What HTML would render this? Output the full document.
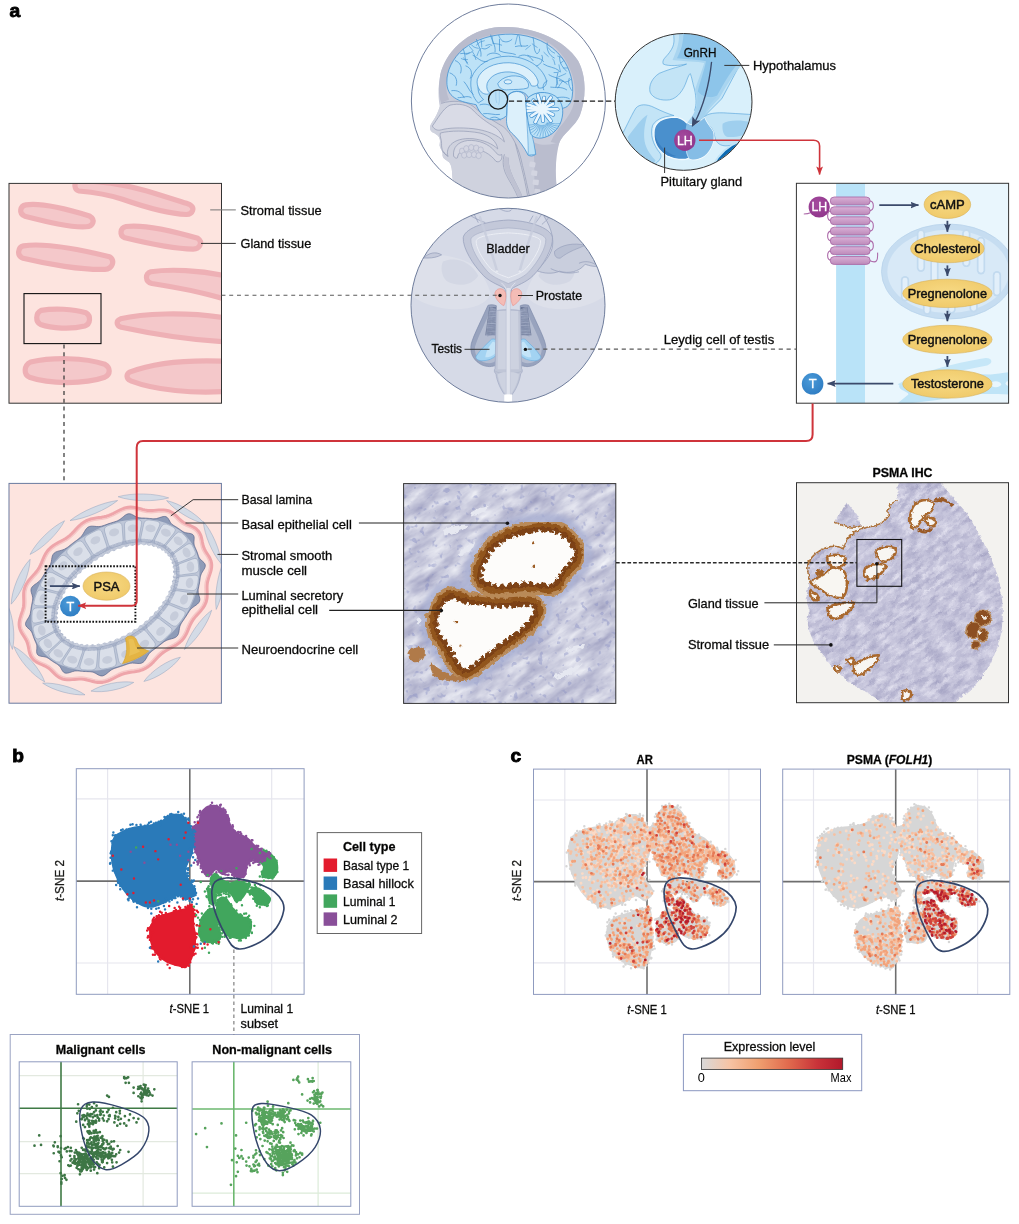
<!DOCTYPE html>
<html lang="en"><head><meta charset="utf-8"><title>Figure</title>
<style>
html,body{margin:0;padding:0;background:#fff;}
body{width:1019px;height:1224px;overflow:hidden;}
svg{display:block;font-family:"Liberation Sans", sans-serif;}
</style></head><body>
<svg width="1019" height="1224" viewBox="0 0 1019 1224">
<defs><marker id="ar" viewBox="0 0 10 8" refX="9.5" refY="4" markerUnits="userSpaceOnUse" markerWidth="8.6" markerHeight="6.8" orient="auto-start-reverse"><path d="M0,0 L10,4 L0,8 L2.2,4 z" fill="#cf343b"/></marker>
<marker id="an" viewBox="0 0 10 8" refX="9.5" refY="4" markerUnits="userSpaceOnUse" markerWidth="8.4" markerHeight="6.8" orient="auto-start-reverse"><path d="M0,0 L10,4 L0,8 L1.6,4 z" fill="#3b4a6b"/></marker></defs>
<defs><clipPath id="cpT"><rect x="9" y="183.4" width="212.5" height="219.8"/></clipPath></defs>
<rect x="9.0" y="183.4" width="212.5" height="219.8" fill="#fde4df" stroke="none" stroke-width="0" />
<g clip-path="url(#cpT)"><g transform="translate(0,170) scale(0.23553)" stroke="#eeb0b5" stroke-width="22" fill="#f4c8ca" stroke-linejoin="round">
<path d="M330,45 C420,45 520,60 620,88 C700,112 770,135 805,146 C830,160 818,188 792,189 C700,185 600,152 520,124 C440,98 370,92 335,89 C315,85 312,55 330,45 Z"/>
<path d="M110,148 C160,140 250,155 380,195 C408,212 395,240 365,241 C300,245 200,220 105,196 C78,185 85,152 110,148 Z"/>
<path d="M535,240 C600,232 720,255 840,290 C862,305 850,335 820,336 C740,335 620,310 530,288 C505,278 510,245 535,240 Z"/>
<path d="M100,322 C180,310 330,335 465,368 C490,385 478,420 445,422 C350,425 200,400 98,375 C70,365 75,328 100,322 Z"/>
<path d="M640,432 C720,420 850,425 960,450 L960,550 C880,525 760,500 645,482 C615,475 615,438 640,432 Z"/>
<path d="M175,596 C230,586 310,590 365,606 C388,620 384,655 360,662 C300,678 220,672 172,656 C150,645 150,608 175,596 Z"/>
<path d="M512,632 C600,610 780,600 960,628 L960,730 C800,722 640,695 515,668 C492,660 492,640 512,632 Z"/>
<path d="M130,815 C220,795 360,795 445,825 C470,840 470,868 445,880 C360,910 210,910 125,880 C100,868 100,830 130,815 Z"/>
<path d="M550,858 C650,820 800,805 960,812 L960,940 C820,950 660,935 555,895 C535,885 535,868 550,858 Z"/>
</g></g>
<rect x="9.0" y="183.4" width="212.5" height="219.8" fill="none" stroke="#333" stroke-width="1" />
<rect x="24.0" y="293.6" width="77.0" height="50.0" fill="none" stroke="#111" stroke-width="1.1" />
<defs><clipPath id="cpH"><circle cx="508.4" cy="101" r="96.6"/></clipPath></defs>
<circle cx="508.4" cy="101" r="97" fill="#fff"/>
<g clip-path="url(#cpH)"><g transform="translate(420,20) scale(0.17665)">
<path d="M112,330 C125,220 230,70 420,42 C600,25 800,90 895,230 C945,320 940,450 905,540 C880,600 810,640 785,700 C765,760 760,850 775,960 L800,1100 L300,1100 L300,1000 C250,985 200,950 185,900 C180,870 185,830 165,805 C140,790 125,780 128,760 C130,745 118,735 112,715 C108,700 118,690 110,670 C105,655 95,650 80,640 C55,630 50,610 65,585 C85,555 105,520 112,490 C105,450 100,400 112,330 Z" fill="#c9ccda"/>
<path d="M112,330 C125,220 230,70 420,42 C600,25 800,90 895,230 C945,320 940,450 905,540 C880,600 810,640 785,700 L740,690 C780,600 850,560 872,470 C895,360 850,240 770,160 C680,80 540,60 420,82 C280,105 180,200 152,330 C145,380 150,420 165,450 L120,470 C105,430 104,380 112,330Z" fill="#b9bccd"/>
<path d="M640,690 C700,720 760,700 790,690 C770,760 762,850 776,960 L800,1100 L640,1100 C650,950 650,800 640,690Z" fill="#babdce"/>
<path d="M120,470 C180,450 260,455 300,485 C340,520 400,560 470,600 C520,640 560,720 580,820 C600,900 620,1000 640,1100 L300,1100 L300,1000 C250,985 200,950 185,900 C180,870 185,830 165,805 C140,790 125,780 128,760 C130,745 118,735 112,715 C108,700 118,690 110,670 C105,655 95,650 80,640 C55,630 50,610 65,585 C85,555 105,520 112,490Z" fill="#cfd2de"/>
<path d="M120,472 C180,452 260,458 300,488 C340,523 400,563 470,603 C520,643 560,723 580,823 C600,903 620,1000 640,1100" fill="none" stroke="#9ba1ba" stroke-width="4.5"/>
<path d="M70,600 C100,560 130,500 170,482 C220,470 270,480 300,510 C330,545 380,580 430,610 C455,630 470,660 478,690 C440,650 380,625 300,615 C230,608 160,610 120,622 C100,628 80,620 70,600Z" fill="#d9dbe6" stroke="#9ba1ba" stroke-width="4.5"/>
<path d="M115,640 C170,625 260,625 340,640 C400,655 435,690 440,730 C410,700 360,680 300,672 C240,668 200,680 175,705 C160,720 150,745 158,770 C135,760 120,735 122,700 C123,675 110,660 115,640Z" fill="#d6d8e3" stroke="#9ba1ba" stroke-width="4.5"/>
<path d="M190,770 C185,720 215,690 270,682 C330,678 390,700 425,745 C440,765 455,770 462,760 C470,790 450,810 430,800 C400,760 350,730 290,728 C240,728 215,750 212,780 C205,785 195,780 190,770Z" fill="#d6d8e3" stroke="#9ba1ba" stroke-width="4.5"/>
<ellipse cx="238" cy="742" rx="15" ry="17" fill="#d3d5e1" stroke="#b0b5c9" stroke-width="3.5"/>
<ellipse cx="262" cy="728" rx="15" ry="17" fill="#d3d5e1" stroke="#b0b5c9" stroke-width="3.5"/>
<ellipse cx="290" cy="722" rx="15" ry="17" fill="#d3d5e1" stroke="#b0b5c9" stroke-width="3.5"/>
<ellipse cx="318" cy="725" rx="15" ry="17" fill="#d3d5e1" stroke="#b0b5c9" stroke-width="3.5"/>
<ellipse cx="344" cy="735" rx="15" ry="17" fill="#d3d5e1" stroke="#b0b5c9" stroke-width="3.5"/>
<ellipse cx="250" cy="765" rx="15" ry="17" fill="#d3d5e1" stroke="#b0b5c9" stroke-width="3.5"/>
<ellipse cx="278" cy="762" rx="15" ry="17" fill="#d3d5e1" stroke="#b0b5c9" stroke-width="3.5"/>
<ellipse cx="306" cy="762" rx="15" ry="17" fill="#d3d5e1" stroke="#b0b5c9" stroke-width="3.5"/>
<ellipse cx="332" cy="768" rx="15" ry="17" fill="#d3d5e1" stroke="#b0b5c9" stroke-width="3.5"/>
<path d="M128,745 C140,750 150,765 160,775" fill="none" stroke="#9ba1ba" stroke-width="4.5"/>
<path d="M478,760 C465,800 470,840 490,880 C510,920 540,960 560,1020 M500,780 C495,830 520,880 545,930 C565,970 580,1000 590,1040 M540,700 C560,780 590,880 610,1000" fill="none" stroke="#9ba1ba" stroke-width="4.5"/>
<path d="M480,770 C470,810 475,840 492,878 C512,918 542,958 562,1020 L592,1040 C582,1000 567,970 547,930 C522,880 497,830 502,780Z" fill="#bfc2d2"/>
<rect x="622" y="800" width="34" height="30" rx="6" fill="#d3d5e1" transform="rotate(10 622 800)"/>
<rect x="632" y="850" width="34" height="30" rx="6" fill="#d3d5e1" transform="rotate(8 632 850)"/>
<rect x="640" y="902" width="34" height="30" rx="6" fill="#d3d5e1" transform="rotate(6 640 902)"/>
<rect x="648" y="955" width="34" height="30" rx="6" fill="#d3d5e1" transform="rotate(5 648 955)"/>
<path d="M152,352 C150,290 185,215 245,165 C320,105 420,78 520,80 C640,85 740,130 805,215 C850,275 872,360 862,430 C858,470 835,500 800,500 C790,470 770,440 740,425 C700,405 650,410 615,440 L600,420 C570,395 520,400 498,425 C490,470 495,500 490,540 C470,565 430,572 390,560 C350,545 330,510 318,480 C280,470 230,465 195,440 C165,420 152,390 152,352Z" fill="#bde2f7" stroke="#3f90d2" stroke-width="4.5"/>
<path d="M290,330 C320,250 400,205 500,205 C600,208 690,260 715,340 C720,370 700,390 670,385 C660,330 600,270 510,262 C420,258 350,300 330,370 C325,400 335,430 360,450 L330,470 C300,440 280,390 290,330Z" fill="#bde2f7" stroke="#3f90d2" stroke-width="4"/>
<path d="M325,335 C345,275 420,240 505,242 C590,246 650,290 668,345 C672,368 655,380 630,372 C615,330 570,298 505,294 C440,292 395,318 380,360 C375,385 380,400 395,415 C380,425 355,420 340,400 C325,380 320,355 325,335Z" fill="#dcf0fb" stroke="#3f90d2" stroke-width="4"/>
<path d="M440,360 C465,320 530,305 580,325 C610,340 622,365 610,385 C580,395 540,392 500,395 C470,398 448,390 440,360Z" fill="#cbe8f9" stroke="#3f90d2" stroke-width="4"/>
<ellipse cx="498" cy="350" rx="22" ry="12" fill="#dcf0fb" stroke="#3f90d2" stroke-width="4"/>
<clipPath id="cpBr"><path d="M152,352 C150,290 185,215 245,165 C320,105 420,78 520,80 C640,85 740,130 805,215 C850,275 872,360 862,430 C858,470 835,500 800,500 C790,470 770,440 740,425 C700,405 650,410 615,440 L600,420 C570,395 520,400 498,425 C490,470 495,500 490,540 C470,565 430,572 390,560 C350,545 330,510 318,480 C280,470 230,465 195,440 C165,420 152,390 152,352Z"/></clipPath>
<g clip-path="url(#cpBr)" fill="none" stroke="#3f90d2" stroke-width="3.5" stroke-linecap="round"><path d="M258.8,196.1 Q278.7,190.6 294.7,179.9"/><path d="M784.1,321.6 Q805.8,313.7 825.5,303.4"/><path d="M414.3,133.6 Q411,115.3 406.6,85.4"/><path d="M664.7,191.2 Q679.8,177.6 677.3,165.4"/><path d="M726.2,157.2 Q742.8,183.1 762.1,188"/><path d="M758.8,297.8 Q779.6,300.9 792.2,290.6"/><path d="M786.6,254.1 Q788.7,267.7 795.2,294"/><path d="M349.7,151.6 Q350.1,117.9 342.3,100.4"/><path d="M811.2,271.8 Q835.7,272.7 844.3,270"/><path d="M322.1,202.6 Q330.9,173.3 343.9,160.8"/><path d="M330,160.4 Q300,156 291.9,141.1"/><path d="M318.8,142.6 Q336.8,119.6 364,117"/><path d="M598.5,166.6 Q606.2,160 625.4,144.2"/><path d="M808.8,343.9 Q791.9,363.4 780.9,384.8"/><path d="M539.4,136.4 Q545.8,110.3 551.9,87.4"/><path d="M701.3,183 Q709,190.9 726.1,206.4"/><path d="M779.3,203.7 Q800.4,204.8 815.2,226.9"/><path d="M634.9,135.1 Q648.9,147.1 663.4,154.9"/><path d="M772.1,326.4 Q778.1,341.2 779.6,364.7"/><path d="M372.8,144.2 Q396.8,133.6 407.1,142"/><path d="M795.8,243.6 Q816.6,227.6 822.9,224.1"/><path d="M268.7,224.2 Q247.1,229.4 233.4,218.6"/><path d="M468.2,121.7 Q449.1,104.1 443.5,83.1"/><path d="M300.7,174.3 Q297.6,169.9 279.8,149.3"/><path d="M270,241.4 Q249.2,222.7 246.1,214.1"/><path d="M751.7,219.6 Q759.6,224.8 764.2,252.2"/><path d="M414.4,132.2 Q450.1,135.6 462.5,142.3"/><path d="M819.4,352.2 Q843.2,350 854.8,336"/><path d="M788.5,342.9 Q821.7,344.2 832.3,363.8"/><path d="M316.6,223.9 Q308.4,189.6 296.4,178.6"/></g>
<g fill="none" stroke="#3f90d2" stroke-width="4" stroke-linecap="round"><path d="M245,165 C260,200 250,230 270,250"/><path d="M200,230 C230,240 240,270 230,300"/><path d="M170,300 C200,310 215,340 205,370"/><path d="M180,400 C215,395 235,410 250,440"/><path d="M320,110 C330,150 350,170 345,205"/><path d="M400,85 C405,120 430,140 425,180"/><path d="M450,110 L450,175 C480,190 520,185 540,195"/><path d="M470,120 C490,130 510,120 520,110"/><path d="M540,150 C570,140 590,155 610,145"/><path d="M560,85 C570,110 560,130 575,150"/><path d="M640,100 C650,140 640,170 660,190"/><path d="M610,200 C640,215 680,210 700,235"/><path d="M720,130 C715,170 730,200 760,215"/><path d="M700,250 C730,270 760,265 785,285"/><path d="M790,210 C790,250 810,270 830,290"/><path d="M730,310 C760,330 790,325 815,350"/><path d="M740,380 C770,385 800,375 830,395"/><path d="M760,440 C790,440 815,430 845,445"/><path d="M845,330 C835,355 845,380 860,400"/><path d="M260,260 C290,270 300,300 285,330"/><path d="M250,350 C270,370 275,400 300,420"/><path d="M215,440 C245,440 270,425 290,440"/><path d="M340,480 C370,470 400,480 420,500"/><path d="M360,530 C390,525 420,540 450,535"/><path d="M400,555 C420,545 440,550 455,565"/><path d="M300,200 C330,215 345,240 380,235"/><path d="M380,200 C400,180 440,185 455,200"/><path d="M560,205 C590,190 620,200 640,230"/><path d="M350,160 C370,170 380,160 395,150"/><path d="M660,260 C690,250 700,220 690,200"/><path d="M230,190 C250,185 270,195 280,185"/><path d="M780,300 C770,330 780,350 770,380"/><path d="M700,395 C690,370 705,350 720,345"/></g>
<path d="M500,428 C520,400 570,395 592,425 C600,440 598,470 603,520 C610,580 640,680 655,760 C640,772 625,772 612,765 C590,720 560,680 530,650 C500,625 488,600 490,560 C495,520 490,470 500,428Z" fill="#dcf0fb" stroke="#3f90d2" stroke-width="4.5"/>
<path d="M603,520 C620,600 645,680 655,760 L612,765 C615,700 605,600 603,520Z" fill="#bde2f7" stroke="#3f90d2" stroke-width="3"/>
<path d="M612,440 C650,405 715,400 765,430 C800,455 815,500 805,550 C795,610 745,660 690,668 C660,672 632,660 625,640 C615,600 605,540 603,500 C600,475 602,455 612,440Z" fill="#bde2f7" stroke="#3f90d2" stroke-width="4.5"/>
<clipPath id="cpCb"><path d="M612,440 C650,405 715,400 765,430 C800,455 815,500 805,550 C795,610 745,660 690,668 C660,672 632,660 625,640 C615,600 605,540 603,500 C600,475 602,455 612,440Z"/></clipPath>
<g clip-path="url(#cpCb)" fill="none" stroke="#3f90d2" stroke-width="3"><path d="M718.2,581.8 Q773.1,591.9 808.1,586"/><path d="M716.2,584.7 Q768.4,601.9 800.6,603.2"/><path d="M713.6,587.3 Q762.1,611.1 790.6,618.9"/><path d="M710.5,589.6 Q754.4,619.2 778.4,632.8"/><path d="M706.8,591.6 Q745.5,626 764.3,644.5"/><path d="M702.7,593.1 Q735.6,631.4 748.6,653.8"/><path d="M698.3,594.2 Q725,635.3 731.7,660.4"/><path d="M693.7,594.9 Q713.8,637.5 714,664.1"/><path d="M689,595 Q702.5,638 696,664.9"/><path d="M684.3,594.6 Q691.2,636.7 678.1,662.8"/><path d="M679.7,593.8 Q680.2,633.8 660.7,657.8"/><path d="M675.5,592.5 Q669.9,629.2 644.2,650"/><path d="M671.5,590.8 Q660.4,623.2 629.2,639.6"/><path d="M668.1,588.6 Q652,615.7 615.9,626.8"/><path d="M665.1,586.2 Q644.9,607.1 604.7,612.1"/><path d="M662.8,583.5 Q639.3,597.6 595.8,595.7"/></g>
<g clip-path="url(#cpCb)"><g stroke="#3f90d2" stroke-width="23" stroke-linecap="round"><line x1="690" y1="505" x2="607.3" y2="477.3"/><line x1="690" y1="505" x2="641.8" y2="455.8"/><line x1="690" y1="505" x2="667.2" y2="426.8"/><line x1="690" y1="505" x2="702.5" y2="439.8"/><line x1="690" y1="505" x2="740.5" y2="438.7"/><line x1="690" y1="505" x2="753.6" y2="473.9"/><line x1="690" y1="505" x2="778" y2="505"/><line x1="690" y1="505" x2="753.6" y2="536.1"/><line x1="690" y1="505" x2="740.5" y2="571.3"/><line x1="690" y1="505" x2="696.3" y2="571"/><line x1="690" y1="505" x2="652.8" y2="578.4"/><line x1="690" y1="505" x2="631" y2="543"/><line x1="690" y1="505" x2="602.9" y2="516.3"/></g>
<g stroke="#eaf6fd" stroke-width="15" stroke-linecap="round"><line x1="690" y1="505" x2="607.3" y2="477.3"/><line x1="690" y1="505" x2="641.8" y2="455.8"/><line x1="690" y1="505" x2="667.2" y2="426.8"/><line x1="690" y1="505" x2="702.5" y2="439.8"/><line x1="690" y1="505" x2="740.5" y2="438.7"/><line x1="690" y1="505" x2="753.6" y2="473.9"/><line x1="690" y1="505" x2="778" y2="505"/><line x1="690" y1="505" x2="753.6" y2="536.1"/><line x1="690" y1="505" x2="740.5" y2="571.3"/><line x1="690" y1="505" x2="696.3" y2="571"/><line x1="690" y1="505" x2="652.8" y2="578.4"/><line x1="690" y1="505" x2="631" y2="543"/><line x1="690" y1="505" x2="602.9" y2="516.3"/></g>
<circle cx="690" cy="505" r="26" fill="#eaf6fd"/>
<line x1="600" y1="497" x2="690" y2="505" stroke="#eaf6fd" stroke-width="15"/></g>
<path d="M428,395 C432,420 425,445 435,470 M450,400 C445,430 455,455 445,480" fill="none" stroke="#7fb9e3" stroke-width="2.5"/>
<circle cx="442" cy="450" r="54" fill="none" stroke="#1a1a1a" stroke-width="7"/>
</g></g>
<circle cx="508.4" cy="101" r="97" fill="none" stroke="#6f7d9c" stroke-width="1"/>
<defs><clipPath id="cpP"><circle cx="683.6" cy="101.9" r="68.0"/></clipPath></defs>
<circle cx="683.6" cy="101.9" r="68.4" fill="#d9f0fb"/>
<g clip-path="url(#cpP)"><g transform="translate(610,28) scale(0.14721)" stroke-linejoin="round">
<path d="M430,20 C435,80 445,110 405,165 C380,200 350,215 362,245 C400,262 470,255 520,245 C480,262 420,272 335,308 C285,340 262,390 272,435 C290,480 350,495 405,488 C460,478 500,420 520,360 C530,330 538,315 545,310 C555,330 560,370 575,420 C585,470 590,520 575,560 L640,600 L760,480 L900,215 L800,100 L560,20Z" fill="#c3e4f6" stroke="#5aa5dc" stroke-width="4.5"/>
<path d="M470,20 C470,80 468,120 425,218 C500,228 600,228 640,238 C625,290 596,360 578,420 C590,470 600,520 572,575 L640,610 C660,560 700,520 740,480 C790,400 850,290 920,225 L800,60 L600,10Z" fill="#a9d5f0"/>
<path d="M500,20 C498,90 490,140 455,205 C520,212 610,215 652,226 C640,290 610,370 596,432 C625,472 690,480 728,458 C770,380 830,270 905,205 L800,60 L600,10Z" fill="#8dc5ea"/>
<path d="M588,425 C604,500 592,545 562,592 C547,617 532,632 522,647 L560,667 C590,652 620,632 642,612 C640,572 672,522 732,462 C690,485 628,478 588,425Z" fill="#a3d1ee"/>
<path d="M60,760 C100,700 140,600 175,545 C200,515 250,515 300,540 C350,565 400,585 435,595 C380,600 320,610 290,660 C270,720 290,790 340,850 C360,880 330,905 300,930 L100,900Z" fill="#c3e4f6" stroke="#5aa5dc" stroke-width="4.5"/>
<path d="M120,740 C170,680 215,610 255,590 C240,640 225,700 235,770 C245,830 290,880 310,900 L270,960 L150,860Z" fill="#9fcfee"/>
<path d="M640,605 C660,580 720,572 800,578 C870,582 930,585 980,590 L980,720 C940,760 880,790 800,800 C750,805 720,780 712,740 C705,700 690,670 660,650 C645,640 635,620 640,605Z" fill="#c3e4f6" stroke="#5aa5dc" stroke-width="4.5"/>
<path d="M765,650 C800,625 880,620 960,640 L960,700 C920,730 850,745 800,740 C770,735 760,690 765,650Z" fill="#9fcfee"/>
<path d="M700,930 C740,860 800,800 880,770 C920,760 960,740 990,720 L990,990 L700,990Z" fill="#0b6ab3"/>
<path d="M700,930 C740,860 800,800 880,770 C920,760 960,740 990,720" fill="none" stroke="#c3e4f6" stroke-width="14"/>
<path d="M300,690 C310,640 360,610 430,605 C470,605 505,625 522,645 C545,660 560,665 580,655 C610,640 630,620 642,610 C650,640 680,670 700,705 C715,760 690,830 640,870 C600,895 560,900 535,885 C500,900 440,895 390,870 C330,835 290,760 300,690Z" fill="#4a90cd" stroke="#f4fbfe" stroke-width="9"/>
<path d="M522,645 C545,660 560,665 580,655 C610,640 630,620 642,610 C650,640 680,670 700,705 C715,760 690,830 640,870 C600,895 560,900 535,885 C515,850 512,800 512,750 C512,700 515,670 522,645Z" fill="#85bde6"/>
<path d="M305,720 C320,790 380,850 450,870 C410,880 370,860 340,825 C315,795 300,755 305,720Z" fill="#3a80c2"/>
<path d="M535,885 C515,850 512,800 512,750" fill="none" stroke="#eef8fd" stroke-width="4"/>
<path d="M690,230 C672,400 625,550 572,648" fill="none" stroke="#3b4a6b" stroke-width="9"/>
<path d="M556,672 L560,600 L582,630 L616,628 Z" fill="#3b4a6b"/>
</g></g>
<circle cx="683.6" cy="101.9" r="68.4" fill="none" stroke="#333" stroke-width="1"/>
<circle cx="684.8" cy="140.2" r="10.7" fill="url(#gPur)"/>
<text x="684.9" y="144.6" font-size="12" text-anchor="middle" fill="#fff" textLength="15.8" lengthAdjust="spacingAndGlyphs" stroke="#fff" stroke-width="0.3">LH</text>
<defs><clipPath id="cpB"><circle cx="508" cy="305.3" r="96.6"/></clipPath></defs>
<circle cx="508" cy="305.3" r="97" fill="#d6dae7"/>
<g clip-path="url(#cpB)"><g transform="translate(420,205) scale(0.17665)" stroke-linejoin="round">
<path d="M-40,300 C60,270 200,280 300,340 C350,380 380,440 400,500 C380,560 300,590 200,590 C100,590 20,560 -40,520Z" fill="#dde0ea"/>
<path d="M1040,300 C940,270 800,280 700,340 C650,380 620,440 600,500 C620,560 700,590 800,590 C900,590 980,560 1040,520Z" fill="#dde0ea"/>
<path d="M130,320 C200,290 290,320 330,400 C300,450 220,470 150,430 C120,400 115,350 130,320Z" fill="#d3d7e4"/>
<path d="M870,320 C800,290 710,320 670,400 C700,450 780,470 850,430 C880,400 885,350 870,320Z" fill="#d3d7e4"/>
<path d="M700,60 C790,90 860,130 900,175 C950,210 990,260 1040,330 L1040,345 C990,352 960,345 935,335 C900,380 840,390 790,375 C750,392 700,388 662,372 C700,330 735,290 748,245 C758,200 750,140 700,60Z" fill="#c9cedd" stroke="#9aa3bd" stroke-width="4.5"/>
<path d="M762,262 C800,225 870,212 935,228 C900,245 840,262 795,300 C775,305 758,290 762,262Z" fill="#b9c0d3" stroke="#9aa3bd" stroke-width="4"/>
<path d="M900,330 C930,315 965,320 990,335 M740,360 C790,385 850,392 900,378" fill="none" stroke="#9aa3bd" stroke-width="4.5"/>
<path d="M20,300 C50,270 90,262 122,282 C100,295 70,300 45,300Z" fill="#c5cadb" stroke="#9aa3bd" stroke-width="4.5"/>
<path d="M250,40 C300,70 340,90 370,100 M300,40 L330,100 M640,60 L620,95 M690,50 C670,80 660,95 650,105 M450,20 C480,40 510,40 520,25 M740,60 C720,85 700,100 690,110" fill="none" stroke="#9aa3bd" stroke-width="4.5"/>
<path d="M245,185 C250,140 350,92 500,85 C650,92 745,140 750,185 C755,240 700,340 640,400 C600,440 545,455 518,475 L518,520 L482,520 L482,475 C455,455 400,440 360,400 C300,340 240,240 245,185Z" fill="#c3c8d9" stroke="#9aa3bd" stroke-width="4.5"/>
<path d="M288,195 C292,165 380,135 500,130 C620,135 708,165 712,195 C715,240 670,320 615,380 C580,415 530,430 500,445 C470,430 420,415 385,380 C330,320 285,240 288,195Z" fill="#d7dbe7" stroke="#a9b1c8" stroke-width="4"/>
<path d="M318,203 C322,180 400,162 500,158 C600,162 678,180 682,203 C685,240 645,310 600,360 C570,390 530,400 500,412 C470,400 430,390 400,360 C355,310 315,240 318,203Z" fill="#d7dbe7" stroke="#eef0f6" stroke-width="5"/>
<path d="M340,70 C370,160 410,280 435,370 M660,70 C630,160 590,280 565,370" fill="none" stroke="#c7ccdc" stroke-width="14" stroke-linecap="round" opacity="0.8"/>
<circle cx="435" cy="376" r="7" fill="#e6e9f0"/><circle cx="565" cy="376" r="7" fill="#e6e9f0"/>
<path d="M385,568 C400,562 420,565 432,570 L432,905 C410,918 380,918 350,905 C310,885 285,850 288,800 C292,760 330,690 385,568Z" fill="#98a3be" stroke="#7f8bab" stroke-width="4"/>
<path d="M615 568 C600 562 580 565 568 570 L568 905 C590 918 620 918 650 905 C690 885 715 850 712 800 C708 760 670 690 615 568 Z" fill="#98a3be" stroke="#7f8bab" stroke-width="4"/>
<path d="M395,600 C380,650 330,740 312,800 C305,840 325,875 360,890 C390,900 415,895 425,885 L425,740 C410,735 395,740 380,745 C385,700 392,650 395,600Z" fill="#b4bcd0"/>
<path d="M605 600 C620 650 670 740 688 800 C695 840 675 875 640 890 C610 900 585 895 575 885 L575 740 C590 735 605 740 620 745 C615 700 608 650 605 600 Z" fill="#b4bcd0"/>
<path d="M392,580 Q411,581.7 430,581.5 M391.1,586.2 Q410.6,590.3 430,588.9 M390.2,592.4 Q410.1,595.8 430,594.9 M389.3,598.6 Q409.6,592 430,598.4 M388.4,604.8 Q409.2,611 430,605.7 M387.5,611 Q408.8,616.6 430,608.7 M386.6,617.2 Q408.3,616.8 430,615.7 M385.7,623.4 Q407.9,624 430,623.8 M384.8,629.6 Q407.4,622.8 430,627.9 M383.9,635.8 Q406.9,632.7 430,638.3 M383,642 Q406.5,645.7 430,640 M382.1,648.2 Q406.1,652.4 430,646 M381.2,654.4 Q405.6,656 430,652.2 M380.3,660.6 Q405.1,653.6 430,662.8 M379.4,666.8 Q404.7,662.7 430,665.1 M378.5,673 Q404.2,679.8 430,675.2 M377.6,679.2 Q403.8,676.3 430,682 M376.7,685.4 Q403.4,685.9 430,686.5 M375.8,691.6 Q402.9,687.5 430,694.2 M374.9,697.8 Q402.4,700.5 430,700.6 M374,704 Q402,709.5 430,702.8 M373.1,710.2 Q401.6,708.3 430,708.2 M372.2,716.4 Q401.1,711.4 430,713.8 M371.3,722.6 Q400.6,719.8 430,723.2 M370.4,728.8 Q400.2,721.8 430,729.9 M369.5,735 Q399.8,732.7 430,733.9" fill="none" stroke="#5d6a8c" stroke-width="4.5"/>
<path d="M398,575 L376,740 M402,577 L382.5,740 M406,579 L389,740 M410,581 L395.5,740 M414,583 L402,740 M418,585 L408.5,740 M422,587 L415,740 M426,589 L421.5,740 M430,591 L428,740" fill="none" stroke="#aeb7cd" stroke-width="2.5"/>
<path d="M608,580 Q589,584.5 570,579.9 M608.9,586.2 Q589.5,583.6 570,586.1 M609.8,592.4 Q589.9,595.3 570,589.7 M610.7,598.6 Q590.4,605.3 570,595.7 M611.6,604.8 Q590.8,608.3 570,606.9 M612.5,611 Q591.2,604.3 570,612.7 M613.4,617.2 Q591.7,615.3 570,617.7 M614.3,623.4 Q592.1,616.5 570,620.7 M615.2,629.6 Q592.6,625.1 570,632.3 M616.1,635.8 Q593,631.6 570,637.3 M617,642 Q593.5,648 570,644.7 M617.9,648.2 Q594,646 570,647.3 M618.8,654.4 Q594.4,654.7 570,656.1 M619.7,660.6 Q594.9,655.1 570,662.1 M620.6,666.8 Q595.3,671 570,669 M621.5,673 Q595.8,666.5 570,675.7 M622.4,679.2 Q596.2,673.5 570,678.2 M623.3,685.4 Q596.6,687 570,687.9 M624.2,691.6 Q597.1,689.4 570,694.1 M625.1,697.8 Q597.5,698.4 570,696.7 M626,704 Q598,701.4 570,702.1 M626.9,710.2 Q598.5,704.3 570,708.1 M627.8,716.4 Q598.9,719 570,719.4 M628.7,722.6 Q599.4,717.9 570,719.9 M629.6,728.8 Q599.8,735.6 570,729 M630.5,735 Q600.2,733.7 570,733.4" fill="none" stroke="#5d6a8c" stroke-width="4.5"/>
<path d="M602,575 L624,740 M598,577 L617.5,740 M594,579 L611,740 M590,581 L604.5,740 M586,583 L598,740 M582,585 L591.5,740 M578,587 L585,740 M574,589 L578.5,740 M570,591 L572,740" fill="none" stroke="#aeb7cd" stroke-width="2.5"/>
<path d="M405,760 C418,757 428,760 432,768 L432,850 C415,870 385,882 350,882 C325,880 312,868 318,855 C340,820 375,790 405,760Z" fill="#a3d3f2" stroke="#6fb0e0" stroke-width="4"/>
<path d="M595 760 C582 757 572 760 568 768 L568 850 C585 870 615 882 650 882 C675 880 688 868 682 855 C660 820 625 790 595 760 Z" fill="#a3d3f2" stroke="#6fb0e0" stroke-width="4"/>
<path d="M410,775 C418,772 425,775 426,785 L426,840 C410,855 390,862 370,862 C372,830 390,800 410,775Z" fill="#c4e4f8"/>
<path d="M590 775 C582 772 575 775 574 785 L574 840 C590 855 610 862 630 862 C628 830 610 800 590 775 Z" fill="#c4e4f8"/>
<path d="M432,600 C440,590 560,590 568,600 L575,925 C582,935 580,950 570,955 C565,1000 540,1050 520,1075 L480,1075 C460,1050 435,1000 430,955 C420,950 418,935 425,925Z" fill="#c0c6d7" stroke="#a3abc4" stroke-width="4"/>
<path d="M445,600 L555,600 L560,930 L440,930Z" fill="#cdd2e0"/>
<path d="M425,940 C450,960 550,960 575,940" fill="none" stroke="#aab2c8" stroke-width="3"/>
<path d="M440,960 C455,940 545,940 560,960 C555,1000 535,1045 515,1070 L485,1070 C465,1045 445,1000 440,960Z" fill="#cdd2e0"/>
<path d="M488,470 L488,1080 L512,1080 L512,470Z" fill="#dfe2ec"/>
<path d="M488,470 L488,1075 M512,470 L512,1075" fill="none" stroke="#b4bbcf" stroke-width="2.5"/>
<path d="M460,440 C475,455 486,465 488,480 M540,440 C525,455 514,465 512,480" fill="none" stroke="#eef0f6" stroke-width="4"/>
<path d="M424,505 C424,485 440,472 458,474 C475,476 486,490 486,510 C486,535 482,555 474,570 C455,560 428,535 424,505Z" fill="#f4bcb6" stroke="#ea9893" stroke-width="4"/>
<path d="M576 505 C576 485 560 472 542 474 C525 476 514 490 514 510 C514 535 518 555 526 570 C545 560 572 535 576 505 Z" fill="#f4bcb6" stroke="#ea9893" stroke-width="4"/>
<rect x="477" y="1072" width="44" height="50" fill="#fff"/>
</g></g>
<circle cx="508" cy="305.3" r="97" fill="none" stroke="#6f7d9c" stroke-width="1"/>
<circle cx="500" cy="295.5" r="1.7" fill="#111"/>
<circle cx="525.4" cy="349.4" r="1.7" fill="#111"/>
<defs><clipPath id="cpL"><rect x="796.4" y="183.3" width="212.20000000000005" height="219.89999999999998"/></clipPath>
<radialGradient id="gOv" cx="0.5" cy="0.45" r="0.75"><stop offset="0" stop-color="#f7d983"/><stop offset="0.7" stop-color="#f0cb6c"/><stop offset="1" stop-color="#e3b54f"/></radialGradient>
<radialGradient id="gPur" cx="0.4" cy="0.35" r="0.8"><stop offset="0" stop-color="#a44a9e"/><stop offset="1" stop-color="#8d3389"/></radialGradient>
<radialGradient id="gBlu" cx="0.4" cy="0.35" r="0.8"><stop offset="0" stop-color="#4a9ad8"/><stop offset="1" stop-color="#2b79c0"/></radialGradient>
<linearGradient id="gHel" x1="0" y1="0" x2="0" y2="1"><stop offset="0" stop-color="#dbb0d8"/><stop offset="0.5" stop-color="#cb9dc8"/><stop offset="1" stop-color="#bd8bba"/></linearGradient>
</defs>
<rect x="796.4" y="183.3" width="212.2" height="219.9" fill="#fff" stroke="none" stroke-width="0" />
<rect x="865.0" y="183.3" width="143.6" height="219.9" fill="#e9f6fd" stroke="none" stroke-width="0" />
<rect x="836.1" y="183.3" width="28.9" height="219.9" fill="#b9e3f8" stroke="none" stroke-width="0" />
<g clip-path="url(#cpL)"><g transform="translate(780,160) scale(0.24513)">
<ellipse cx="686" cy="455" rx="272" ry="194" fill="#c6ddf1" stroke="#b7d2ea" stroke-width="3"/>
<ellipse cx="686" cy="455" rx="248" ry="170" fill="#d8e9f7"/>
<line x1="575" y1="300" x2="575" y2="440" stroke="#c2daef" stroke-width="34" stroke-linecap="round"/>
<line x1="575" y1="300" x2="575" y2="440" stroke="#e2effa" stroke-width="20" stroke-linecap="round"/>
<line x1="630" y1="420" x2="630" y2="520" stroke="#c2daef" stroke-width="34" stroke-linecap="round"/>
<line x1="630" y1="420" x2="630" y2="520" stroke="#e2effa" stroke-width="20" stroke-linecap="round"/>
<line x1="510" y1="490" x2="510" y2="560" stroke="#c2daef" stroke-width="34" stroke-linecap="round"/>
<line x1="510" y1="490" x2="510" y2="560" stroke="#e2effa" stroke-width="20" stroke-linecap="round"/>
<line x1="760" y1="300" x2="760" y2="420" stroke="#c2daef" stroke-width="34" stroke-linecap="round"/>
<line x1="760" y1="300" x2="760" y2="420" stroke="#e2effa" stroke-width="20" stroke-linecap="round"/>
<line x1="820" y1="330" x2="820" y2="450" stroke="#c2daef" stroke-width="34" stroke-linecap="round"/>
<line x1="820" y1="330" x2="820" y2="450" stroke="#e2effa" stroke-width="20" stroke-linecap="round"/>
<line x1="885" y1="470" x2="885" y2="540" stroke="#c2daef" stroke-width="34" stroke-linecap="round"/>
<line x1="885" y1="470" x2="885" y2="540" stroke="#e2effa" stroke-width="20" stroke-linecap="round"/>
<line x1="700" y1="560" x2="700" y2="610" stroke="#c2daef" stroke-width="34" stroke-linecap="round"/>
<line x1="700" y1="560" x2="700" y2="610" stroke="#e2effa" stroke-width="20" stroke-linecap="round"/>
<line x1="600" y1="570" x2="600" y2="615" stroke="#c2daef" stroke-width="34" stroke-linecap="round"/>
<line x1="600" y1="570" x2="600" y2="615" stroke="#e2effa" stroke-width="20" stroke-linecap="round"/>
<line x1="790" y1="560" x2="790" y2="605" stroke="#c2daef" stroke-width="34" stroke-linecap="round"/>
<line x1="790" y1="560" x2="790" y2="605" stroke="#e2effa" stroke-width="20" stroke-linecap="round"/>
<path d="M480,915 C560,870 700,830 840,808 C870,808 868,832 845,838 C720,860 600,895 520,935 Z" fill="#c6e7f8"/>
<path d="M490,915 C560,880 700,870 860,875 C900,870 960,860 1000,862 L1000,960 C900,955 820,950 760,960 C680,975 560,990 470,1000 L520,960 C540,945 470,940 490,915 Z" fill="#bfe4f7"/>
<ellipse cx="880" cy="915" rx="22" ry="12" fill="#e9f6fd"/>
<ellipse cx="950" cy="912" rx="30" ry="13" fill="#e9f6fd"/>
<g fill="none" stroke="#ad6baa" stroke-width="4.5">
<path d="M365,167 C386,167 386,207 365,207"/>
<path d="M210,207 C189,207 189,248 210,248"/>
<path d="M365,248 C386,248 386,290 365,290"/>
<path d="M210,290 C189,290 189,330 210,330"/>
<path d="M365,330 C386,330 386,370 365,370"/>
<path d="M210,370 C189,370 189,410 210,410"/>
<path d="M365,410 C395,425 400,410 398,378"/>
<path d="M97,220 C110,220 118,218 128,214"/>
</g>
<rect x="205" y="151" width="163" height="32" rx="16" fill="url(#gHel)" stroke="#a968a6" stroke-width="3.5"/>
<rect x="205" y="191" width="163" height="32" rx="16" fill="url(#gHel)" stroke="#a968a6" stroke-width="3.5"/>
<rect x="205" y="232" width="163" height="32" rx="16" fill="url(#gHel)" stroke="#a968a6" stroke-width="3.5"/>
<rect x="205" y="274" width="163" height="32" rx="16" fill="url(#gHel)" stroke="#a968a6" stroke-width="3.5"/>
<rect x="205" y="314" width="163" height="32" rx="16" fill="url(#gHel)" stroke="#a968a6" stroke-width="3.5"/>
<rect x="205" y="354" width="163" height="32" rx="16" fill="url(#gHel)" stroke="#a968a6" stroke-width="3.5"/>
<rect x="205" y="394" width="163" height="32" rx="16" fill="url(#gHel)" stroke="#a968a6" stroke-width="3.5"/>
</g></g>
<rect x="796.4" y="183.3" width="212.2" height="219.9" fill="none" stroke="#333" stroke-width="1" />
<circle cx="819.2" cy="207" r="10.6" fill="url(#gPur)"/>
<text x="819.4" y="211.4" font-size="12" text-anchor="middle" fill="#fff" textLength="15.8" lengthAdjust="spacingAndGlyphs" stroke="#fff" stroke-width="0.3">LH</text>
<circle cx="812.6" cy="383.8" r="10.8" fill="url(#gBlu)"/>
<text x="812.6" y="388.3" font-size="12.5" text-anchor="middle" fill="#fff" textLength="7.9" lengthAdjust="spacingAndGlyphs" stroke="#fff" stroke-width="0.3">T</text>
<ellipse cx="947.4" cy="204.6" rx="23.3" ry="13.9" fill="url(#gOv)" stroke="#d9b25a" stroke-width="0.6"/>
<text x="947.4" y="209.0" font-size="12.6" text-anchor="middle" fill="#111" textLength="34.7" lengthAdjust="spacingAndGlyphs" stroke="#111" stroke-width="0.45">cAMP</text>
<ellipse cx="947.4" cy="248.7" rx="36.8" ry="14.1" fill="url(#gOv)" stroke="#d9b25a" stroke-width="0.6"/>
<text x="947.4" y="253.1" font-size="12.6" text-anchor="middle" fill="#111" textLength="66.2" lengthAdjust="spacingAndGlyphs" stroke="#111" stroke-width="0.45">Cholesterol</text>
<ellipse cx="947.4" cy="293.4" rx="44.7" ry="14.2" fill="url(#gOv)" stroke="#d9b25a" stroke-width="0.6"/>
<text x="947.4" y="297.8" font-size="12.6" text-anchor="middle" fill="#111" textLength="79.2" lengthAdjust="spacingAndGlyphs" stroke="#111" stroke-width="0.45">Pregnenolone</text>
<ellipse cx="947.4" cy="339.5" rx="44.7" ry="14.2" fill="url(#gOv)" stroke="#d9b25a" stroke-width="0.6"/>
<text x="947.4" y="343.9" font-size="12.6" text-anchor="middle" fill="#111" textLength="79.2" lengthAdjust="spacingAndGlyphs" stroke="#111" stroke-width="0.45">Pregnenolone</text>
<ellipse cx="947.4" cy="384" rx="44.7" ry="14.2" fill="url(#gOv)" stroke="#d9b25a" stroke-width="0.6"/>
<text x="947.4" y="388.4" font-size="12.6" text-anchor="middle" fill="#111" textLength="73.0" lengthAdjust="spacingAndGlyphs" stroke="#111" stroke-width="0.45">Testosterone</text>
<line x1="879.3" y1="205.1" x2="918.5" y2="205.1" stroke="#3b4a6b" stroke-width="1.8" marker-end="url(#an)"/>
<line x1="947.4" y1="220.8" x2="947.4" y2="231.8" stroke="#3b4a6b" stroke-width="1.8" marker-end="url(#an)"/>
<line x1="947.4" y1="265.4" x2="947.4" y2="276" stroke="#3b4a6b" stroke-width="1.8" marker-end="url(#an)"/>
<line x1="947.4" y1="310.8" x2="947.4" y2="321.2" stroke="#3b4a6b" stroke-width="1.8" marker-end="url(#an)"/>
<line x1="947.4" y1="356" x2="947.4" y2="366.8" stroke="#3b4a6b" stroke-width="1.8" marker-end="url(#an)"/>
<line x1="893.3" y1="383.6" x2="827.6" y2="383.6" stroke="#3b4a6b" stroke-width="1.8" marker-end="url(#an)"/>
<defs><clipPath id="cpG"><rect x="9" y="483.4" width="212.4" height="219.80000000000007"/></clipPath></defs>
<rect x="9.0" y="483.4" width="212.4" height="219.8" fill="#fde4df" stroke="none" stroke-width="0" />
<g clip-path="url(#cpG)"><g transform="translate(0,470) scale(0.23553)">
<path transform="translate(901.5,308.7) rotate(66.9)" d="M-97.82898976699693,0 C-44.02304539514862,-18.25424586962251 44.02304539514862,-18.25424586962251 97.82898976699693,0 C44.02304539514862,18.25424586962251 -44.02304539514862,18.25424586962251 -97.82898976699693,0Z" fill="#d4dbe6" stroke="#95a4bd" stroke-width="2"/>
<path transform="translate(934.5,489.5) rotate(99.1)" d="M-103.71682051471737,0 C-46.672569231622816,-17.862181433337714 46.672569231622816,-17.862181433337714 103.71682051471737,0 C46.672569231622816,17.862181433337714 -46.672569231622816,17.862181433337714 -103.71682051471737,0Z" fill="#d4dbe6" stroke="#95a4bd" stroke-width="2"/>
<path transform="translate(840.8,678.8) rotate(124.8)" d="M-101.6458760775204,0 C-45.74064423488418,-19.328444584562927 45.74064423488418,-19.328444584562927 101.6458760775204,0 C45.74064423488418,19.328444584562927 -45.74064423488418,19.328444584562927 -101.6458760775204,0Z" fill="#d4dbe6" stroke="#95a4bd" stroke-width="2"/>
<path transform="translate(688.4,846.2) rotate(146.4)" d="M-93.04398064594473,0 C-41.86979129067513,-20.037178665947103 41.86979129067513,-20.037178665947103 93.04398064594473,0 C41.86979129067513,20.037178665947103 -41.86979129067513,20.037178665947103 -93.04398064594473,0Z" fill="#d4dbe6" stroke="#95a4bd" stroke-width="2"/>
<path transform="translate(477.1,920.3) rotate(168.5)" d="M-92.67492185195573,0 C-41.70371483338008,-19.668228418311926 41.70371483338008,-19.668228418311926 92.67492185195573,0 C41.70371483338008,19.668228418311926 -41.70371483338008,19.668228418311926 -92.67492185195573,0Z" fill="#d4dbe6" stroke="#95a4bd" stroke-width="2"/>
<path transform="translate(271,929.7) rotate(-164.6)" d="M-93.25739762434314,0 C-41.965828930954416,-17.953565066719325 41.965828930954416,-17.953565066719325 93.25739762434314,0 C41.965828930954416,17.953565066719325 -41.965828930954416,17.953565066719325 -93.25739762434314,0Z" fill="#d4dbe6" stroke="#95a4bd" stroke-width="2"/>
<path transform="translate(124.5,824.7) rotate(-131.1)" d="M-99.64134540456526,0 C-44.838605432054365,-21.634260623360188 44.838605432054365,-21.634260623360188 99.64134540456526,0 C44.838605432054365,21.634260623360188 -44.838605432054365,21.634260623360188 -99.64134540456526,0Z" fill="#d4dbe6" stroke="#95a4bd" stroke-width="2"/>
<path transform="translate(42.7,668) rotate(-96.2)" d="M-94.22843530069362,0 C-42.40279588531213,-18.616194823035073 42.40279588531213,-18.616194823035073 94.22843530069362,0 C42.40279588531213,18.616194823035073 -42.40279588531213,18.616194823035073 -94.22843530069362,0Z" fill="#d4dbe6" stroke="#95a4bd" stroke-width="2"/>
<path transform="translate(87.7,474.4) rotate(-67.2)" d="M-103.29379800330061,0 C-46.482209101485275,-22.238544712285027 46.482209101485275,-22.238544712285027 103.29379800330061,0 C46.482209101485275,22.238544712285027 -46.482209101485275,22.238544712285027 -103.29379800330061,0Z" fill="#d4dbe6" stroke="#95a4bd" stroke-width="2"/>
<path transform="translate(200.9,287) rotate(-44.3)" d="M-102.38785307511498,0 C-46.07453388380174,-19.4834023732539 46.07453388380174,-19.4834023732539 102.38785307511498,0 C46.07453388380174,19.4834023732539 -46.07453388380174,19.4834023732539 -102.38785307511498,0Z" fill="#d4dbe6" stroke="#95a4bd" stroke-width="2"/>
<path transform="translate(398.4,172.2) rotate(-22.9)" d="M-109.57259190067256,0 C-49.30766635530266,-17.73291340308878 49.30766635530266,-17.73291340308878 109.57259190067256,0 C49.30766635530266,17.73291340308878 -49.30766635530266,17.73291340308878 -109.57259190067256,0Z" fill="#d4dbe6" stroke="#95a4bd" stroke-width="2"/>
<path transform="translate(608.8,116) rotate(1.3)" d="M-107.45243226287623,0 C-48.3535945182943,-18.94804643165838 48.3535945182943,-18.94804643165838 107.45243226287623,0 C48.3535945182943,18.94804643165838 -48.3535945182943,18.94804643165838 -107.45243226287623,0Z" fill="#d4dbe6" stroke="#95a4bd" stroke-width="2"/>
<path transform="translate(788.3,179.1) rotate(31.3)" d="M-94.59659150043387,0 C-42.56846617519525,-18.088961190391842 42.56846617519525,-18.088961190391842 94.59659150043387,0 C42.56846617519525,18.088961190391842 -42.56846617519525,18.088961190391842 -94.59659150043387,0Z" fill="#d4dbe6" stroke="#95a4bd" stroke-width="2"/>
<path d="M849.4,271.7 L852.7,280 L855.1,288.7 L857,297.6 L858.6,306.4 L860.4,315.1 L862.6,323.4 L865.5,331.3 L869,339 L873.2,346.4 L877.9,353.8 L882.7,361.2 L887.5,368.9 L891.7,376.9 L895.1,385.3 L897.3,394.1 L898.3,403.3 L897.9,412.8 L896.4,422.4 L893.9,432.1 L890.9,441.7 L887.6,451.2 L884.5,460.6 L881.8,470 L879.9,479.3 L878.8,488.6 L878.4,498 L878.6,507.6 L879,517.4 L879.2,527.4 L878.9,537.4 L877.8,547.5 L875.5,557.5 L871.9,567.3 L867,576.9 L861,586 L854.1,594.8 L846.7,603.3 L839.1,611.7 L831.6,620 L824.7,628.4 L818.4,637.1 L812.9,646.1 L808,655.6 L803.6,665.5 L799.5,675.7 L795.1,686 L790.4,696.2 L784.9,706.1 L778.5,715.5 L771,724.1 L762.5,732 L753.2,739 L743.2,745.3 L732.9,751 L722.4,756.5 L712.2,762 L702.3,767.8 L693,774.1 L684.1,781 L675.8,788.6 L667.8,796.7 L659.8,805.3 L651.8,814 L643.5,822.4 L634.7,830.2 L625.3,837.2 L615.4,843.1 L604.9,847.8 L594,851.4 L582.8,854 L571.5,855.9 L560.3,857.5 L549.2,859.1 L538.4,861 L527.9,863.5 L517.6,866.9 L507.5,871 L497.5,875.8 L487.4,881.1 L477.3,886.4 L467,891.4 L456.5,895.7 L445.9,899 L435.3,901.1 L424.7,901.8 L414.2,901.3 L403.9,899.7 L393.9,897.4 L384.1,894.7 L374.5,892.1 L364.9,889.8 L355.4,888.1 L345.8,887.2 L336,887 L326.1,887.5 L315.9,888.4 L305.6,889.3 L295.2,890 L285.1,889.9 L275.2,888.9 L265.9,886.7 L257.1,883.3 L249,878.8 L241.6,873.4 L234.7,867.3 L228.2,860.9 L221.9,854.5 L215.6,848.4 L209.1,842.8 L202.1,837.9 L194.7,833.5 L186.8,829.7 L178.6,826 L170.1,822.4 L161.8,818.5 L153.8,814.1 L146.5,808.9 L140.2,802.8 L134.8,796 L130.6,788.3 L127.3,780 L124.9,771.3 L123,762.4 L121.4,753.6 L119.6,744.9 L117.4,736.6 L114.5,728.7 L111,721 L106.8,713.6 L102.1,706.2 L97.3,698.8 L92.5,691.1 L88.3,683.1 L84.9,674.7 L82.7,665.9 L81.7,656.7 L82.1,647.2 L83.6,637.6 L86.1,627.9 L89.1,618.3 L92.4,608.8 L95.5,599.4 L98.2,590 L100.1,580.7 L101.2,571.4 L101.6,562 L101.4,552.4 L101,542.6 L100.8,532.6 L101.1,522.6 L102.2,512.5 L104.5,502.5 L108.1,492.7 L113,483.1 L119,474 L125.9,465.2 L133.3,456.7 L140.9,448.3 L148.4,440 L155.3,431.6 L161.6,422.9 L167.1,413.9 L172,404.4 L176.4,394.5 L180.5,384.3 L184.9,374 L189.6,363.8 L195.1,353.9 L201.5,344.5 L209,335.9 L217.5,328 L226.8,321 L236.8,314.7 L247.1,309 L257.6,303.5 L267.8,298 L277.7,292.2 L287,285.9 L295.9,279 L304.2,271.4 L312.2,263.3 L320.2,254.7 L328.2,246 L336.5,237.6 L345.3,229.8 L354.7,222.8 L364.6,216.9 L375.1,212.2 L386,208.6 L397.2,206 L408.5,204.1 L419.7,202.5 L430.8,200.9 L441.6,199 L452.1,196.5 L462.4,193.1 L472.5,189 L482.5,184.2 L492.6,178.9 L502.7,173.6 L513,168.6 L523.5,164.3 L534.1,161 L544.7,158.9 L555.3,158.2 L565.8,158.7 L576.1,160.3 L586.1,162.6 L595.9,165.3 L605.5,167.9 L615.1,170.2 L624.6,171.9 L634.2,172.8 L644,173 L653.9,172.5 L664.1,171.6 L674.4,170.7 L684.8,170 L694.9,170.1 L704.8,171.1 L714.1,173.3 L722.9,176.7 L731,181.2 L738.4,186.6 L745.3,192.7 L751.8,199.1 L758.1,205.5 L764.4,211.6 L770.9,217.2 L777.9,222.1 L785.3,226.5 L793.2,230.3 L801.4,234 L809.9,237.6 L818.2,241.5 L826.2,245.9 L833.5,251.1 L839.8,257.2 L845.2,264Z" fill="none" stroke="#eea5aa" stroke-width="14" stroke-linejoin="round"/>
<path d="M842.5,276.7 L845.6,284.8 L847.9,293.3 L849.7,302 L851.3,310.7 L853,319.1 L855.1,327.2 L857.8,335 L861.2,342.4 L865.3,349.6 L869.9,356.8 L874.7,364 L879.4,371.5 L883.6,379.3 L886.9,387.5 L889.1,396.1 L890,405 L889.6,414.3 L888,423.7 L885.5,433.1 L882.4,442.5 L879.1,451.8 L876,461 L873.3,470.1 L871.4,479.2 L870.3,488.3 L869.9,497.5 L870.1,506.9 L870.5,516.5 L870.8,526.2 L870.5,536.1 L869.4,546 L867.1,555.7 L863.6,565.3 L858.8,574.6 L852.9,583.6 L846,592.1 L838.7,600.5 L831.1,608.6 L823.8,616.7 L817,624.9 L810.8,633.4 L805.4,642.2 L800.6,651.5 L796.3,661.2 L792.2,671.2 L788,681.3 L783.4,691.4 L778,701.1 L771.7,710.3 L764.4,718.8 L756.1,726.4 L746.9,733.3 L737.1,739.4 L726.9,745 L716.6,750.3 L706.5,755.7 L696.8,761.3 L687.6,767.4 L679,774.2 L670.8,781.7 L663,789.7 L655.3,798.1 L647.4,806.7 L639.3,815 L630.7,822.7 L621.5,829.6 L611.7,835.4 L601.4,840 L590.7,843.5 L579.8,846.1 L568.7,847.9 L557.7,849.4 L546.9,850.9 L536.3,852.8 L526,855.3 L515.9,858.6 L506,862.7 L496.2,867.4 L486.4,872.6 L476.4,877.9 L466.3,882.9 L456.1,887.2 L445.7,890.5 L435.3,892.6 L424.9,893.3 L414.7,892.8 L404.7,891.3 L394.8,889 L385.2,886.3 L375.8,883.7 L366.5,881.4 L357.2,879.8 L347.9,878.9 L338.3,878.8 L328.5,879.4 L318.5,880.3 L308.4,881.4 L298.3,882 L288.4,882.1 L278.7,881.1 L269.6,879.1 L261,875.8 L253.1,871.4 L245.9,866.1 L239.2,860.1 L232.9,853.8 L226.8,847.5 L220.6,841.6 L214.3,836.1 L207.5,831.3 L200.3,827.1 L192.5,823.4 L184.4,819.9 L176.2,816.4 L168,812.7 L160.2,808.4 L153,803.4 L146.8,797.5 L141.6,790.8 L137.5,783.3 L134.4,775.2 L132.1,766.7 L130.3,758 L128.7,749.3 L127,740.9 L124.9,732.8 L122.2,725 L118.8,717.6 L114.7,710.4 L110.1,703.2 L105.3,696 L100.6,688.5 L96.4,680.7 L93.1,672.5 L90.9,663.9 L90,655 L90.4,645.7 L92,636.3 L94.5,626.9 L97.6,617.5 L100.9,608.2 L104,599 L106.7,589.9 L108.6,580.8 L109.7,571.7 L110.1,562.5 L109.9,553.1 L109.5,543.5 L109.2,533.8 L109.5,523.9 L110.6,514 L112.9,504.3 L116.4,494.7 L121.2,485.4 L127.1,476.4 L134,467.9 L141.3,459.5 L148.9,451.4 L156.2,443.3 L163,435.1 L169.2,426.6 L174.6,417.8 L179.4,408.5 L183.7,398.8 L187.8,388.8 L192,378.7 L196.6,368.6 L202,358.9 L208.3,349.7 L215.6,341.2 L223.9,333.6 L233.1,326.7 L242.9,320.6 L253.1,315 L263.4,309.7 L273.5,304.3 L283.2,298.7 L292.4,292.6 L301,285.8 L309.2,278.3 L317,270.3 L324.7,261.9 L332.6,253.3 L340.7,245 L349.3,237.3 L358.5,230.4 L368.3,224.6 L378.6,220 L389.3,216.5 L400.2,213.9 L411.3,212.1 L422.3,210.6 L433.1,209.1 L443.7,207.2 L454,204.7 L464.1,201.4 L474,197.3 L483.8,192.6 L493.6,187.4 L503.6,182.1 L513.7,177.1 L523.9,172.8 L534.3,169.5 L544.7,167.4 L555.1,166.7 L565.3,167.2 L575.3,168.7 L585.2,171 L594.8,173.7 L604.2,176.3 L613.5,178.6 L622.8,180.2 L632.1,181.1 L641.7,181.2 L651.5,180.6 L661.5,179.7 L671.6,178.6 L681.7,178 L691.6,177.9 L701.3,178.9 L710.4,180.9 L719,184.2 L726.9,188.6 L734.1,193.9 L740.8,199.9 L747.1,206.2 L753.2,212.5 L759.4,218.4 L765.7,223.9 L772.5,228.7 L779.7,232.9 L787.5,236.6 L795.6,240.1 L803.8,243.6 L812,247.3 L819.8,251.6 L827,256.6 L833.2,262.5 L838.4,269.2Z" fill="none" stroke="#f6c6c6" stroke-width="6" stroke-linejoin="round"/>
<path d="M824.4,289.7 L824,296.3 L823.5,302.9 L823.4,309.1 L823.8,314.7 L825,319.9 L826.7,324.7 L828.7,329.3 L830.7,333.8 L832.7,338.4 L834.7,343.1 L836.5,347.7 L838.2,352.5 L839.9,357.3 L841.5,362.1 L843.2,366.9 L845.3,371.5 L848.2,376 L851.8,380.3 L856.2,384.4 L861.1,388.6 L865.7,393 L869.4,397.8 L871.4,403.1 L871.5,408.9 L869.6,415 L866.3,421.3 L862.4,427.6 L858.5,433.7 L855.2,439.7 L852.8,445.5 L851.2,451.1 L850.1,456.7 L849.3,462.3 L848.6,467.9 L847.8,473.5 L846.9,479.1 L845.9,484.7 L844.8,490.4 L843.6,496 L842.5,501.7 L841.5,507.4 L841.1,513.2 L841.4,519.2 L842.5,525.4 L844.4,531.8 L846.5,538.4 L848.1,545.1 L848.4,551.7 L846.9,557.9 L843.5,563.7 L838.3,569 L832,573.9 L825.2,578.5 L818.8,583.2 L813.2,587.9 L808.4,592.9 L804.3,598.1 L800.7,603.5 L797.3,609 L793.9,614.5 L790.5,620 L786.9,625.4 L783.3,630.9 L779.6,636.2 L775.8,641.6 L772.1,647.1 L768.7,652.7 L765.7,658.7 L763.5,665.2 L761.8,672.3 L760.7,679.8 L759.5,687.5 L757.7,694.9 L754.6,701.5 L750.1,707 L743.9,711.2 L736.6,714.3 L728.6,716.6 L720.6,718.7 L712.9,721 L706,723.9 L699.7,727.3 L693.9,731.2 L688.4,735.4 L683.1,739.7 L677.7,744 L672.3,748.3 L666.8,752.4 L661.3,756.6 L655.7,760.6 L650.2,764.7 L644.7,768.9 L639.4,773.4 L634.4,778.5 L629.9,784.4 L625.7,791.1 L621.6,798.3 L617.3,805.5 L612.6,811.8 L607,816.8 L600.5,820 L593.3,821.5 L585.6,821.5 L577.7,820.8 L569.9,820 L562.5,819.7 L555.5,820.2 L548.8,821.5 L542.4,823.4 L536,825.6 L529.8,827.9 L523.5,830.2 L517.2,832.4 L510.9,834.4 L504.6,836.4 L498.3,838.4 L492.1,840.3 L485.8,842.4 L479.6,845 L473.5,848.4 L467.4,852.6 L461.2,857.7 L454.9,863 L448.6,868.1 L442,871.9 L435.4,874.1 L428.8,874.1 L422.4,872.4 L416.1,869.3 L409.9,865.7 L404,862.3 L398.1,859.6 L392.2,857.8 L386.3,856.8 L380.3,856.3 L374.4,856.1 L368.4,855.9 L362.5,855.6 L356.6,855.3 L350.8,854.8 L345,854.3 L339.2,853.7 L333.5,853.1 L327.6,852.8 L321.6,853 L315.3,853.9 L308.6,855.7 L301.6,858 L294.4,860.4 L287.3,862.2 L280.7,862.7 L274.8,861.5 L269.9,858.5 L265.9,853.9 L262.5,848.5 L259.5,842.8 L256.3,837.5 L252.9,832.9 L249.1,829.1 L244.9,825.9 L240.6,823.1 L236.1,820.5 L231.7,817.9 L227.3,815.1 L223.1,812.3 L218.8,809.4 L214.7,806.5 L210.6,803.5 L206.5,800.5 L202.1,797.8 L197.3,795.5 L191.9,793.8 L185.7,792.5 L179.1,791.5 L172.5,790.4 L166.4,788.6 L161.4,785.8 L158,781.7 L156.1,776.4 L155.6,770.3 L156,763.7 L156.5,757.1 L156.6,750.9 L156.2,745.3 L155,740.1 L153.3,735.3 L151.3,730.7 L149.3,726.2 L147.3,721.6 L145.3,716.9 L143.5,712.3 L141.8,707.5 L140.1,702.7 L138.5,697.9 L136.8,693.1 L134.7,688.5 L131.8,684 L128.2,679.7 L123.8,675.6 L118.9,671.4 L114.3,667 L110.6,662.2 L108.6,656.9 L108.5,651.1 L110.4,645 L113.7,638.7 L117.6,632.4 L121.5,626.3 L124.8,620.3 L127.2,614.5 L128.8,608.9 L129.9,603.3 L130.7,597.7 L131.4,592.1 L132.2,586.5 L133.1,580.9 L134.1,575.3 L135.2,569.6 L136.4,564 L137.5,558.3 L138.5,552.6 L138.9,546.8 L138.6,540.8 L137.5,534.6 L135.6,528.2 L133.5,521.6 L131.9,514.9 L131.6,508.3 L133.1,502.1 L136.5,496.3 L141.7,491 L148,486.1 L154.8,481.5 L161.2,476.8 L166.8,472.1 L171.6,467.1 L175.7,461.9 L179.3,456.5 L182.7,451 L186.1,445.5 L189.5,440 L193.1,434.6 L196.7,429.1 L200.4,423.8 L204.2,418.4 L207.9,412.9 L211.3,407.3 L214.3,401.3 L216.5,394.8 L218.2,387.7 L219.3,380.2 L220.5,372.5 L222.3,365.1 L225.4,358.5 L229.9,353 L236.1,348.8 L243.4,345.7 L251.4,343.4 L259.4,341.3 L267.1,339 L274,336.1 L280.3,332.7 L286.1,328.8 L291.6,324.6 L296.9,320.3 L302.3,316 L307.7,311.7 L313.2,307.6 L318.7,303.4 L324.3,299.4 L329.8,295.3 L335.3,291.1 L340.6,286.6 L345.6,281.5 L350.1,275.6 L354.3,268.9 L358.4,261.7 L362.7,254.5 L367.4,248.2 L373,243.2 L379.5,240 L386.7,238.5 L394.4,238.5 L402.3,239.2 L410.1,240 L417.5,240.3 L424.5,239.8 L431.2,238.5 L437.6,236.6 L444,234.4 L450.2,232.1 L456.5,229.8 L462.8,227.6 L469.1,225.6 L475.4,223.6 L481.7,221.6 L487.9,219.7 L494.2,217.6 L500.4,215 L506.5,211.6 L512.6,207.4 L518.8,202.3 L525.1,197 L531.4,191.9 L538,188.1 L544.6,185.9 L551.2,185.9 L557.6,187.6 L563.9,190.7 L570.1,194.3 L576,197.7 L581.9,200.4 L587.8,202.2 L593.7,203.2 L599.7,203.7 L605.6,203.9 L611.6,204.1 L617.5,204.4 L623.4,204.7 L629.2,205.2 L635,205.7 L640.8,206.3 L646.5,206.9 L652.4,207.2 L658.4,207 L664.7,206.1 L671.4,204.3 L678.4,202 L685.6,199.6 L692.7,197.8 L699.3,197.3 L705.2,198.5 L710.1,201.5 L714.1,206.1 L717.5,211.5 L720.5,217.2 L723.7,222.5 L727.1,227.1 L730.9,230.9 L735.1,234.1 L739.4,236.9 L743.9,239.5 L748.3,242.1 L752.7,244.9 L756.9,247.7 L761.2,250.6 L765.3,253.5 L769.4,256.5 L773.5,259.5 L777.9,262.2 L782.7,264.5 L788.1,266.2 L794.3,267.5 L800.9,268.5 L807.5,269.6 L813.6,271.4 L818.6,274.2 L822,278.3 L823.9,283.6Z" fill="#8f9cb8" stroke="#55648a" stroke-width="3" stroke-linejoin="round"/>
<path d="M807.5,301.8 L813,309.9 L818.1,318.3 L822.9,326.9 L827.2,335.7 L831.1,344.8 L834.6,354.1 L837.6,363.6 L840.3,373.3 L842.5,383.3 L844.3,393.4 L845.6,403.6 L846.5,414 L847,424.6 L847.1,435.3 L846.7,446.1 L845.9,457 L844.6,468 L842.9,479.1 L840.8,490.2 L838.3,501.4 L835.3,512.6 L831.9,523.8 L828.1,535.1 L823.9,546.3 L819.3,557.5 L814.2,568.7 L808.8,579.8 L803,590.9 L796.8,601.9 L790.3,612.8 L783.3,623.7 L776,634.4 L768.4,644.9 L760.4,655.4 L752.1,665.6 L743.5,675.7 L734.6,685.7 L725.4,695.4 L715.8,705 L706,714.3 L696,723.4 L685.7,732.3 L675.1,740.9 L664.4,749.3 L653.4,757.4 L642.2,765.2 L630.8,772.7 L619.3,780 L607.6,786.9 L595.8,793.5 L583.8,799.9 L571.7,805.8 L559.5,811.5 L547.3,816.8 L534.9,821.7 L522.5,826.3 L510.1,830.5 L497.7,834.4 L485.2,837.9 L472.7,841 L460.3,843.7 L447.9,846.1 L435.6,848.1 L423.3,849.7 L411.1,850.8 L399,851.7 L387,852.1 L375.1,852.1 L363.4,851.7 L351.8,850.9 L340.4,849.8 L329.2,848.2 L318.1,846.3 L307.3,844 L296.7,841.3 L286.4,838.2 L276.2,834.8 L266.4,830.9 L256.8,826.7 L247.5,822.2 L238.5,817.3 L229.8,812 L221.4,806.4 L213.4,800.5 L205.7,794.2 L198.3,787.6 L191.3,780.7 L184.6,773.5 L178.4,766 L172.5,758.2 L167,750.1 L161.9,741.7 L157.1,733.1 L152.8,724.3 L148.9,715.2 L145.4,705.9 L142.4,696.4 L139.7,686.7 L137.5,676.7 L135.7,666.6 L134.4,656.4 L133.5,646 L133,635.4 L132.9,624.7 L133.3,613.9 L134.1,603 L135.4,592 L137.1,580.9 L139.2,569.8 L141.7,558.6 L144.7,547.4 L148.1,536.2 L151.9,524.9 L156.1,513.7 L160.7,502.5 L165.8,491.3 L171.2,480.2 L177,469.1 L183.2,458.1 L189.7,447.2 L196.7,436.3 L204,425.6 L211.6,415.1 L219.6,404.6 L227.9,394.4 L236.5,384.3 L245.4,374.3 L254.6,364.6 L264.2,355 L274,345.7 L284,336.6 L294.3,327.7 L304.9,319.1 L315.6,310.7 L326.6,302.6 L337.8,294.8 L349.2,287.3 L360.7,280 L372.4,273.1 L384.2,266.5 L396.2,260.1 L408.3,254.2 L420.5,248.5 L432.7,243.2 L445.1,238.3 L457.5,233.7 L469.9,229.5 L482.3,225.6 L494.8,222.1 L507.3,219 L519.7,216.3 L532.1,213.9 L544.4,211.9 L556.7,210.3 L568.9,209.2 L581,208.3 L593,207.9 L604.9,207.9 L616.6,208.3 L628.2,209.1 L639.6,210.2 L650.8,211.8 L661.9,213.7 L672.7,216 L683.3,218.7 L693.6,221.8 L703.8,225.2 L713.6,229.1 L723.2,233.3 L732.5,237.8 L741.5,242.7 L750.2,248 L758.6,253.6 L766.6,259.5 L774.3,265.8 L781.7,272.4 L788.7,279.3 L795.4,286.5 L801.6,294Z" fill="#bfc7d8"/>
<path d="M791.1,318.4 Q807.5,307 814.9,318.9 L816.4,321.2 Q823.7,333.1 828.5,346.5 L829.4,349.1 Q834.2,362.5 815.6,370.1 L764.7,390.8 Q746.2,398.4 742.3,389.9 L741.5,388.3 Q737.6,379.8 733.9,371.4 L733.2,369.7 Q729.5,361.3 745.9,349.8 Z" fill="#dadfe9" stroke="#8895b2" stroke-width="2"/>
<ellipse transform="translate(792.1,350.3) rotate(64.7)" rx="22" ry="16" fill="#c6ccda"/>
<path d="M817.8,377.8 Q836.5,370.8 839.7,385 L840.3,387.8 Q843.4,402.1 843.7,417.2 L843.8,420.2 Q844.1,435.4 824.3,438.1 L769.8,445.5 Q750,448.2 749.3,438.1 L749.1,436 Q748.4,425.9 748,415.9 L747.9,413.9 Q747.5,404 766.2,397 Z" fill="#dadfe9" stroke="#8895b2" stroke-width="2"/>
<ellipse transform="translate(808.5,410.8) rotate(84.3)" rx="22" ry="16" fill="#c6ccda"/>
<path d="M823.9,446.7 Q843.8,444.6 842.5,460.3 L842.2,463.4 Q840.9,479.1 836.8,495 L835.9,498.2 Q831.8,514.1 811.9,511.8 L757.3,505.5 Q737.4,503.2 739.9,492 L740.4,489.7 Q742.9,478.5 745.8,467.6 L746.4,465.5 Q749.3,454.6 769.2,452.5 Z" fill="#dadfe9" stroke="#8895b2" stroke-width="2"/>
<ellipse transform="translate(804.9,478.9) rotate(101)" rx="22" ry="16" fill="#c6ccda"/>
<path d="M809,520.8 Q828.8,523.7 823.2,539.9 L822,543.1 Q816.4,559.3 808,575 L806.3,578.2 Q798,593.9 779.3,586.7 L728,567 Q709.3,559.8 714.9,548.3 L716,545.9 Q721.6,534.4 727.6,523.3 L728.8,521 Q734.8,509.9 754.6,512.8 Z" fill="#dadfe9" stroke="#8895b2" stroke-width="2"/>
<ellipse transform="translate(781.5,550.1) rotate(114.7)" rx="22" ry="16" fill="#c6ccda"/>
<path d="M774.1,595.6 Q792.6,603.3 782.9,618.9 L781,622 Q771.3,637.6 759.3,652.2 L756.9,655.1 Q744.8,669.7 728.5,658.1 L683.7,626.2 Q667.4,614.6 675.7,603.4 L677.4,601.2 Q685.7,590 694.4,579.3 L696.2,577.2 Q705,566.5 723.4,574.3 Z" fill="#dadfe9" stroke="#8895b2" stroke-width="2"/>
<ellipse transform="translate(739.8,620.1) rotate(126.4)" rx="22" ry="16" fill="#c6ccda"/>
<path d="M721.4,666.2 Q737.3,678.3 724.2,692.3 L721.6,695.1 Q708.5,709.2 693.6,721.7 L690.6,724.2 Q675.7,736.6 662.8,721.4 L627.3,679.3 Q614.4,664 624.9,653.9 L627,651.9 Q637.5,641.8 648.4,632.3 L650.6,630.4 Q661.6,620.9 677.5,632.9 Z" fill="#dadfe9" stroke="#8895b2" stroke-width="2"/>
<ellipse transform="translate(682.4,684.4) rotate(136.8)" rx="22" ry="16" fill="#c6ccda"/>
<path d="M654.1,728.2 Q666.5,743.9 650.8,755.6 L647.7,757.9 Q632.1,769.6 615.2,779.1 L611.8,781.1 Q594.8,790.6 586.2,772.6 L562.2,723.1 Q553.6,705.1 565.6,696.7 L568,695 Q580,686.5 592.5,678.8 L595,677.2 Q607.4,669.5 619.9,685.1 Z" fill="#dadfe9" stroke="#8895b2" stroke-width="2"/>
<ellipse transform="translate(612.9,739.1) rotate(146.8)" rx="22" ry="16" fill="#c6ccda"/>
<path d="M576.5,777.8 Q584.6,796.1 567.4,804.6 L563.9,806.3 Q546.7,814.9 528.8,820.9 L525.3,822.2 Q507.4,828.3 503.5,808.7 L492.7,754.7 Q488.7,735.1 501.5,728.9 L504.1,727.7 Q516.9,721.5 530.1,716 L532.7,714.9 Q545.9,709.3 554.1,727.6 Z" fill="#dadfe9" stroke="#8895b2" stroke-width="2"/>
<ellipse transform="translate(535.7,780.6) rotate(156.9)" rx="22" ry="16" fill="#c6ccda"/>
<path d="M493.4,811.8 Q496.8,831.6 479,836.4 L475.5,837.4 Q457.7,842.2 440.1,844.5 L436.6,844.9 Q418.9,847.1 420,827.2 L422.9,772.2 Q424,752.3 436.7,748.7 L439.3,748 Q452.1,744.4 465.2,741.4 L467.8,740.9 Q480.9,737.9 484.2,757.6 Z" fill="#dadfe9" stroke="#8895b2" stroke-width="2"/>
<ellipse transform="translate(455.6,806.3) rotate(167.8)" rx="22" ry="16" fill="#c6ccda"/>
<path d="M410.2,828.1 Q408.5,848.1 391.3,849 L387.9,849.1 Q370.8,850 354.5,848.2 L351.2,847.9 Q334.9,846.1 340.9,827 L357.4,774.5 Q363.3,755.5 375.3,754.7 L377.7,754.6 Q389.6,753.9 401.8,753.6 L404.2,753.6 Q416.4,753.4 414.7,773.3 Z" fill="#dadfe9" stroke="#8895b2" stroke-width="2"/>
<ellipse transform="translate(377.7,814.7) rotate(-179.6)" rx="22" ry="16" fill="#c6ccda"/>
<path d="M331.9,825.7 Q325.4,844.6 309.9,841.5 L306.8,840.8 Q291.3,837.7 277.4,832 L274.6,830.9 Q260.6,825.2 271.1,808.2 L300.1,761.5 Q310.7,744.5 321.1,746.6 L323.1,747.1 Q333.5,749.2 344,751.8 L346.1,752.3 Q356.5,754.9 350,773.8 Z" fill="#dadfe9" stroke="#8895b2" stroke-width="2"/>
<ellipse transform="translate(306.8,805.2) rotate(-164.4)" rx="22" ry="16" fill="#c6ccda"/>
<path d="M263.6,804.7 Q252.6,821.4 239.7,814.4 L237.2,813 Q224.4,806 213.6,796.8 L211.5,794.9 Q200.7,785.7 215.1,771.9 L254.9,733.9 Q269.3,720 277.5,724.9 L279.1,725.9 Q287.2,730.8 295.3,736 L297,737 Q305.1,742.2 294,758.9 Z" fill="#dadfe9" stroke="#8895b2" stroke-width="2"/>
<ellipse transform="translate(247.5,778.4) rotate(-146.2)" rx="22" ry="16" fill="#c6ccda"/>
<path d="M209.5,766.5 Q194.7,779.9 185.3,769.5 L183.5,767.4 Q174.1,757 167.2,744.8 L165.9,742.4 Q159,730.2 176.4,720.4 L224.4,693.4 Q241.8,683.6 247.2,691 L248.3,692.5 Q253.7,699.8 258.9,707.3 L260,708.8 Q265.2,716.2 250.4,729.6 Z" fill="#dadfe9" stroke="#8895b2" stroke-width="2"/>
<ellipse transform="translate(203.3,736) rotate(-125.7)" rx="22" ry="16" fill="#c6ccda"/>
<path d="M173.1,713.3 Q155.4,722.6 150,709.5 L149,706.9 Q143.7,693.7 141.1,679.3 L140.6,676.5 Q138.1,662.1 157.4,656.9 L210.5,642.7 Q229.9,637.6 232.2,646.9 L232.7,648.8 Q235,658.1 237,667.4 L237.5,669.3 Q239.5,678.6 221.8,687.8 Z" fill="#dadfe9" stroke="#8895b2" stroke-width="2"/>
<ellipse transform="translate(177.2,680.6) rotate(-105.2)" rx="22" ry="16" fill="#c6ccda"/>
<path d="M156.5,648.7 Q137.1,653.3 136.1,638.2 L135.9,635.2 Q135,620.2 137,604.5 L137.4,601.4 Q139.3,585.7 159.3,585.5 L214.3,585 Q234.3,584.8 233.4,595.5 L233.2,597.6 Q232.3,608.4 231,618.9 L230.8,621 Q229.5,631.5 210.1,636.1 Z" fill="#dadfe9" stroke="#8895b2" stroke-width="2"/>
<ellipse transform="translate(170.8,615.8) rotate(-87)" rx="22" ry="16" fill="#c6ccda"/>
<path d="M160.9,576.6 Q140.9,576.2 144.5,560.2 L145.2,557 Q148.7,540.9 155,525 L156.2,521.8 Q162.5,505.8 182,510.6 L235.4,523.7 Q254.8,528.5 250.7,540 L249.9,542.3 Q245.8,553.7 241.3,564.8 L240.4,567 Q235.9,578.1 215.9,577.7 Z" fill="#dadfe9" stroke="#8895b2" stroke-width="2"/>
<ellipse transform="translate(184.4,545.6) rotate(-71.8)" rx="22" ry="16" fill="#c6ccda"/>
<path d="M186,501.6 Q166.8,496.2 174.5,480.2 L176,477 Q183.8,461 194,445.7 L196.1,442.7 Q206.4,427.4 224,436.9 L272.4,462.9 Q290.1,472.4 283.1,483.8 L281.7,486.1 Q274.7,497.6 267.2,508.5 L265.7,510.7 Q258.3,521.7 239,516.3 Z" fill="#dadfe9" stroke="#8895b2" stroke-width="2"/>
<ellipse transform="translate(217.2,474.4) rotate(-59.2)" rx="22" ry="16" fill="#c6ccda"/>
<path d="M230.2,428.3 Q212.9,418.3 224.3,403.4 L226.6,400.4 Q238.1,385.4 251.7,371.8 L254.4,369.1 Q268,355.5 282.7,369 L323.2,406.3 Q337.9,419.8 328.4,430.6 L326.5,432.7 Q317.1,443.5 307.1,453.6 L305.1,455.6 Q295.2,465.8 277.9,455.8 Z" fill="#dadfe9" stroke="#8895b2" stroke-width="2"/>
<ellipse transform="translate(267.1,406.7) rotate(-48.3)" rx="22" ry="16" fill="#c6ccda"/>
<path d="M290.7,361.5 Q276.4,347.5 290.9,334.5 L293.8,331.9 Q308.3,318.9 324.3,307.8 L327.5,305.6 Q343.6,294.5 354.5,311.3 L384.4,357.4 Q395.3,374.2 383.9,383.6 L381.7,385.4 Q370.3,394.8 358.5,403.5 L356.2,405.2 Q344.3,413.9 330,399.9 Z" fill="#dadfe9" stroke="#8895b2" stroke-width="2"/>
<ellipse transform="translate(331.1,346.8) rotate(-38.2)" rx="22" ry="16" fill="#c6ccda"/>
<path d="M363.7,305.2 Q353.4,288.1 370,277.9 L373.3,275.9 Q389.8,265.7 407.4,257.8 L410.9,256.2 Q428.4,248.3 434.7,267.3 L452.2,319.4 Q458.6,338.4 446.1,345.8 L443.6,347.2 Q431.1,354.6 418.2,361.3 L415.6,362.6 Q402.6,369.3 392.3,352.2 Z" fill="#dadfe9" stroke="#8895b2" stroke-width="2"/>
<ellipse transform="translate(405,298.4) rotate(-28.2)" rx="22" ry="16" fill="#c6ccda"/>
<path d="M444.7,263.1 Q438.9,243.9 456.6,237.2 L460.1,235.8 Q477.7,229.1 495.6,224.9 L499.2,224 Q517,219.9 518.5,239.8 L522.5,294.7 Q523.9,314.6 511,319.5 L508.5,320.5 Q495.6,325.4 482.3,329.7 L479.7,330.6 Q466.4,334.9 460.6,315.7 Z" fill="#dadfe9" stroke="#8895b2" stroke-width="2"/>
<ellipse transform="translate(484.3,264.5) rotate(-17.8)" rx="22" ry="16" fill="#c6ccda"/>
<path d="M528.5,237.7 Q527.7,217.7 545.3,214.8 L548.8,214.2 Q566.4,211.4 583.5,211.1 L586.9,211.1 Q604,210.9 600.4,230.5 L590.7,284.7 Q587.1,304.4 574.7,306.5 L572.2,307 Q559.7,309.1 547,310.7 L544.4,311 Q531.7,312.6 530.9,292.7 Z" fill="#dadfe9" stroke="#8895b2" stroke-width="2"/>
<ellipse transform="translate(563.9,247.3) rotate(-6.1)" rx="22" ry="16" fill="#c6ccda"/>
<path d="M609.9,230.7 Q614.1,211.1 630.5,212.3 L633.8,212.5 Q650.2,213.7 665.5,217.4 L668.5,218.2 Q683.8,221.9 675.5,240.1 L652.5,290.1 Q644.2,308.3 632.9,307.6 L630.7,307.4 Q619.4,306.7 608,305.5 L605.8,305.3 Q594.4,304.1 598.5,284.5 Z" fill="#dadfe9" stroke="#8895b2" stroke-width="2"/>
<ellipse transform="translate(638.9,247.8) rotate(7.6)" rx="22" ry="16" fill="#c6ccda"/>
<path d="M683.8,242.5 Q692.6,224.6 706.9,229.7 L709.7,230.7 Q724,235.8 736.5,243.3 L739,244.8 Q751.4,252.4 738.8,267.9 L704.2,310.6 Q691.6,326.1 682.3,322.6 L680.4,321.9 Q671.1,318.3 661.7,314.4 L659.8,313.6 Q650.5,309.7 659.3,291.8 Z" fill="#dadfe9" stroke="#8895b2" stroke-width="2"/>
<ellipse transform="translate(704.5,266.1) rotate(24.3)" rx="22" ry="16" fill="#c6ccda"/>
<path d="M745.4,272.4 Q758.5,257.2 769.7,266 L771.9,267.7 Q783.1,276.5 792,287.3 L793.7,289.4 Q802.6,300.2 786.6,312.1 L742.4,344.9 Q726.3,356.8 719.5,350.6 L718.1,349.4 Q711.3,343.2 704.6,336.8 L703.2,335.6 Q696.5,329.2 709.5,314 Z" fill="#dadfe9" stroke="#8895b2" stroke-width="2"/>
<ellipse transform="translate(756.7,301) rotate(43.9)" rx="22" ry="16" fill="#c6ccda"/>
<path d="M725.5,360.8 L729,365.9 L732.2,371.3 L735.1,376.9 L737.7,382.7 L740.1,388.6 L742.1,394.7 L743.8,401 L745.2,407.4 L746.3,414 L747,420.7 L747.5,427.5 L747.6,434.5 L747.5,441.6 L747,448.8 L746.2,456.1 L745.1,463.5 L743.7,471 L741.9,478.5 L739.9,486.1 L737.5,493.8 L734.9,501.5 L732,509.2 L728.7,517 L725.2,524.8 L721.4,532.6 L717.3,540.4 L712.9,548.1 L708.3,555.9 L703.4,563.6 L698.2,571.3 L692.8,578.9 L687.1,586.5 L681.2,594 L675.1,601.4 L668.7,608.7 L662.1,616 L655.3,623.1 L648.3,630.1 L641.1,637 L633.8,643.8 L626.2,650.4 L618.5,656.9 L610.6,663.2 L602.6,669.4 L594.5,675.4 L586.2,681.2 L577.8,686.8 L569.3,692.3 L560.7,697.5 L552,702.5 L543.2,707.4 L534.4,712 L525.5,716.4 L516.6,720.5 L507.6,724.5 L498.6,728.2 L489.6,731.6 L480.6,734.8 L471.7,737.8 L462.7,740.5 L453.8,743 L444.9,745.1 L436.1,747.1 L427.3,748.7 L418.6,750.1 L410,751.3 L401.5,752.1 L393.2,752.7 L384.9,753 L376.7,753.1 L368.7,752.8 L360.9,752.3 L353.2,751.6 L345.6,750.5 L338.3,749.2 L331.1,747.7 L324.1,745.8 L317.3,743.7 L310.8,741.4 L304.4,738.7 L298.3,735.9 L292.4,732.7 L286.8,729.4 L281.4,725.8 L276.2,721.9 L271.3,717.8 L266.7,713.5 L262.4,709 L258.3,704.2 L254.5,699.2 L251,694.1 L247.8,688.7 L244.9,683.1 L242.3,677.3 L239.9,671.4 L237.9,665.3 L236.2,659 L234.8,652.6 L233.7,646 L233,639.3 L232.5,632.5 L232.4,625.5 L232.5,618.4 L233,611.2 L233.8,603.9 L234.9,596.5 L236.3,589 L238.1,581.5 L240.1,573.9 L242.5,566.2 L245.1,558.5 L248,550.8 L251.3,543 L254.8,535.2 L258.6,527.4 L262.7,519.6 L267.1,511.9 L271.7,504.1 L276.6,496.4 L281.8,488.7 L287.2,481.1 L292.9,473.5 L298.8,466 L304.9,458.6 L311.3,451.3 L317.9,444 L324.7,436.9 L331.7,429.9 L338.9,423 L346.2,416.2 L353.8,409.6 L361.5,403.1 L369.4,396.8 L377.4,390.6 L385.5,384.6 L393.8,378.8 L402.2,373.2 L410.7,367.7 L419.3,362.5 L428,357.5 L436.8,352.6 L445.6,348 L454.5,343.6 L463.4,339.5 L472.4,335.5 L481.4,331.8 L490.4,328.4 L499.4,325.2 L508.3,322.2 L517.3,319.5 L526.2,317 L535.1,314.9 L543.9,312.9 L552.7,311.3 L561.4,309.9 L570,308.7 L578.5,307.9 L586.8,307.3 L595.1,307 L603.3,306.9 L611.3,307.2 L619.1,307.7 L626.8,308.4 L634.4,309.5 L641.7,310.8 L648.9,312.3 L655.9,314.2 L662.7,316.3 L669.2,318.6 L675.6,321.3 L681.7,324.1 L687.6,327.3 L693.2,330.6 L698.6,334.2 L703.8,338.1 L708.7,342.2 L713.3,346.5 L717.6,351 L721.7,355.8Z" fill="#fff" stroke="#95a1bc" stroke-width="30" stroke-dasharray="2.2 1.6"/>
<path d="M716.6,367.2 L718.4,367.7 L720,368.4 L721.1,369.4 L721.7,370.9 L721.7,372.6 L721.4,374.6 L721.1,376.5 L721,378.2 L721.4,379.7 L722.4,380.8 L723.8,381.6 L725.6,382.3 L727.3,383.1 L728.7,384 L729.6,385.2 L729.9,386.8 L729.7,388.6 L729.1,390.5 L728.5,392.5 L728.2,394.3 L728.4,395.8 L729.1,397.1 L730.4,398.2 L732,399.1 L733.6,400.1 L734.8,401.2 L735.5,402.6 L735.6,404.2 L735.1,406.1 L734.2,408.1 L733.4,410 L732.8,411.8 L732.7,413.5 L733.3,414.9 L734.4,416.1 L735.8,417.3 L737.2,418.5 L738.2,419.9 L738.7,421.4 L738.5,423.1 L737.8,425 L736.7,426.9 L735.5,428.8 L734.7,430.7 L734.4,432.4 L734.8,433.9 L735.6,435.4 L736.9,436.8 L738.1,438.2 L738.9,439.7 L739.2,441.3 L738.8,443.1 L737.7,445 L736.4,446.9 L735,448.8 L733.9,450.6 L733.4,452.3 L733.5,454 L734.2,455.6 L735.2,457.2 L736.2,458.9 L736.9,460.5 L736.9,462.3 L736.3,464.1 L735,465.9 L733.4,467.8 L731.8,469.6 L730.5,471.4 L729.8,473.2 L729.7,474.9 L730.1,476.7 L730.9,478.5 L731.7,480.3 L732.1,482.1 L731.9,484 L731.1,485.8 L729.6,487.6 L727.8,489.3 L725.9,491.1 L724.4,492.8 L723.5,494.6 L723.2,496.4 L723.4,498.3 L724,500.3 L724.5,502.3 L724.7,504.2 L724.3,506.2 L723.2,508 L721.6,509.7 L719.5,511.3 L717.5,513 L715.8,514.7 L714.6,516.4 L714.1,518.3 L714.1,520.3 L714.5,522.4 L714.8,524.6 L714.7,526.7 L714.1,528.6 L712.8,530.4 L711,532 L708.8,533.6 L706.6,535.1 L704.7,536.7 L703.3,538.4 L702.6,540.3 L702.4,542.4 L702.5,544.7 L702.6,546.9 L702.3,549.1 L701.5,551.1 L700,552.8 L698,554.4 L695.6,555.7 L693.3,557.1 L691.2,558.6 L689.7,560.3 L688.7,562.2 L688.3,564.4 L688.2,566.7 L688,569.1 L687.5,571.3 L686.5,573.3 L684.9,575 L682.7,576.4 L680.2,577.6 L677.7,578.9 L675.5,580.2 L673.8,581.8 L672.7,583.8 L672.1,586 L671.7,588.4 L671.3,590.8 L670.6,593.1 L669.4,595.1 L667.6,596.7 L665.3,597.9 L662.7,599 L660.1,600.1 L657.8,601.3 L656,602.8 L654.7,604.7 L653.8,607 L653.3,609.4 L652.6,611.9 L651.7,614.2 L650.3,616.1 L648.4,617.6 L646,618.7 L643.3,619.6 L640.7,620.5 L638.3,621.6 L636.3,623 L634.9,624.9 L633.8,627.1 L633,629.6 L632.2,632.1 L631,634.3 L629.5,636.2 L627.4,637.6 L625,638.6 L622.3,639.3 L619.6,640 L617.1,640.9 L615.1,642.2 L613.4,644 L612.2,646.2 L611.2,648.7 L610.1,651.1 L608.8,653.4 L607.1,655.1 L605,656.4 L602.5,657.2 L599.8,657.7 L597.1,658.2 L594.6,659 L592.4,660.1 L590.7,661.8 L589.3,664 L588,666.4 L586.8,668.9 L585.3,671 L583.5,672.7 L581.3,673.8 L578.7,674.4 L576,674.8 L573.4,675.1 L570.9,675.6 L568.7,676.6 L566.8,678.2 L565.2,680.3 L563.8,682.7 L562.4,685.1 L560.7,687.2 L558.8,688.7 L556.6,689.7 L554,690.1 L551.4,690.2 L548.7,690.3 L546.3,690.7 L544,691.6 L542.1,693 L540.4,695 L538.8,697.3 L537.2,699.6 L535.4,701.6 L533.4,703 L531.1,703.8 L528.6,704 L526.1,703.9 L523.5,703.8 L521.1,704 L518.8,704.7 L516.8,706 L515,707.9 L513.2,710.1 L511.4,712.2 L509.6,714.1 L507.5,715.4 L505.2,716 L502.8,716 L500.3,715.7 L497.9,715.4 L495.5,715.4 L493.3,715.9 L491.2,717.1 L489.3,718.8 L487.4,720.9 L485.5,722.9 L483.5,724.6 L481.4,725.7 L479.2,726.1 L476.8,726 L474.5,725.5 L472.2,725 L469.9,724.7 L467.7,725.1 L465.6,726.1 L463.6,727.7 L461.6,729.6 L459.6,731.4 L457.5,733 L455.4,733.9 L453.2,734.1 L451,733.8 L448.8,733.1 L446.6,732.4 L444.5,732 L442.4,732.2 L440.3,733 L438.2,734.4 L436.1,736.1 L434,737.8 L431.9,739.1 L429.8,739.8 L427.7,739.9 L425.6,739.4 L423.6,738.5 L421.6,737.6 L419.6,737 L417.6,737 L415.5,737.6 L413.4,738.8 L411.2,740.3 L409.1,741.8 L406.9,743 L404.8,743.5 L402.8,743.4 L400.9,742.7 L399.1,741.6 L397.3,740.5 L395.5,739.8 L393.6,739.6 L391.6,740 L389.4,741 L387.2,742.3 L385,743.6 L382.8,744.5 L380.8,744.8 L378.9,744.5 L377.2,743.6 L375.6,742.4 L374.1,741.1 L372.4,740.2 L370.7,739.8 L368.7,740.1 L366.6,740.8 L364.3,741.9 L362.1,743 L359.9,743.7 L358,743.8 L356.2,743.3 L354.7,742.2 L353.4,740.8 L352.1,739.5 L350.6,738.4 L349,737.8 L347.1,737.8 L345,738.4 L342.8,739.2 L340.6,740 L338.4,740.5 L336.6,740.4 L335,739.7 L333.7,738.5 L332.6,737 L331.6,735.5 L330.4,734.2 L328.9,733.5 L327.1,733.3 L325.1,733.6 L322.9,734.2 L320.7,734.8 L318.6,735 L316.9,734.7 L315.5,733.9 L314.4,732.5 L313.6,730.9 L312.8,729.2 L311.8,727.9 L310.6,727 L308.9,726.6 L307,726.7 L304.8,727 L302.6,727.3 L300.7,727.3 L299.1,726.8 L297.9,725.8 L297.1,724.3 L296.5,722.6 L296,720.8 L295.3,719.3 L294.2,718.3 L292.7,717.7 L290.9,717.5 L288.8,717.6 L286.7,717.7 L284.8,717.4 L283.4,716.7 L282.4,715.6 L281.8,714 L281.6,712.1 L281.3,710.3 L280.8,708.7 L280,707.5 L278.7,706.8 L276.9,706.4 L274.9,706.2 L272.9,706 L271.2,705.5 L269.9,704.6 L269.2,703.3 L268.9,701.6 L268.9,699.7 L268.9,697.8 L268.7,696.1 L268.1,694.8 L266.9,693.9 L265.3,693.3 L263.4,692.8 L261.6,692.3 L260,691.6 L258.9,690.6 L258.3,689.1 L258.3,687.4 L258.6,685.4 L258.9,683.5 L259,681.8 L258.6,680.3 L257.6,679.2 L256.2,678.4 L254.4,677.7 L252.7,676.9 L251.3,676 L250.4,674.8 L250.1,673.2 L250.3,671.4 L250.9,669.5 L251.5,667.5 L251.8,665.7 L251.6,664.2 L250.9,662.9 L249.6,661.8 L248,660.9 L246.4,659.9 L245.2,658.8 L244.5,657.4 L244.4,655.8 L244.9,653.9 L245.8,651.9 L246.6,650 L247.2,648.2 L247.3,646.5 L246.7,645.1 L245.6,643.9 L244.2,642.7 L242.8,641.5 L241.8,640.1 L241.3,638.6 L241.5,636.9 L242.2,635 L243.3,633.1 L244.5,631.2 L245.3,629.3 L245.6,627.6 L245.2,626.1 L244.4,624.6 L243.1,623.2 L241.9,621.8 L241.1,620.3 L240.8,618.7 L241.2,616.9 L242.3,615 L243.6,613.1 L245,611.2 L246.1,609.4 L246.6,607.7 L246.5,606 L245.8,604.4 L244.8,602.8 L243.8,601.1 L243.1,599.5 L243.1,597.7 L243.7,595.9 L245,594.1 L246.6,592.2 L248.2,590.4 L249.5,588.6 L250.2,586.8 L250.3,585.1 L249.9,583.3 L249.1,581.5 L248.3,579.7 L247.9,577.9 L248.1,576 L248.9,574.2 L250.4,572.4 L252.2,570.7 L254.1,568.9 L255.6,567.2 L256.5,565.4 L256.8,563.6 L256.6,561.7 L256,559.7 L255.5,557.7 L255.3,555.8 L255.7,553.8 L256.8,552 L258.4,550.3 L260.5,548.7 L262.5,547 L264.2,545.3 L265.4,543.6 L265.9,541.7 L265.9,539.7 L265.5,537.6 L265.2,535.4 L265.3,533.3 L265.9,531.4 L267.2,529.6 L269,528 L271.2,526.4 L273.4,524.9 L275.3,523.3 L276.7,521.6 L277.4,519.7 L277.6,517.6 L277.5,515.3 L277.4,513.1 L277.7,510.9 L278.5,508.9 L280,507.2 L282,505.6 L284.4,504.3 L286.7,502.9 L288.8,501.4 L290.3,499.7 L291.3,497.8 L291.7,495.6 L291.8,493.3 L292,490.9 L292.5,488.7 L293.5,486.7 L295.1,485 L297.3,483.6 L299.8,482.4 L302.3,481.1 L304.5,479.8 L306.2,478.2 L307.3,476.2 L307.9,474 L308.3,471.6 L308.7,469.2 L309.4,466.9 L310.6,464.9 L312.4,463.3 L314.7,462.1 L317.3,461 L319.9,459.9 L322.2,458.7 L324,457.2 L325.3,455.3 L326.2,453 L326.7,450.6 L327.4,448.1 L328.3,445.8 L329.7,443.9 L331.6,442.4 L334,441.3 L336.7,440.4 L339.3,439.5 L341.7,438.4 L343.7,437 L345.1,435.1 L346.2,432.9 L347,430.4 L347.8,427.9 L349,425.7 L350.5,423.8 L352.6,422.4 L355,421.4 L357.7,420.7 L360.4,420 L362.9,419.1 L364.9,417.8 L366.6,416 L367.8,413.8 L368.8,411.3 L369.9,408.9 L371.2,406.6 L372.9,404.9 L375,403.6 L377.5,402.8 L380.2,402.3 L382.9,401.8 L385.4,401 L387.6,399.9 L389.3,398.2 L390.7,396 L392,393.6 L393.2,391.1 L394.7,389 L396.5,387.3 L398.7,386.2 L401.3,385.6 L404,385.2 L406.6,384.9 L409.1,384.4 L411.3,383.4 L413.2,381.8 L414.8,379.7 L416.2,377.3 L417.6,374.9 L419.3,372.8 L421.2,371.3 L423.4,370.3 L426,369.9 L428.6,369.8 L431.3,369.7 L433.7,369.3 L436,368.4 L437.9,367 L439.6,365 L441.2,362.7 L442.8,360.4 L444.6,358.4 L446.6,357 L448.9,356.2 L451.4,356 L453.9,356.1 L456.5,356.2 L458.9,356 L461.2,355.3 L463.2,354 L465,352.1 L466.8,349.9 L468.6,347.8 L470.4,345.9 L472.5,344.6 L474.8,344 L477.2,344 L479.7,344.3 L482.1,344.6 L484.5,344.6 L486.7,344.1 L488.8,342.9 L490.7,341.2 L492.6,339.1 L494.5,337.1 L496.5,335.4 L498.6,334.3 L500.8,333.9 L503.2,334 L505.5,334.5 L507.8,335 L510.1,335.3 L512.3,334.9 L514.4,333.9 L516.4,332.3 L518.4,330.4 L520.4,328.6 L522.5,327 L524.6,326.1 L526.8,325.9 L529,326.2 L531.2,326.9 L533.4,327.6 L535.5,328 L537.6,327.8 L539.7,327 L541.8,325.6 L543.9,323.9 L546,322.2 L548.1,320.9 L550.2,320.2 L552.3,320.1 L554.4,320.6 L556.4,321.5 L558.4,322.4 L560.4,323 L562.4,323 L564.5,322.4 L566.6,321.2 L568.8,319.7 L570.9,318.2 L573.1,317 L575.2,316.5 L577.2,316.6 L579.1,317.3 L580.9,318.4 L582.7,319.5 L584.5,320.2 L586.4,320.4 L588.4,320 L590.6,319 L592.8,317.7 L595,316.4 L597.2,315.5 L599.2,315.2 L601.1,315.5 L602.8,316.4 L604.4,317.6 L605.9,318.9 L607.6,319.8 L609.3,320.2 L611.3,319.9 L613.4,319.2 L615.7,318.1 L617.9,317 L620.1,316.3 L622,316.2 L623.8,316.7 L625.3,317.8 L626.6,319.2 L627.9,320.5 L629.4,321.6 L631,322.2 L632.9,322.2 L635,321.6 L637.2,320.8 L639.4,320 L641.6,319.5 L643.4,319.6 L645,320.3 L646.3,321.5 L647.4,323 L648.4,324.5 L649.6,325.8 L651.1,326.5 L652.9,326.7 L654.9,326.4 L657.1,325.8 L659.3,325.2 L661.4,325 L663.1,325.3 L664.5,326.1 L665.6,327.5 L666.4,329.1 L667.2,330.8 L668.2,332.1 L669.4,333 L671.1,333.4 L673,333.3 L675.2,333 L677.4,332.7 L679.3,332.7 L680.9,333.2 L682.1,334.2 L682.9,335.7 L683.5,337.4 L684,339.2 L684.7,340.7 L685.8,341.7 L687.3,342.3 L689.1,342.5 L691.2,342.4 L693.3,342.3 L695.2,342.6 L696.6,343.3 L697.6,344.4 L698.2,346 L698.4,347.9 L698.7,349.7 L699.2,351.3 L700,352.5 L701.3,353.2 L703.1,353.6 L705.1,353.8 L707.1,354 L708.8,354.5 L710.1,355.4 L710.8,356.7 L711.1,358.4 L711.1,360.3 L711.1,362.2 L711.3,363.9 L711.9,365.2 L713.1,366.1 L714.7,366.7Z" fill="#fff"/>
<path d="M533,716 C540,700 572,700 580,722 C588,745 602,760 632,768 C604,792 560,812 520,822 C538,792 542,760 533,716 Z" fill="#e4b443" stroke="#d29f2c" stroke-width="2.5"/>
<path d="M545,722 C555,712 568,716 570,730 C574,748 580,760 596,770 C580,780 562,785 548,790 C553,770 552,745 545,722Z" fill="#edc45c" opacity="0.7"/>
</g></g>
<rect x="9.0" y="483.4" width="212.4" height="219.8" fill="none" stroke="#6a7aa0" stroke-width="1" />
<path d="M699,140.2 H813.5 Q819.6,140.2 819.6,146 V174.5" fill="none" stroke="#cf343b" stroke-width="1.6" marker-end="url(#ar)"/>
<path d="M812.6,403.5 V434.5 Q812.6,441 806,441 H143 Q136.7,441 136.7,447.5 V483.4" fill="none" stroke="#cf343b" stroke-width="2"/>
<rect x="45.6" y="566.2" width="89.8" height="55.6" fill="none" stroke="#111" stroke-width="1.9" stroke-dasharray="1.7 1.52"/>
<ellipse cx="106.5" cy="586.1" rx="23.5" ry="14.1" fill="url(#gOv)" stroke="#d9b25a" stroke-width="0.6"/>
<text x="106.5" y="590.6" font-size="12.6" text-anchor="middle" fill="#111" textLength="26.0" lengthAdjust="spacingAndGlyphs" stroke="#111" stroke-width="0.45">PSA</text>
<circle cx="70.4" cy="606.1" r="10.4" fill="url(#gBlu)"/>
<text x="70.4" y="610.5" font-size="12.3" text-anchor="middle" fill="#fff" textLength="7.8" lengthAdjust="spacingAndGlyphs" stroke="#fff" stroke-width="0.3">T</text>
<line x1="49.9" y1="586.1" x2="79.8" y2="586.1" stroke="#3b4a6b" stroke-width="1.8" marker-end="url(#an)"/>
<path d=" M136.7,483 V601 Q136.7,605.7 132,605.7 H78.2" fill="none" stroke="#cf343b" stroke-width="2" marker-end="url(#ar)"/>
<defs><clipPath id="cpHi"><rect x="403.6" y="483.6" width="212.19999999999993" height="219.79999999999995"/></clipPath>
<filter id="fHi" x="0" y="0" width="100%" height="100%" color-interpolation-filters="sRGB"><feTurbulence type="fractalNoise" baseFrequency="0.035 0.09" numOctaves="4" seed="11"/><feColorMatrix type="matrix" values="0.42 0 0 0 0.575  0.42 0 0 0 0.58  0.28 0 0 0 0.725  0 0 0 0 1"/></filter>
<filter id="fHi2" x="0" y="0" width="100%" height="100%" color-interpolation-filters="sRGB"><feTurbulence type="fractalNoise" baseFrequency="0.16" numOctaves="2" seed="5"/><feColorMatrix type="matrix" values="0 0 0 0 0.52  0 0 0 0 0.55  0 0 0 0 0.76  -9 0 0 0 3.3"/></filter>
<filter id="fRag" x="-5%" y="-5%" width="110%" height="110%"><feTurbulence type="fractalNoise" baseFrequency="0.22" numOctaves="2" seed="8" result="n"/><feDisplacementMap in="SourceGraphic" in2="n" scale="5.5" xChannelSelector="R" yChannelSelector="G"/></filter>
<filter id="fBl" x="-40%" y="-40%" width="180%" height="180%"><feGaussianBlur stdDeviation="2.2"/></filter>
</defs>
<g clip-path="url(#cpHi)">
<rect x="403.6" y="483.6" width="212.2" height="219.8" fill="#c9cce0" stroke="none" stroke-width="0" />
<g transform="rotate(-32 510 593)"><rect x="350" y="430" width="330" height="330" filter="url(#fHi)"/></g>
<rect x="403.6" y="483.6" width="212.19999999999993" height="219.79999999999995" filter="url(#fHi2)" opacity="0.4"/>
<g filter="url(#fBl)"><g transform="translate(395,475) scale(0.22571)" fill="none" stroke="#a9afd2" stroke-width="150" stroke-linejoin="round" opacity="0.75"><path d="M480,290 C520,265 580,250 640,245 C700,238 740,250 770,290 C800,320 805,350 790,380 C770,400 745,420 730,450 C720,480 700,495 670,490 C620,480 560,480 500,490 C450,498 400,490 380,460 C370,430 395,380 420,340 C440,315 460,300 480,290Z"/><path d="M250,540 C300,560 380,578 480,580 C540,580 590,565 615,580 C635,600 610,640 570,680 C520,720 440,770 380,820 C350,845 325,870 305,865 C270,840 250,790 225,745 C200,710 175,690 185,630 C195,590 220,545 250,540Z"/></g></g>
<g filter="url(#fRag)"><g transform="translate(395,475) scale(0.22571)" fill="#e6e8f1"><path d="M205,245 C240,228 300,215 330,222 C310,245 260,262 220,268Z"/><path d="M330,170 C360,150 400,135 425,132 C410,155 370,175 340,185Z"/><path d="M280,345 C310,320 340,305 360,300 C350,325 310,350 290,360Z"/><path d="M95,640 C105,625 120,630 118,650 C112,668 100,665 95,640Z"/><path d="M700,890 C740,870 800,850 830,835 C815,865 760,895 715,905Z"/><path d="M760,770 C790,755 820,750 840,755 C820,775 790,785 765,785Z"/></g></g>
<g filter="url(#fRag)"><g transform="translate(395,475) scale(0.22571)" fill="none" stroke-linejoin="round">
<path d="M480,290 C520,265 580,250 640,245 C700,238 740,250 770,290 C800,320 805,350 790,380 C770,400 745,420 730,450 C720,480 700,495 670,490 C620,480 560,480 500,490 C450,498 400,490 380,460 C370,430 395,380 420,340 C440,315 460,300 480,290Z" stroke="#b98a58" stroke-width="94"/><path d="M250,540 C300,560 380,578 480,580 C540,580 590,565 615,580 C635,600 610,640 570,680 C520,720 440,770 380,820 C350,845 325,870 305,865 C270,840 250,790 225,745 C200,710 175,690 185,630 C195,590 220,545 250,540Z" stroke="#b98a58" stroke-width="94"/>
<path d="M60,790 C70,760 110,745 130,770 C140,800 120,830 90,830 C70,825 58,810 60,790Z" fill="#b07a48" stroke="none"/>
<path d="M160,830 C200,870 260,900 330,895 C300,925 220,920 175,890 C160,875 155,850 160,830Z" fill="#b07a48" stroke="none"/>
<path d="M480,290 C520,265 580,250 640,245 C700,238 740,250 770,290 C800,320 805,350 790,380 C770,400 745,420 730,450 C720,480 700,495 670,490 C620,480 560,480 500,490 C450,498 400,490 380,460 C370,430 395,380 420,340 C440,315 460,300 480,290Z" stroke="#91541e" stroke-width="64"/><path d="M250,540 C300,560 380,578 480,580 C540,580 590,565 615,580 C635,600 610,640 570,680 C520,720 440,770 380,820 C350,845 325,870 305,865 C270,840 250,790 225,745 C200,710 175,690 185,630 C195,590 220,545 250,540Z" stroke="#91541e" stroke-width="64"/>
<path d="M480,290 C520,265 580,250 640,245 C700,238 740,250 770,290 C800,320 805,350 790,380 C770,400 745,420 730,450 C720,480 700,495 670,490 C620,480 560,480 500,490 C450,498 400,490 380,460 C370,430 395,380 420,340 C440,315 460,300 480,290Z" stroke="#7a3f12" stroke-width="26"/><path d="M250,540 C300,560 380,578 480,580 C540,580 590,565 615,580 C635,600 610,640 570,680 C520,720 440,770 380,820 C350,845 325,870 305,865 C270,840 250,790 225,745 C200,710 175,690 185,630 C195,590 220,545 250,540Z" stroke="#7a3f12" stroke-width="26"/>
<path d="M480,290 C520,265 580,250 640,245 C700,238 740,250 770,290 C800,320 805,350 790,380 C770,400 745,420 730,450 C720,480 700,495 670,490 C620,480 560,480 500,490 C450,498 400,490 380,460 C370,430 395,380 420,340 C440,315 460,300 480,290Z" fill="#fdfcfa"/><path d="M250,540 C300,560 380,578 480,580 C540,580 590,565 615,580 C635,600 610,640 570,680 C520,720 440,770 380,820 C350,845 325,870 305,865 C270,840 250,790 225,745 C200,710 175,690 185,630 C195,590 220,545 250,540Z" fill="#fdfcfa"/>
<path d="M480,290 C520,265 580,250 640,245 C700,238 740,250 770,290 C800,320 805,350 790,380 C770,400 745,420 730,450 C720,480 700,495 670,490 C620,480 560,480 500,490 C450,498 400,490 380,460 C370,430 395,380 420,340 C440,315 460,300 480,290Z" stroke="#7d4315" stroke-width="24" stroke-dasharray="0.1 31" stroke-linecap="round"/><path d="M250,540 C300,560 380,578 480,580 C540,580 590,565 615,580 C635,600 610,640 570,680 C520,720 440,770 380,820 C350,845 325,870 305,865 C270,840 250,790 225,745 C200,710 175,690 185,630 C195,590 220,545 250,540Z" stroke="#7d4315" stroke-width="24" stroke-dasharray="0.1 31" stroke-linecap="round"/>
<circle cx="615" cy="300" r="7" fill="#9a5a22"/><circle cx="612" cy="405" r="7" fill="#9a5a22"/><circle cx="272" cy="650" r="8" fill="#9a5a22"/><circle cx="290" cy="760" r="5" fill="#b07a48"/>
</g></g>
</g>
<rect x="403.6" y="483.6" width="212.2" height="219.8" fill="none" stroke="#333" stroke-width="1" />
<circle cx="507.4" cy="523.3" r="1.8" fill="#111"/>
<circle cx="441.3" cy="610.6" r="1.8" fill="#111"/>
<defs><clipPath id="cpPs"><rect x="796.5" y="482.7" width="212.0" height="220.00000000000006"/></clipPath>
<filter id="fPs" x="0" y="0" width="100%" height="100%" color-interpolation-filters="sRGB"><feTurbulence type="fractalNoise" baseFrequency="0.07 0.22" numOctaves="4" seed="3"/><feColorMatrix type="matrix" values="0.34 0 0 0 0.60  0.34 0 0 0 0.595  0.24 0 0 0 0.735  0 0 0 0 1"/></filter>
<filter id="fRag2" x="-5%" y="-5%" width="110%" height="110%"><feTurbulence type="fractalNoise" baseFrequency="0.3" numOctaves="2" seed="2" result="n"/><feDisplacementMap in="SourceGraphic" in2="n" scale="4" xChannelSelector="R" yChannelSelector="G"/></filter>
</defs>
<g clip-path="url(#cpPs)">
<rect x="796.5" y="482.7" width="212.0" height="220.0" fill="#f3f2ef" stroke="none" stroke-width="0" />
<clipPath id="cpTi"><path transform="translate(785,460) scale(0.22964)" d="M490,110 L490,60 L650,60 C690,120 740,170 790,230 C840,310 890,400 925,500 C950,580 955,680 940,760 C920,850 880,930 810,1000 C760,1040 720,1060 690,1100 L470,1100 C420,1040 350,1010 290,975 C230,930 170,870 125,790 C100,740 90,700 108,655 C85,610 95,560 112,520 C95,480 100,440 135,410 C170,385 215,365 255,392 C265,350 295,315 340,300 C375,290 420,295 455,245 C445,215 460,190 490,180Z"/><path transform="translate(785,460) scale(0.22964)" d="M270,185 C295,215 320,250 330,282 C310,298 250,285 218,268 C235,240 255,205 270,185Z"/></clipPath>
<g filter="url(#fRag2)">
<g transform="translate(785,460) scale(0.22964)"><path d="M112,520 C95,480 100,440 135,410 C170,385 215,365 255,392 C265,350 295,315 340,300 C375,290 420,295 455,245 C445,215 460,190 490,180 M218,268 C250,285 310,298 330,282 M640,110 C680,150 720,170 740,215" fill="none" stroke="#ad7238" stroke-width="13"/></g>
<g clip-path="url(#cpTi)"><g transform="rotate(-38 905 595)"><rect x="740" y="430" width="330" height="330" filter="url(#fPs)"/></g></g>
<g transform="translate(785,460) scale(0.22964)">
<path d="M560,200 C580,175 620,165 645,185 C655,210 630,235 605,245 C590,265 585,290 560,300 C540,285 540,230 560,200Z" fill="#f8f6f2" stroke="#a9692f" stroke-width="11" stroke-linejoin="round"/>
<path d="M610,255 C630,245 655,255 660,280 C645,295 620,290 610,255Z" fill="#f8f6f2" stroke="#a9692f" stroke-width="11" stroke-linejoin="round"/>
<path d="M110,530 C140,510 180,500 200,470 C225,462 255,470 265,500 C275,540 270,580 250,600 C220,605 180,585 150,560 C130,550 115,545 110,530Z" fill="#f8f6f2" stroke="#a9692f" stroke-width="11" stroke-linejoin="round"/>
<path d="M185,645 C220,625 270,615 300,622 C300,645 270,670 230,690 C205,695 185,680 185,645Z" fill="#f8f6f2" stroke="#a9692f" stroke-width="11" stroke-linejoin="round"/>
<path d="M110,570 C130,575 150,590 145,610 C125,615 105,600 110,570Z" fill="#f8f6f2" stroke="#a9692f" stroke-width="11" stroke-linejoin="round"/>
<path d="M183,424 C200,408 245,410 262,424 C270,445 255,465 220,470 C200,468 185,450 183,424Z" fill="#f8f6f2" stroke="#a9692f" stroke-width="11" stroke-linejoin="round"/>
<path d="M395,400 C410,380 450,370 480,385 C490,405 470,430 440,442 C420,448 400,430 395,400Z" fill="#f8f6f2" stroke="#a9692f" stroke-width="11" stroke-linejoin="round"/>
<path d="M350,470 C370,452 420,448 440,460 C430,490 400,515 365,522 C345,510 340,485 350,470Z" fill="#f8f6f2" stroke="#a9692f" stroke-width="11" stroke-linejoin="round"/>
<path d="M300,890 C330,870 380,850 405,850 C415,870 380,900 350,922 C330,940 310,940 300,920Z" fill="#f8f6f2" stroke="#a9692f" stroke-width="11" stroke-linejoin="round"/>
<path d="M268,872 C280,860 298,858 300,870 C298,888 280,895 268,872Z" fill="#f8f6f2" stroke="#a9692f" stroke-width="11" stroke-linejoin="round"/>
<path d="M510,1010 C525,998 545,1000 550,1022 C545,1045 525,1052 512,1040Z" fill="#f8f6f2" stroke="#a9692f" stroke-width="11" stroke-linejoin="round"/>
<path d="M215,900 C230,895 245,905 240,920 C225,925 212,915 215,900Z" fill="#f8f6f2" stroke="#a9692f" stroke-width="11" stroke-linejoin="round"/>
<ellipse cx="862" cy="688" rx="36" ry="34" fill="#8c4f22" stroke="#b88a5c" stroke-width="6"/>
<ellipse cx="822" cy="742" rx="34" ry="36" fill="#8c4f22" stroke="#b88a5c" stroke-width="6"/>
<ellipse cx="860" cy="762" rx="22" ry="30" fill="#8c4f22" stroke="#b88a5c" stroke-width="6"/>
<ellipse cx="830" cy="805" rx="20" ry="18" fill="#8c4f22" stroke="#b88a5c" stroke-width="6"/>
<path d="M850,680 C860,672 878,676 880,690 C872,700 858,695 850,680Z M838,745 C845,738 856,742 858,756 C850,770 842,760 838,745Z" fill="#f1e9df"/>
<path d="M580,300 C600,320 625,315 640,300 M650,180 C680,165 710,175 730,200" fill="none" stroke="#9a5a26" stroke-width="14"/>
<ellipse cx="150" cy="490" rx="18" ry="14" fill="#a5652a"/>
</g></g>
</g>
<rect x="796.5" y="482.7" width="212.0" height="220.0" fill="none" stroke="#333" stroke-width="1" />
<rect x="856.9" y="539.5" width="44.8" height="46.8" fill="none" stroke="#111" stroke-width="1.1" />
<polyline points="876.9,563.8 876.9,602.8 764.4,602.8" fill="none" stroke="#222" stroke-width="1"/>
<circle cx="876.9" cy="563.8" r="1.8" fill="#111"/>
<line x1="773.8" y1="644.9" x2="830.9" y2="644.9" stroke="#222" stroke-width="1" />
<circle cx="830.9" cy="644.9" r="1.8" fill="#111"/>
<rect x="76.3" y="768.7" width="227.8" height="225.6" fill="#fff" stroke="none" stroke-width="0" />
<line x1="107.6" y1="768.7" x2="107.6" y2="994.3" stroke="#e6e6ee" stroke-width="1.2" />
<line x1="271.7" y1="768.7" x2="271.7" y2="994.3" stroke="#e6e6ee" stroke-width="1.2" />
<line x1="76.3" y1="798.9" x2="304.1" y2="798.9" stroke="#e6e6ee" stroke-width="1.2" />
<line x1="76.3" y1="963.0" x2="304.1" y2="963.0" stroke="#e6e6ee" stroke-width="1.2" />
<line x1="189.8" y1="768.7" x2="189.8" y2="994.3" stroke="#6e6e6e" stroke-width="1.6" />
<line x1="76.3" y1="881.1" x2="304.1" y2="881.1" stroke="#6e6e6e" stroke-width="1.6" />
<g transform="translate(40,750) scale(0.27480)">
<path d="M768,360 C772,357 781,374 790,374 C798,375 809,362 818,363 C828,365 839,374 847,381 C855,389 862,399 865,410 C868,421 868,436 865,446 C862,455 855,463 847,467 C839,471 825,469 818,467 C811,465 805,460 804,453 C803,446 813,432 811,424 C809,416 797,409 790,403 C783,397 772,396 768,388 C765,381 765,362 768,360Z" fill="#41a65d"/>
<path d="M827,373h0M852,412h0M833,373h0M845,467h0M861,403h0M764,369h0M853,450h0M864,444h0M774,365h0M813,460h0M851,390h0M774,385h0M762,384h0M850,462h0M844,465h0M846,468h0M791,359h0M771,364h0M851,410h0M797,376h0M855,451h0M797,371h0M833,460h0M757,397h0M773,368h0M831,466h0M807,443h0M815,476h0M781,400h0M813,363h0M836,377h0M778,394h0M861,409h0M848,461h0M810,462h0M763,377h0M772,367h0M799,407h0M824,367h0M782,367h0" stroke="#41a65d" stroke-width="9" stroke-linecap="round" fill="none"/>
<path d="M618,467 C621,456 633,446 640,446 C647,446 653,461 661,467 C669,473 680,480 690,481 C699,482 709,474 718,474 C728,474 738,479 747,481 C755,484 767,482 768,488 C769,494 760,507 754,517 C748,527 740,540 733,546 C725,552 717,555 711,553 C705,550 703,537 697,531 C691,525 684,518 675,517 C667,516 655,525 647,524 C638,523 630,519 625,510 C621,500 616,478 618,467Z" fill="#41a65d"/>
<path d="M658,464h0M761,480h0M661,475h0M712,547h0M653,522h0M730,546h0M620,487h0M763,490h0M648,529h0M716,546h0M628,443h0M721,470h0M697,468h0M745,477h0M633,511h0M614,510h0M677,524h0M757,514h0M688,533h0M614,496h0M756,500h0M689,531h0M659,527h0M676,512h0M652,529h0M739,522h0M651,524h0M743,478h0M659,479h0M669,521h0M682,481h0M685,525h0M625,470h0M683,480h0M659,527h0M738,530h0M690,531h0M719,479h0M677,517h0M716,553h0" stroke="#41a65d" stroke-width="9" stroke-linecap="round" fill="none"/>
<path d="M754,517 C755,512 773,500 783,499 C792,498 802,503 811,510 C821,516 836,530 840,538 C843,547 838,555 833,560 C827,565 812,568 804,567 C796,566 787,562 783,556 C778,550 780,538 775,531 C771,525 753,522 754,517Z" fill="#41a65d"/>
<path d="M776,528h0M812,514h0M770,517h0M782,544h0M776,541h0M763,519h0M802,491h0M832,542h0M767,520h0M826,568h0M781,502h0M803,510h0M755,512h0M791,559h0M818,555h0M784,551h0M769,500h0M808,515h0M764,516h0M831,547h0M801,517h0M800,572h0M774,501h0M787,551h0M763,518h0M786,499h0M803,560h0M782,491h0M823,557h0M829,566h0M759,513h0M829,558h0M764,526h0M774,508h0M810,549h0M790,554h0M819,564h0M825,554h0M757,515h0M789,567h0" stroke="#41a65d" stroke-width="9" stroke-linecap="round" fill="none"/>
<path d="M647,546 C653,534 666,530 675,535 C685,540 694,563 704,574 C713,585 723,597 733,603 C742,609 755,604 761,610 C768,616 772,628 772,638 C772,649 768,666 761,674 C755,682 742,687 733,688 C723,690 713,687 704,685 C694,682 684,681 675,674 C667,668 660,657 654,646 C648,634 641,619 640,603 C638,586 641,557 647,546Z" fill="#41a65d"/>
<path d="M663,655h0M686,558h0M705,581h0M697,567h0M757,608h0M690,683h0M743,596h0M694,683h0M655,541h0M669,656h0M654,654h0M689,675h0M766,647h0M644,626h0M730,599h0M761,603h0M771,664h0M760,675h0M731,693h0M715,584h0M695,561h0M643,562h0M735,603h0M747,677h0M632,618h0M649,629h0M724,693h0M729,687h0M768,626h0M708,587h0M766,619h0M758,627h0M728,599h0M678,536h0M661,538h0M644,596h0M771,666h0M673,675h0M749,684h0M725,605h0" stroke="#41a65d" stroke-width="9" stroke-linecap="round" fill="none"/>
<path d="M590,603 C596,593 610,577 618,574 C627,572 635,579 640,588 C644,598 643,617 647,631 C650,646 661,663 661,674 C661,685 654,694 647,699 C640,704 628,703 618,703 C609,702 597,701 590,696 C583,690 577,678 575,667 C574,656 577,642 579,631 C581,621 583,612 590,603Z" fill="#41a65d"/>
<path d="M663,667h0M629,704h0M591,610h0M650,596h0M642,593h0M638,604h0M635,693h0M608,697h0M652,660h0M644,581h0M652,647h0M638,620h0M649,693h0M612,583h0M587,692h0M572,638h0M649,690h0M629,578h0M663,680h0M652,699h0M642,702h0M638,591h0M626,702h0M589,595h0M644,623h0M652,634h0M656,677h0M650,689h0M644,692h0M672,680h0M580,674h0M643,620h0M599,700h0M585,666h0M640,583h0M654,687h0M650,585h0M626,587h0M592,697h0M582,619h0" stroke="#41a65d" stroke-width="9" stroke-linecap="round" fill="none"/>
<path d="M611,503 C615,498 627,510 633,517 C638,524 644,537 643,546 C643,554 634,567 629,567 C624,567 614,556 611,546 C608,535 608,507 611,503Z" fill="#41a65d"/>
<path d="M638,525h0M636,553h0M608,507h0M637,544h0M608,505h0M637,543h0M620,548h0M643,556h0M633,516h0M618,557h0M635,542h0M628,514h0M620,539h0M612,500h0M626,552h0M622,556h0M631,512h0M623,558h0M624,557h0M646,549h0M606,532h0M648,546h0M631,520h0M610,513h0M619,516h0M616,537h0M640,556h0M637,549h0M641,527h0M641,533h0M651,545h0M637,552h0M630,513h0M615,526h0M622,510h0M615,539h0M619,507h0M607,535h0M613,516h0M616,569h0" stroke="#41a65d" stroke-width="9" stroke-linecap="round" fill="none"/>
<path d="M554,281 C558,269 571,275 575,267 C580,259 578,241 583,231 C587,221 596,212 604,206 C612,201 623,199 633,199 C642,200 653,203 661,210 C669,216 677,228 683,238 C688,249 691,264 697,274 C703,284 709,292 718,299 C728,306 743,309 754,317 C765,325 773,337 783,346 C792,354 803,361 811,367 C820,373 833,378 834,383 C835,388 822,392 815,397 C807,402 796,411 790,411 C783,411 780,398 775,397 C771,396 765,398 761,404 C758,410 756,422 754,431 C752,441 753,454 747,460 C741,466 728,469 718,467 C709,465 699,448 690,446 C680,443 669,454 661,453 C653,452 647,437 640,438 C633,440 625,457 618,460 C611,462 603,460 597,453 C591,446 587,429 583,417 C578,405 573,394 568,381 C563,368 556,355 554,338 C552,322 550,293 554,281Z" fill="#894f99"/>
<path d="M574,417h0M585,422h0M686,454h0M753,405h0M807,406h0M574,394h0M583,222h0M763,419h0M626,192h0M614,459h0M702,279h0M675,453h0M699,454h0M834,390h0M750,313h0M585,429h0M839,394h0M610,456h0M621,201h0M826,380h0M594,224h0M576,261h0M574,261h0M578,237h0M707,442h0M732,305h0M750,415h0M729,299h0M788,348h0M676,226h0M819,402h0M763,403h0M674,219h0M642,445h0M575,369h0M788,352h0M770,328h0M831,383h0M551,295h0M572,406h0M724,472h0M794,349h0M740,462h0M794,402h0M757,413h0M753,428h0M768,396h0M794,350h0M556,286h0M658,219h0M831,373h0M818,379h0M757,407h0M700,453h0M593,227h0M707,461h0M769,403h0M773,328h0M576,411h0M807,359h0M554,279h0M565,372h0M683,242h0M701,455h0M799,416h0M775,401h0M795,418h0M562,341h0M612,453h0M693,437h0M762,411h0M825,379h0M748,451h0M813,402h0M764,402h0M664,450h0M683,455h0M760,329h0M622,207h0M643,203h0M606,458h0M620,206h0M687,249h0M670,451h0M782,404h0M574,406h0M833,372h0M683,248h0M786,359h0M671,217h0M820,391h0M721,298h0M678,440h0M559,324h0M832,383h0M553,295h0M684,244h0M701,274h0M582,228h0M789,350h0M624,212h0M572,407h0M566,277h0M656,203h0M744,421h0M776,411h0M664,218h0M831,384h0M764,419h0M552,324h0M612,207h0M758,413h0M768,403h0M811,390h0M572,271h0M722,299h0M655,201h0M802,360h0M563,263h0M808,407h0M627,209h0M782,408h0M597,226h0M582,225h0M724,464h0M794,407h0M667,213h0M688,256h0M708,295h0M573,245h0M836,380h0M653,444h0M740,439h0M568,273h0M760,405h0M771,399h0M683,237h0M658,199h0M769,335h0M584,227h0M623,452h0M549,297h0M838,377h0M783,353h0M738,456h0M590,444h0M566,370h0M580,401h0M819,398h0M787,400h0" stroke="#894f99" stroke-width="9" stroke-linecap="round" fill="none"/>
<path d="M268,317 C274,307 279,305 290,299 C300,293 317,285 333,281 C348,277 366,277 383,274 C399,271 419,269 433,263 C446,258 450,247 461,242 C472,237 486,231 497,231 C508,231 518,236 525,242 C533,248 535,259 540,267 C544,275 550,278 554,288 C558,299 561,316 561,331 C561,347 559,365 554,381 C549,398 535,417 533,431 C530,446 535,456 540,467 C544,478 556,487 561,496 C566,504 569,510 568,517 C567,524 560,534 554,538 C548,543 541,547 533,546 C524,544 514,531 504,531 C494,531 487,540 475,546 C464,552 446,562 433,567 C419,572 409,575 397,574 C385,574 373,569 361,563 C349,557 336,549 325,538 C315,528 305,516 297,503 C289,490 281,474 275,460 C269,446 264,434 261,417 C258,400 256,377 258,360 C259,343 263,327 268,317Z" fill="#2a7ab9"/>
<path d="M465,240h0M539,437h0M448,550h0M478,233h0M560,292h0M529,253h0M259,369h0M512,236h0M549,277h0M337,270h0M480,239h0M557,390h0M285,473h0M397,265h0M518,246h0M515,235h0M277,491h0M257,376h0M370,279h0M560,308h0M284,474h0M311,511h0M533,409h0M423,557h0M411,569h0M325,287h0M460,546h0M266,329h0M382,276h0M535,432h0M340,550h0M405,578h0M432,261h0M448,556h0M539,479h0M265,310h0M291,486h0M460,245h0M565,518h0M534,449h0M541,458h0M392,272h0M260,332h0M534,253h0M562,333h0M392,564h0M503,226h0M487,539h0M519,241h0M501,242h0M536,431h0M423,578h0M540,270h0M270,326h0M438,273h0M257,392h0M530,544h0M283,317h0M322,547h0M502,532h0M556,332h0M491,539h0M540,249h0M291,490h0M568,520h0M310,505h0M562,511h0M562,353h0M553,554h0M315,517h0M337,541h0M493,539h0M545,277h0M558,298h0M341,552h0M280,455h0M454,553h0M262,395h0M420,267h0M353,572h0M548,483h0M512,533h0M484,236h0M453,244h0M456,539h0M284,483h0M543,268h0M360,282h0M538,448h0M471,551h0M560,475h0M557,543h0M354,554h0M267,300h0M354,557h0M257,392h0M564,506h0M439,259h0M537,458h0M404,261h0M264,339h0M273,311h0M549,298h0M492,526h0M427,266h0M546,297h0M260,332h0M451,568h0M273,445h0M564,526h0M539,430h0M533,414h0M559,531h0M538,469h0M351,273h0M265,439h0M492,524h0M564,514h0M255,414h0M393,575h0M432,575h0M292,495h0M527,448h0M295,292h0M493,539h0M441,257h0M552,475h0M561,503h0M370,285h0M329,272h0M292,507h0M540,271h0M560,525h0M530,247h0M422,265h0M274,310h0M527,447h0M366,272h0M555,480h0M565,526h0M547,546h0M524,232h0M544,549h0M471,243h0M301,289h0M560,321h0M457,553h0M304,505h0M550,367h0M521,544h0M414,267h0M256,411h0M438,265h0M562,496h0M263,398h0M320,543h0M264,396h0M566,528h0M473,235h0M542,256h0M560,507h0M323,540h0M368,560h0M339,547h0M315,289h0M530,250h0M283,474h0M379,278h0M552,308h0M565,297h0" stroke="#2a7ab9" stroke-width="9" stroke-linecap="round" fill="none"/>
<path d="M397,660 C397,646 402,634 408,624 C414,615 422,608 433,603 C443,597 456,596 468,592 C480,588 493,584 504,581 C515,578 525,577 533,574 C540,572 546,565 550,567 C555,569 559,578 561,588 C563,599 560,617 561,631 C562,646 568,660 568,674 C569,688 567,703 565,717 C562,731 559,747 554,760 C549,772 541,787 533,792 C524,797 516,791 504,788 C492,785 474,781 461,774 C448,767 435,756 425,746 C416,735 409,724 404,710 C399,696 396,674 397,660Z" fill="#e31b2d"/>
<path d="M538,774h0M443,592h0M404,717h0M562,724h0M418,745h0M568,719h0M529,571h0M551,624h0M401,682h0M573,708h0M495,582h0M492,586h0M409,722h0M563,703h0M565,717h0M560,742h0M562,582h0M442,749h0M509,585h0M559,746h0M553,570h0M564,605h0M506,570h0M411,745h0M574,720h0M472,793h0M416,628h0M411,663h0M553,709h0M425,611h0M487,587h0M569,681h0M414,721h0M458,593h0M404,675h0M552,563h0M563,691h0M529,788h0M394,677h0M572,670h0M566,741h0M521,786h0M392,682h0M390,657h0M511,583h0M448,756h0M445,601h0M395,679h0M537,577h0M426,738h0M400,646h0M449,758h0M395,652h0M567,602h0M546,759h0M565,706h0M554,747h0M514,784h0M538,567h0M555,578h0M570,668h0M405,639h0M571,585h0M411,617h0M404,649h0M564,677h0M437,589h0M492,781h0M404,721h0M435,755h0M425,606h0M566,686h0M415,610h0M562,665h0M427,737h0M521,787h0M537,573h0M393,649h0M559,580h0M546,770h0M563,698h0M556,627h0M398,653h0M548,571h0M517,790h0M560,602h0M437,761h0M557,739h0M570,638h0M542,785h0M541,570h0M527,789h0M519,776h0M489,588h0M562,722h0M560,730h0M433,601h0M547,564h0M547,772h0M555,613h0M550,576h0M559,717h0M415,718h0M420,736h0M438,751h0M563,596h0M553,580h0M439,762h0M400,691h0M464,781h0" stroke="#e31b2d" stroke-width="9" stroke-linecap="round" fill="none"/>
<path d="M600,720h0M615,738h0M650,705h0M575,610h0M560,570h0M585,480h0M600,515h0M610,455h0M660,440h0M715,430h0M705,600h0M780,640h0M750,595h0M735,565h0M640,565h0M350,355h0M430,550h0M568,600h0M590,625h0M800,460h0M770,360h0M800,375h0" stroke="#41a65d" stroke-width="9" stroke-linecap="round" fill="none"/>
<path d="M480,545h0M500,555h0M430,770h0M400,720h0M405,595h0M560,715h0M585,705h0M570,560h0M575,540h0M600,700h0M455,580h0M550,420h0M565,400h0M555,375h0M545,360h0" stroke="#2a7ab9" stroke-width="9" stroke-linecap="round" fill="none"/>
<path d="M475,345h0M498,345h0M510,385h0M540,400h0M560,410h0M380,410h0M330,370h0M540,370h0" stroke="#894f99" stroke-width="9" stroke-linecap="round" fill="none"/>
<path d="M530,300h0M525,320h0M540,265h0M575,265h0M468,325h0M375,352h0M420,368h0M430,398h0M296,435h0M342,468h0M340,520h0M318,525h0M512,490h0M385,555h0M400,555h0M415,548h0M520,540h0M545,540h0M470,568h0M490,575h0M510,575h0M560,632h0M580,640h0M575,590h0M620,652h0M598,705h0M610,708h0M590,722h0M265,385h0M650,700h0M548,720h0M425,605h0M410,622h0" stroke="#e31b2d" stroke-width="9" stroke-linecap="round" fill="none"/>
<path d="M625,517 C626,502 628,490 636,481 C644,473 659,467 675,466 C691,464 712,467 733,471 C753,474 777,481 797,488 C817,496 840,506 854,517 C868,528 877,541 883,553 C888,565 890,573 886,588 C883,604 872,629 861,646 C850,662 835,676 818,688 C802,700 777,711 761,717 C746,723 736,725 725,724 C715,723 708,723 697,710 C686,697 672,668 661,646 C650,623 638,596 633,574 C627,553 625,532 625,517Z" fill="none" stroke="#34466b" stroke-width="6"/>
</g>
<rect x="76.3" y="768.7" width="227.8" height="225.6" fill="none" stroke="#8f9bbf" stroke-width="1" />
<text transform="translate(64.3,880.5) rotate(-90)" text-anchor="middle" font-size="12.4" fill="#1d1d1b" stroke="#1d1d1b" stroke-width="0.3" textLength="41.2" lengthAdjust="spacingAndGlyphs"><tspan font-style="italic">t</tspan>-SNE 2</text>
<rect x="317.2" y="832.6" width="104.4" height="100.9" fill="#fff" stroke="#666" stroke-width="1" />
<rect x="10.2" y="1034.5" width="349.3" height="179.8" fill="#fff" stroke="#9aa3c2" stroke-width="1" />
<rect x="19.2" y="1061.8" width="158.0" height="144.5" fill="#fff" stroke="none" stroke-width="0" />
<line x1="143.1" y1="1061.8" x2="143.1" y2="1206.3" stroke="#e3e9e0" stroke-width="1.2" />
<line x1="19.2" y1="1075.6" x2="177.2" y2="1075.6" stroke="#e3e9e0" stroke-width="1.2" />
<line x1="19.2" y1="1141.6" x2="177.2" y2="1141.6" stroke="#e3e9e0" stroke-width="1.2" />
<line x1="19.2" y1="1173.6" x2="177.2" y2="1173.6" stroke="#e3e9e0" stroke-width="1.2" />
<line x1="61.0" y1="1061.8" x2="61.0" y2="1206.3" stroke="#3f7a45" stroke-width="1.6" />
<line x1="19.2" y1="1108.2" x2="177.2" y2="1108.2" stroke="#3f7a45" stroke-width="1.6" />
<g transform="translate(0,1020) scale(0.36311)">
<path d="M238,381h0M188,400h0M217,397h0M214,395h0M233,381h0M214,392h0M266,381h0M228,400h0M235,388h0M231,386h0M225,407h0M221,370h0M235,402h0M241,379h0M210,384h0M252,368h0M236,376h0M229,358h0M258,398h0M215,391h0M212,368h0M259,374h0M265,377h0M204,387h0M253,378h0M248,394h0M230,385h0M259,405h0M231,386h0M237,369h0M213,402h0M240,392h0M221,368h0M218,378h0M235,395h0M246,383h0M213,396h0M248,388h0M235,394h0M242,384h0M228,399h0M240,361h0M215,373h0M228,386h0M209,358h0M261,367h0M252,404h0M245,387h0M220,425h0M233,396h0M225,377h0M222,381h0M235,407h0M207,396h0M219,384h0M234,393h0M257,398h0M231,389h0M267,393h0M223,381h0M241,359h0M243,391h0M218,366h0M230,404h0M223,400h0M244,372h0M206,365h0M255,377h0M249,391h0M252,385h0M258,392h0M205,380h0M218,384h0M225,393h0M213,396h0M236,391h0M215,373h0M235,372h0M251,397h0M221,417h0M239,413h0M223,379h0M227,385h0M228,410h0M254,392h0M270,368h0M236,362h0M225,400h0M232,393h0M237,390h0M235,400h0M217,399h0M241,377h0M200,393h0M205,395h0M270,382h0M226,414h0M244,383h0M250,406h0M226,380h0M252,386h0M253,386h0M230,381h0M239,374h0M236,402h0M212,363h0M235,357h0M233,374h0M250,415h0M191,402h0M217,366h0M222,383h0M206,390h0M245,397h0M236,379h0M245,389h0M219,393h0M218,386h0M195,401h0M247,367h0M211,394h0M236,379h0M226,394h0M217,391h0M224,376h0M218,373h0M216,380h0M224,392h0M222,378h0M224,417h0M225,391h0M219,378h0M214,401h0M194,387h0M222,412h0M240,379h0M242,389h0M197,383h0M219,390h0M205,375h0M252,380h0M240,405h0M220,388h0M262,405h0M225,416h0M231,388h0M274,366h0M243,408h0M269,396h0M248,403h0M232,369h0M240,382h0M258,385h0M236,391h0M234,395h0M225,393h0M222,414h0M228,377h0M238,392h0M230,393h0M268,422h0M216,411h0M242,391h0M253,393h0M257,369h0M211,407h0M215,399h0M228,400h0M221,377h0M237,400h0M306,372h0M310,357h0M282,388h0M273,366h0M268,364h0M297,376h0M266,392h0M309,374h0M247,351h0M309,392h0M279,376h0M269,343h0M302,367h0M270,327h0M252,363h0M298,378h0M274,375h0M301,380h0M269,351h0M259,365h0M285,339h0M280,375h0M298,381h0M255,382h0M297,375h0M283,333h0M283,391h0M269,364h0M278,368h0M300,363h0M324,347h0M274,374h0M273,408h0M301,373h0M283,385h0M309,366h0M313,355h0M306,369h0M278,378h0M287,381h0M306,353h0M268,373h0M271,356h0M298,370h0M297,342h0M277,350h0M282,365h0M257,343h0M265,353h0M271,339h0M276,373h0M264,348h0M290,366h0M242,350h0M317,375h0M260,341h0M253,361h0M289,356h0M320,370h0M291,376h0M321,392h0M304,354h0M283,353h0M308,385h0M284,374h0M285,367h0M277,358h0M280,385h0M284,342h0M302,376h0M231,357h0M248,381h0M301,341h0M285,378h0M289,356h0M262,369h0M244,340h0M287,375h0M287,355h0M269,363h0M305,349h0M293,353h0M295,394h0M288,374h0M328,365h0M304,378h0M292,371h0M253,350h0M331,358h0M281,371h0M272,350h0M297,377h0M311,404h0M259,412h0M253,356h0M288,355h0M314,334h0M301,377h0M282,392h0M294,332h0M217,375h0M263,345h0M256,377h0M251,351h0M265,367h0M281,385h0M281,391h0M354,363h0M283,386h0M267,361h0M299,373h0M301,353h0M313,375h0M287,406h0M284,364h0M281,375h0M274,399h0M307,335h0M257,373h0M269,362h0M264,326h0M265,324h0M258,305h0M282,342h0M248,326h0M287,330h0M250,323h0M258,326h0M282,320h0M264,283h0M246,313h0M240,339h0M231,327h0M243,310h0M255,325h0M265,321h0M246,363h0M240,331h0M276,349h0M241,333h0M238,346h0M277,324h0M251,340h0M253,344h0M264,364h0M245,343h0M269,361h0M275,309h0M254,354h0M265,342h0M268,348h0M246,306h0M256,287h0M258,307h0M241,307h0M246,294h0M264,309h0M260,307h0M265,310h0M260,321h0M260,328h0M282,327h0M266,341h0M253,353h0M256,343h0M229,325h0M252,337h0M258,331h0M280,325h0M258,376h0M294,335h0M265,332h0M280,346h0M258,352h0M240,351h0M264,303h0M259,336h0M248,308h0M247,330h0M256,379h0M269,325h0M225,352h0M259,311h0M252,312h0M279,366h0M226,370h0M269,310h0M269,319h0M246,330h0M272,331h0M254,278h0M232,266h0M246,233h0M228,268h0M261,263h0M224,273h0M256,268h0M250,285h0M269,269h0M247,245h0M259,254h0M240,271h0M234,274h0M240,232h0M258,279h0M231,262h0M210,280h0M234,276h0M217,250h0M215,232h0M229,289h0M259,229h0M262,264h0M242,287h0M241,258h0M239,237h0M244,280h0M245,263h0M264,249h0M227,263h0M234,295h0M246,292h0M249,265h0M246,264h0M265,280h0M238,263h0M249,259h0M225,273h0M253,240h0M238,265h0M246,288h0M233,264h0M268,262h0M254,259h0M277,249h0M213,257h0M277,258h0M246,277h0M273,277h0M256,281h0M269,268h0M266,236h0M244,277h0M240,244h0M259,282h0M273,272h0M296,253h0M302,265h0M302,262h0M275,252h0M330,257h0M358,260h0M283,253h0M318,266h0M326,267h0M264,277h0M320,254h0M317,271h0M311,242h0M300,264h0M295,254h0M317,264h0M286,263h0M299,247h0M278,260h0M283,271h0M286,277h0M299,273h0M276,261h0M333,272h0M394,206h0M401,179h0M381,184h0M399,199h0M408,189h0M390,224h0M396,178h0M381,210h0M405,201h0M425,191h0M401,203h0M390,217h0M368,201h0M397,193h0M389,200h0M399,205h0M368,186h0M399,189h0M387,204h0M393,213h0M387,204h0M394,205h0M397,198h0M410,196h0M383,189h0M394,191h0M420,208h0M380,190h0M401,193h0M414,205h0M391,188h0M409,208h0M412,200h0M404,195h0M387,214h0M401,202h0M400,191h0M386,188h0M392,191h0M391,207h0M400,196h0M387,182h0M400,197h0M404,207h0M400,185h0M342,157h0M353,158h0M343,161h0M342,160h0M355,173h0M346,173h0M349,160h0M343,161h0M193,374h0M197,361h0M181,353h0M195,352h0M184,362h0M168,373h0M161,363h0M151,337h0M164,365h0M159,348h0M164,389h0M168,353h0M167,320h0M159,350h0M170,378h0M148,367h0M178,355h0M148,348h0M147,346h0M187,350h0M192,361h0M164,363h0M178,427h0M183,440h0M170,438h0M172,429h0M179,435h0M169,447h0M169,451h0M167,422h0M323,291h0M331,286h0M376,282h0M344,265h0M295,279h0M326,275h0M315,282h0M342,285h0M355,276h0M368,270h0M381,272h0M348,291h0M108,318h0M95,346h0M113,344h0M295,208h0M300,212h0M330,250h0" stroke="#3d7645" stroke-width="7.5" stroke-linecap="round" fill="none"/>
<path d="M222,248 C227,233 237,227 255,226 C273,225 307,233 330,240 C353,247 382,257 395,268 C408,279 411,290 410,305 C409,320 400,342 388,358 C376,374 351,389 335,398 C319,407 304,415 290,412 C276,409 263,398 252,382 C241,366 231,337 226,315 C221,293 217,263 222,248Z" fill="none" stroke="#34466b" stroke-width="4"/>
</g>
<rect x="19.2" y="1061.8" width="158.0" height="144.5" fill="none" stroke="#8f9bbf" stroke-width="1" />
<rect x="192.1" y="1061.8" width="158.7" height="144.5" fill="#fff" stroke="none" stroke-width="0" />
<line x1="318.1" y1="1061.8" x2="318.1" y2="1206.3" stroke="#dcebd9" stroke-width="1.2" />
<line x1="192.1" y1="1193.2" x2="350.8" y2="1193.2" stroke="#dcebd9" stroke-width="1.2" />
<line x1="233.8" y1="1061.8" x2="233.8" y2="1206.3" stroke="#6cb86f" stroke-width="1.6" />
<line x1="192.1" y1="1109.0" x2="350.8" y2="1109.0" stroke="#6cb86f" stroke-width="1.6" />
<g transform="translate(0,1020) scale(0.36311)">
<path d="M751,368h0M775,356h0M764,373h0M779,380h0M751,388h0M794,353h0M776,380h0M800,338h0M759,349h0M818,381h0M764,365h0M779,371h0M784,374h0M782,369h0M827,366h0M746,376h0M768,381h0M773,357h0M769,358h0M798,367h0M782,405h0M773,355h0M794,378h0M791,418h0M793,371h0M768,384h0M808,401h0M786,403h0M757,379h0M791,360h0M788,389h0M790,368h0M784,386h0M804,393h0M791,388h0M779,391h0M779,421h0M761,414h0M749,389h0M779,373h0M781,382h0M800,363h0M788,364h0M785,369h0M749,374h0M782,359h0M767,401h0M797,370h0M793,376h0M763,370h0M770,381h0M778,398h0M766,379h0M801,376h0M766,368h0M774,351h0M794,388h0M765,394h0M798,372h0M804,380h0M787,371h0M800,377h0M801,356h0M758,408h0M776,378h0M776,380h0M797,380h0M761,382h0M803,369h0M780,372h0M794,367h0M778,367h0M769,372h0M790,360h0M816,368h0M780,388h0M782,360h0M780,379h0M797,354h0M779,427h0M783,388h0M772,383h0M794,376h0M790,368h0M745,383h0M804,383h0M782,368h0M796,354h0M750,403h0M750,349h0M788,363h0M783,379h0M786,380h0M782,364h0M778,372h0M785,381h0M791,392h0M766,376h0M815,364h0M798,393h0M758,394h0M785,389h0M793,394h0M763,384h0M804,345h0M787,379h0M765,367h0M796,394h0M780,360h0M782,366h0M797,357h0M751,364h0M763,368h0M785,397h0M751,356h0M773,394h0M789,394h0M777,362h0M796,403h0M772,389h0M749,357h0M796,355h0M786,370h0M768,403h0M769,386h0M799,374h0M778,380h0M767,377h0M821,370h0M757,376h0M784,414h0M783,375h0M792,383h0M786,407h0M787,400h0M759,355h0M825,378h0M771,376h0M782,350h0M761,397h0M757,382h0M746,383h0M788,361h0M811,358h0M770,350h0M756,384h0M788,348h0M776,376h0M763,371h0M771,389h0M757,380h0M791,349h0M747,397h0M775,399h0M774,358h0M771,338h0M776,357h0M804,393h0M760,362h0M785,376h0M785,379h0M801,374h0M796,364h0M783,371h0M792,401h0M764,370h0M814,393h0M756,368h0M743,370h0M790,386h0M768,393h0M786,389h0M809,390h0M790,375h0M808,398h0M792,388h0M753,362h0M759,381h0M785,378h0M804,373h0M780,366h0M757,353h0M734,364h0M791,374h0M780,393h0M795,391h0M779,383h0M782,379h0M777,392h0M775,371h0M800,350h0M777,357h0M790,381h0M767,397h0M794,375h0M808,346h0M785,362h0M764,349h0M794,347h0M815,373h0M766,380h0M795,386h0M784,367h0M812,361h0M805,397h0M771,365h0M754,378h0M765,390h0M796,382h0M782,349h0M799,367h0M763,370h0M809,361h0M769,365h0M762,344h0M773,376h0M769,387h0M791,376h0M769,399h0M832,371h0M737,366h0M767,368h0M765,364h0M795,368h0M789,376h0M764,358h0M743,381h0M777,348h0M774,399h0M779,368h0M801,379h0M771,365h0M777,388h0M742,356h0M801,381h0M772,393h0M811,386h0M771,354h0M789,377h0M778,381h0M779,398h0M787,372h0M793,390h0M780,366h0M771,378h0M802,373h0M768,375h0M783,396h0M785,385h0M791,377h0M763,367h0M776,391h0M794,382h0M782,354h0M785,365h0M832,368h0M791,387h0M791,367h0M751,365h0M801,383h0M744,256h0M751,251h0M720,271h0M738,236h0M727,242h0M726,254h0M726,279h0M705,256h0M745,255h0M730,255h0M736,286h0M717,278h0M713,258h0M741,302h0M727,247h0M749,277h0M736,269h0M736,269h0M718,270h0M740,260h0M741,259h0M746,280h0M738,281h0M725,278h0M715,295h0M705,306h0M732,269h0M715,246h0M730,281h0M734,298h0M745,283h0M726,268h0M717,247h0M713,277h0M723,255h0M678,283h0M733,253h0M726,270h0M720,277h0M736,285h0M751,245h0M729,278h0M746,272h0M752,238h0M737,225h0M722,255h0M726,290h0M741,266h0M748,309h0M713,249h0M695,250h0M746,271h0M744,256h0M702,290h0M722,299h0M728,242h0M730,262h0M727,284h0M759,261h0M725,265h0M718,278h0M711,241h0M722,288h0M727,273h0M723,267h0M742,267h0M722,249h0M725,254h0M740,272h0M707,260h0M724,296h0M706,258h0M743,260h0M732,269h0M726,276h0M725,265h0M725,271h0M741,252h0M729,253h0M734,280h0M709,247h0M715,264h0M705,287h0M748,258h0M741,278h0M714,269h0M714,275h0M742,274h0M734,266h0M729,260h0M724,264h0M714,275h0M723,265h0M715,250h0M728,275h0M744,262h0M715,295h0M740,310h0M727,265h0M745,270h0M741,281h0M736,255h0M728,270h0M702,289h0M724,264h0M720,282h0M745,283h0M745,247h0M732,268h0M724,249h0M727,273h0M739,272h0M714,268h0M751,287h0M723,259h0M750,270h0M716,245h0M733,255h0M736,266h0M722,262h0M781,259h0M796,252h0M790,273h0M779,246h0M772,261h0M781,256h0M782,277h0M771,266h0M797,278h0M780,268h0M771,248h0M793,268h0M760,262h0M769,257h0M777,275h0M755,262h0M783,265h0M782,249h0M745,265h0M764,264h0M768,265h0M751,266h0M784,268h0M765,266h0M780,276h0M776,266h0M796,257h0M779,260h0M770,274h0M776,259h0M781,250h0M791,261h0M788,263h0M776,251h0M758,260h0M769,262h0M784,281h0M765,255h0M795,274h0M782,266h0M768,255h0M773,270h0M765,289h0M794,229h0M771,264h0M762,266h0M757,256h0M785,253h0M793,267h0M780,257h0M753,259h0M783,271h0M762,264h0M782,267h0M767,261h0M809,276h0M772,256h0M790,247h0M800,249h0M765,261h0M826,295h0M830,289h0M836,281h0M846,302h0M847,298h0M813,277h0M857,303h0M831,290h0M848,294h0M859,283h0M859,293h0M849,291h0M812,301h0M832,305h0M821,289h0M853,285h0M830,300h0M873,299h0M862,300h0M867,299h0M838,303h0M838,306h0M862,278h0M845,303h0M852,281h0M858,301h0M855,296h0M847,302h0M855,302h0M857,318h0M816,290h0M848,300h0M822,300h0M840,294h0M858,300h0M825,289h0M842,284h0M864,307h0M835,294h0M822,294h0M852,303h0M860,285h0M851,280h0M827,277h0M843,282h0M822,290h0M851,301h0M850,297h0M833,294h0M840,306h0M861,305h0M857,291h0M839,300h0M822,314h0M862,279h0M842,293h0M829,300h0M836,318h0M834,277h0M855,305h0M851,286h0M838,294h0M829,287h0M821,287h0M828,288h0M842,293h0M851,297h0M850,305h0M833,298h0M861,287h0M858,315h0M813,284h0M844,311h0M830,311h0M882,283h0M835,293h0M849,270h0M830,300h0M832,297h0M835,304h0M823,292h0M825,288h0M844,292h0M847,293h0M850,280h0M846,281h0M847,306h0M849,285h0M853,302h0M837,294h0M754,333h0M765,323h0M763,319h0M750,314h0M735,316h0M741,310h0M726,301h0M735,319h0M781,325h0M742,309h0M755,320h0M774,304h0M729,332h0M707,323h0M743,324h0M748,341h0M777,319h0M737,311h0M724,308h0M766,318h0M761,328h0M737,313h0M760,311h0M776,347h0M715,301h0M759,306h0M715,297h0M746,311h0M769,332h0M737,334h0M758,322h0M772,328h0M780,309h0M762,304h0M733,306h0M763,322h0M731,286h0M756,308h0M743,314h0M746,322h0M759,313h0M723,347h0M742,325h0M728,319h0M768,337h0M754,322h0M738,325h0M765,308h0M766,310h0M714,316h0M735,321h0M777,298h0M736,283h0M717,328h0M758,320h0M731,299h0M772,325h0M756,324h0M725,311h0M757,312h0M746,307h0M759,304h0M742,321h0M773,317h0M733,317h0M737,319h0M734,321h0M744,340h0M776,320h0M775,321h0M854,227h0M870,202h0M880,226h0M870,228h0M884,211h0M869,216h0M871,221h0M874,231h0M859,215h0M875,220h0M876,205h0M883,215h0M867,222h0M862,199h0M875,193h0M865,196h0M872,214h0M864,230h0M885,204h0M868,216h0M874,205h0M863,217h0M877,199h0M885,202h0M874,200h0M866,214h0M890,238h0M875,226h0M873,215h0M847,222h0M875,213h0M879,238h0M869,213h0M868,216h0M867,209h0M888,200h0M879,204h0M866,206h0M885,234h0M874,193h0M854,217h0M882,224h0M871,227h0M882,212h0M871,219h0M819,160h0M821,156h0M824,172h0M821,167h0M817,164h0M808,165h0M858,169h0M861,160h0M860,170h0M851,170h0M855,169h0M860,168h0M848,163h0M864,168h0M678,390h0M709,419h0M702,402h0M713,396h0M701,415h0M728,383h0M691,416h0M665,375h0M707,387h0M739,401h0M698,374h0M695,415h0M703,370h0M705,359h0M707,412h0M679,401h0M714,401h0M704,391h0M696,416h0M698,379h0M692,410h0M715,362h0M706,367h0M700,403h0M698,398h0M716,372h0M710,399h0M687,403h0M685,379h0M639,386h0M648,354h0M665,358h0M655,374h0M669,382h0M659,380h0M652,392h0M540,314h0M565,298h0M570,350h0M610,285h0M650,318h0M655,418h0M650,430h0M636,454h0M832,205h0" stroke="#56a35c" stroke-width="7.5" stroke-linecap="round" fill="none"/>
<path d="M694,250 C696,233 704,232 720,230 C736,228 767,235 790,240 C813,245 843,252 858,262 C873,272 880,285 882,300 C884,315 878,334 868,350 C858,366 836,384 820,395 C804,406 784,415 770,415 C756,415 746,409 735,395 C724,381 712,354 705,330 C698,306 692,267 694,250Z" fill="none" stroke="#34466b" stroke-width="4"/>
</g>
<rect x="192.1" y="1061.8" width="158.7" height="144.5" fill="none" stroke="#8f9bbf" stroke-width="1" />
<rect x="533.5" y="769.1" width="227.0" height="225.3" fill="#fff" stroke="none" stroke-width="0" />
<line x1="564.8" y1="769.1" x2="564.8" y2="994.4" stroke="#e6e6ee" stroke-width="1.2" />
<line x1="728.9" y1="769.1" x2="728.9" y2="994.4" stroke="#e6e6ee" stroke-width="1.2" />
<line x1="533.5" y1="800.0" x2="760.5" y2="800.0" stroke="#e6e6ee" stroke-width="1.2" />
<line x1="533.5" y1="962.9" x2="760.5" y2="962.9" stroke="#e6e6ee" stroke-width="1.2" />
<line x1="647.0" y1="769.1" x2="647.0" y2="994.4" stroke="#6e6e6e" stroke-width="1.6" />
<line x1="533.5" y1="881.6" x2="760.5" y2="881.6" stroke="#6e6e6e" stroke-width="1.6" />
<g transform="translate(497.2,750.5) scale(0.27480)">
<path d="M768,360 C772,357 781,374 790,374 C798,375 809,362 818,363 C828,365 839,374 847,381 C855,389 862,399 865,410 C868,421 868,436 865,446 C862,455 855,463 847,467 C839,471 825,469 818,467 C811,465 805,460 804,453 C803,446 813,432 811,424 C809,416 797,409 790,403 C783,397 772,396 768,388 C765,381 765,362 768,360Z" fill="#d6d6d6"/>
<path d="M834,371h0M818,471h0M804,445h0M774,388h0M877,439h0M820,373h0M850,394h0M841,465h0M787,376h0M830,358h0M868,398h0M831,463h0M797,411h0M763,377h0M872,451h0M829,457h0M781,406h0M769,362h0M805,456h0M797,413h0M766,360h0M859,406h0M765,372h0M770,391h0M776,374h0" stroke="#d6d6d6" stroke-width="9" stroke-linecap="round" fill="none"/>
<path d="M618,467 C621,456 633,446 640,446 C647,446 653,461 661,467 C669,473 680,480 690,481 C699,482 709,474 718,474 C728,474 738,479 747,481 C755,484 767,482 768,488 C769,494 760,507 754,517 C748,527 740,540 733,546 C725,552 717,555 711,553 C705,550 703,537 697,531 C691,525 684,518 675,517 C667,516 655,525 647,524 C638,523 630,519 625,510 C621,500 616,478 618,467Z" fill="#d6d6d6"/>
<path d="M647,447h0M684,522h0M754,512h0M642,444h0M620,462h0M654,459h0M758,507h0M710,473h0M614,507h0M717,546h0M627,496h0M764,516h0M645,447h0M699,476h0M676,515h0M616,494h0M639,464h0M639,444h0M730,546h0M673,522h0M760,500h0M668,470h0M651,457h0M692,534h0M683,478h0" stroke="#d6d6d6" stroke-width="9" stroke-linecap="round" fill="none"/>
<path d="M754,517 C755,512 773,500 783,499 C792,498 802,503 811,510 C821,516 836,530 840,538 C843,547 838,555 833,560 C827,565 812,568 804,567 C796,566 787,562 783,556 C778,550 780,538 775,531 C771,525 753,522 754,517Z" fill="#d6d6d6"/>
<path d="M773,538h0M789,497h0M823,520h0M800,503h0M824,512h0M776,531h0M766,527h0M754,526h0M802,563h0M803,510h0M772,508h0M782,525h0M819,558h0M809,508h0M836,546h0M788,560h0M827,558h0M841,551h0M837,535h0M790,563h0M795,503h0M819,519h0M760,518h0M778,536h0M839,548h0" stroke="#d6d6d6" stroke-width="9" stroke-linecap="round" fill="none"/>
<path d="M647,546 C653,534 666,530 675,535 C685,540 694,563 704,574 C713,585 723,597 733,603 C742,609 755,604 761,610 C768,616 772,628 772,638 C772,649 768,666 761,674 C755,682 742,687 733,688 C723,690 713,687 704,685 C694,682 684,681 675,674 C667,668 660,657 654,646 C648,634 641,619 640,603 C638,586 641,557 647,546Z" fill="#d6d6d6"/>
<path d="M758,678h0M698,681h0M772,637h0M750,608h0M658,544h0M655,641h0M645,631h0M641,554h0M730,596h0M744,689h0M692,559h0M669,531h0M764,608h0M656,540h0M635,562h0M639,597h0M772,672h0M694,676h0M773,627h0M764,626h0M658,537h0M671,539h0M657,640h0M727,602h0M747,673h0" stroke="#d6d6d6" stroke-width="9" stroke-linecap="round" fill="none"/>
<path d="M590,603 C596,593 610,577 618,574 C627,572 635,579 640,588 C644,598 643,617 647,631 C650,646 661,663 661,674 C661,685 654,694 647,699 C640,704 628,703 618,703 C609,702 597,701 590,696 C583,690 577,678 575,667 C574,656 577,642 579,631 C581,621 583,612 590,603Z" fill="#d6d6d6"/>
<path d="M574,616h0M607,595h0M584,628h0M580,639h0M661,685h0M643,584h0M595,611h0M661,662h0M650,690h0M580,688h0M610,590h0M609,700h0M608,700h0M579,613h0M636,706h0M620,703h0M623,695h0M616,707h0M587,610h0M618,692h0M644,601h0M587,666h0M628,698h0M620,699h0M655,686h0" stroke="#d6d6d6" stroke-width="9" stroke-linecap="round" fill="none"/>
<path d="M611,503 C615,498 627,510 633,517 C638,524 644,537 643,546 C643,554 634,567 629,567 C624,567 614,556 611,546 C608,535 608,507 611,503Z" fill="#d6d6d6"/>
<path d="M612,510h0M612,523h0M623,561h0M641,548h0M643,549h0M608,534h0M623,510h0M606,548h0M634,513h0M632,562h0M625,509h0M615,506h0M606,513h0M608,535h0M615,554h0M604,505h0M633,512h0M649,547h0M600,512h0M633,508h0M617,506h0M639,533h0M609,522h0M635,558h0M619,553h0" stroke="#d6d6d6" stroke-width="9" stroke-linecap="round" fill="none"/>
<path d="M554,281 C558,269 571,275 575,267 C580,259 578,241 583,231 C587,221 596,212 604,206 C612,201 623,199 633,199 C642,200 653,203 661,210 C669,216 677,228 683,238 C688,249 691,264 697,274 C703,284 709,292 718,299 C728,306 743,309 754,317 C765,325 773,337 783,346 C792,354 803,361 811,367 C820,373 833,378 834,383 C835,388 822,392 815,397 C807,402 796,411 790,411 C783,411 780,398 775,397 C771,396 765,398 761,404 C758,410 756,422 754,431 C752,441 753,454 747,460 C741,466 728,469 718,467 C709,465 699,448 690,446 C680,443 669,454 661,453 C653,452 647,437 640,438 C633,440 625,457 618,460 C611,462 603,460 597,453 C591,446 587,429 583,417 C578,405 573,394 568,381 C563,368 556,355 554,338 C552,322 550,293 554,281Z" fill="#d6d6d6"/>
<path d="M697,281h0M558,284h0M549,284h0M648,446h0M667,446h0M626,194h0M703,452h0M615,457h0M574,241h0M756,410h0M787,354h0M667,207h0M776,398h0M800,354h0M753,451h0M753,424h0M575,399h0M565,273h0M764,401h0M712,287h0M613,199h0M670,234h0M764,394h0M580,232h0M623,202h0M652,442h0M584,242h0M763,428h0M723,467h0M658,450h0M769,394h0M672,447h0M779,343h0M569,355h0M546,335h0M695,272h0M802,360h0M647,439h0M739,466h0M665,226h0M734,306h0M604,211h0M796,396h0M600,202h0M555,346h0M617,452h0M752,437h0M827,389h0M768,333h0M580,407h0M700,264h0M663,221h0M820,400h0M555,324h0M763,405h0M748,460h0M568,266h0M568,395h0M578,231h0M638,441h0M788,355h0M657,200h0M629,452h0M702,456h0M677,237h0M582,258h0M645,438h0M629,459h0M759,427h0M758,440h0M774,398h0M656,454h0M683,440h0M671,228h0M762,331h0M640,452h0M656,205h0M681,261h0M777,332h0M699,276h0M779,391h0M568,373h0M685,248h0M754,415h0M603,451h0M704,467h0M602,209h0M695,275h0M761,410h0M615,211h0" stroke="#d6d6d6" stroke-width="9" stroke-linecap="round" fill="none"/>
<path d="M268,317 C274,307 279,305 290,299 C300,293 317,285 333,281 C348,277 366,277 383,274 C399,271 419,269 433,263 C446,258 450,247 461,242 C472,237 486,231 497,231 C508,231 518,236 525,242 C533,248 535,259 540,267 C544,275 550,278 554,288 C558,299 561,316 561,331 C561,347 559,365 554,381 C549,398 535,417 533,431 C530,446 535,456 540,467 C544,478 556,487 561,496 C566,504 569,510 568,517 C567,524 560,534 554,538 C548,543 541,547 533,546 C524,544 514,531 504,531 C494,531 487,540 475,546 C464,552 446,562 433,567 C419,572 409,575 397,574 C385,574 373,569 361,563 C349,557 336,549 325,538 C315,528 305,516 297,503 C289,490 281,474 275,460 C269,446 264,434 261,417 C258,400 256,377 258,360 C259,343 263,327 268,317Z" fill="#d6d6d6"/>
<path d="M527,249h0M545,277h0M422,564h0M369,568h0M262,349h0M284,485h0M552,280h0M562,296h0M269,317h0M568,511h0M437,257h0M319,287h0M406,275h0M330,289h0M389,272h0M553,291h0M536,279h0M541,270h0M323,287h0M367,571h0M466,561h0M287,484h0M481,540h0M273,448h0M560,343h0M285,474h0M427,267h0M307,302h0M472,240h0M365,565h0M301,295h0M284,491h0M531,237h0M346,553h0M316,520h0M525,260h0M536,268h0M543,263h0M562,516h0M284,431h0M377,572h0M479,533h0M554,316h0M317,276h0M556,333h0M291,293h0M286,486h0M442,248h0M482,241h0M505,544h0M252,421h0M542,277h0M505,246h0M503,236h0M260,363h0M521,260h0M472,233h0M542,541h0M554,471h0M519,234h0M285,302h0M431,262h0M436,259h0M492,236h0M519,231h0M558,527h0M550,353h0M532,277h0M437,264h0M532,542h0M457,554h0M404,573h0M411,280h0M470,241h0M469,231h0M565,510h0M253,371h0M334,542h0M289,308h0M544,272h0M460,257h0M265,430h0M363,273h0M335,543h0M378,572h0M540,545h0M542,419h0M372,267h0M413,271h0M411,575h0M554,490h0M541,459h0M418,261h0M455,561h0M564,339h0M558,293h0M305,508h0M537,446h0M560,311h0M397,266h0M410,266h0M410,565h0M314,514h0M373,272h0M480,543h0M387,567h0M548,491h0M554,405h0M410,258h0M520,236h0" stroke="#d6d6d6" stroke-width="9" stroke-linecap="round" fill="none"/>
<path d="M397,660 C397,646 402,634 408,624 C414,615 422,608 433,603 C443,597 456,596 468,592 C480,588 493,584 504,581 C515,578 525,577 533,574 C540,572 546,565 550,567 C555,569 559,578 561,588 C563,599 560,617 561,631 C562,646 568,660 568,674 C569,688 567,703 565,717 C562,731 559,747 554,760 C549,772 541,787 533,792 C524,797 516,791 504,788 C492,785 474,781 461,774 C448,767 435,756 425,746 C416,735 409,724 404,710 C399,696 396,674 397,660Z" fill="#d6d6d6"/>
<path d="M414,724h0M565,725h0M454,601h0M499,584h0M550,762h0M446,754h0M573,721h0M426,609h0M417,714h0M513,788h0M551,773h0M510,788h0M492,588h0M551,572h0M560,655h0M551,761h0M533,784h0M560,757h0M474,586h0M566,697h0M560,704h0M487,792h0M566,678h0M565,699h0M425,606h0M549,764h0M561,755h0M520,576h0M557,754h0M549,570h0M412,723h0M523,578h0M395,673h0M408,615h0M406,684h0M564,683h0M528,574h0M559,617h0M407,618h0M556,657h0M399,661h0M431,593h0M558,658h0M481,597h0M487,581h0M570,711h0M399,679h0M454,594h0M558,574h0M422,750h0M493,584h0M533,792h0M456,759h0M466,775h0M401,625h0M425,742h0M557,598h0M401,640h0M565,724h0M509,581h0M398,670h0M460,786h0M467,779h0M411,675h0M454,761h0M421,741h0M543,782h0M426,744h0M550,656h0M465,585h0" stroke="#d6d6d6" stroke-width="9" stroke-linecap="round" fill="none"/>
<path d="M354,305h0M553,310h0M443,364h0M358,303h0M357,418h0M441,465h0M482,539h0M341,382h0M517,469h0M437,264h0M267,407h0M409,484h0M550,320h0M439,481h0M354,308h0M346,345h0M430,444h0M529,456h0M429,317h0M376,409h0M383,480h0M492,313h0M329,402h0M494,530h0M543,302h0M483,486h0M459,420h0M519,480h0M424,337h0M322,294h0M455,346h0M376,405h0M450,425h0M355,295h0M446,356h0M339,401h0M487,470h0M468,367h0M538,410h0M480,274h0M441,339h0M408,269h0M371,293h0M422,433h0M464,465h0M542,326h0M453,302h0M309,513h0M343,430h0M336,397h0M477,353h0M553,353h0M492,312h0M294,354h0M371,278h0M451,342h0M443,261h0M464,483h0M552,300h0M343,317h0M333,414h0M463,454h0M444,365h0M463,474h0M475,272h0M508,444h0M422,328h0M403,481h0M396,476h0M534,419h0M340,368h0M412,518h0M428,479h0M523,483h0M548,283h0M447,430h0M530,474h0M367,509h0M334,341h0M405,280h0M379,353h0M511,355h0M457,354h0M362,353h0M544,514h0M311,375h0M444,447h0M560,514h0M323,463h0M468,483h0M524,388h0M394,357h0M541,301h0M310,448h0M311,324h0M503,395h0M509,316h0M421,491h0M503,432h0M495,351h0M479,326h0M474,419h0M377,531h0M369,290h0M447,413h0M473,431h0M452,390h0M363,392h0M500,306h0M412,287h0M516,389h0M447,536h0M323,461h0M510,283h0M492,494h0M426,387h0M469,384h0M436,378h0M546,398h0M553,344h0M442,346h0M502,357h0M345,397h0M460,455h0M463,460h0M338,374h0M470,371h0M529,319h0M351,477h0M398,419h0M345,331h0M537,535h0M439,374h0M421,453h0M331,370h0M359,304h0M416,388h0M409,357h0M348,396h0M283,465h0M453,254h0M338,299h0M467,368h0M422,451h0M428,380h0M400,417h0M351,298h0M413,457h0M462,268h0M525,285h0M316,293h0M538,537h0M378,330h0M379,441h0M383,532h0M357,300h0M320,520h0M430,388h0M493,310h0M507,419h0M386,437h0M532,398h0M345,290h0M548,355h0M523,302h0M415,469h0M501,271h0M432,317h0M379,373h0M428,359h0M356,297h0M340,527h0M400,366h0M407,287h0M412,337h0M340,424h0M459,334h0M464,477h0M414,342h0M342,423h0M414,432h0M400,299h0M539,293h0M422,467h0M526,392h0M416,287h0M466,265h0M498,251h0M415,303h0M312,463h0M529,321h0M510,488h0M453,544h0M405,434h0M501,374h0M500,491h0M391,318h0M429,508h0M509,385h0M338,538h0M554,303h0M504,326h0M444,265h0M333,407h0M305,483h0M409,318h0M454,491h0M350,514h0M486,415h0M448,429h0M521,447h0M410,294h0M388,432h0M536,377h0M410,431h0M418,389h0M518,423h0M448,333h0M457,273h0M460,448h0M393,561h0M413,442h0M352,419h0M337,314h0M458,388h0M476,354h0M541,380h0M512,308h0M348,301h0M431,279h0M487,241h0M524,317h0M530,350h0M436,466h0M395,453h0M432,327h0M330,398h0M488,371h0M478,373h0M382,441h0M489,451h0M321,355h0M350,328h0M313,407h0M405,285h0M365,508h0M470,418h0M452,322h0M489,335h0M513,402h0M409,498h0M465,493h0M445,255h0M435,300h0M338,461h0M438,428h0M484,438h0M509,490h0M503,287h0M418,396h0M318,419h0M365,409h0M499,355h0M339,347h0M503,411h0M386,461h0M366,284h0M355,304h0M539,307h0M323,411h0M420,314h0M404,449h0M433,429h0M499,496h0M463,379h0M335,471h0M340,284h0M379,367h0M548,314h0M515,364h0M531,281h0M336,395h0M419,494h0M419,341h0M443,258h0M629,202h0M796,387h0M823,389h0M613,451h0M603,452h0M702,307h0M771,365h0M686,340h0M618,291h0M636,356h0M621,219h0M609,233h0M567,311h0M794,387h0M642,389h0M618,261h0M607,354h0M798,374h0M638,361h0M685,327h0M631,384h0M583,397h0M681,241h0M649,382h0M676,286h0M772,364h0M730,342h0M580,313h0M591,355h0M674,332h0M803,389h0M640,399h0M638,296h0M581,299h0M685,292h0M612,370h0M623,245h0M658,280h0M576,376h0M709,391h0M604,308h0M804,391h0M614,228h0M627,268h0M595,279h0M588,401h0M602,320h0M585,258h0M661,437h0M597,337h0M593,353h0M580,313h0M814,391h0M651,345h0M727,423h0M696,419h0M633,234h0M585,418h0M625,286h0M711,322h0M795,374h0M765,389h0M582,401h0M629,346h0M594,410h0M689,430h0M617,278h0M614,451h0M665,315h0M644,327h0M683,304h0M795,392h0M761,401h0M736,438h0M610,359h0M729,364h0M774,345h0M778,361h0M688,439h0M731,415h0M588,406h0M808,377h0M794,385h0M602,248h0M652,218h0M626,310h0M616,242h0M732,390h0M743,355h0M620,435h0M626,360h0M599,325h0M620,409h0M751,358h0M598,364h0M633,231h0M738,385h0M745,391h0M682,432h0M596,257h0M778,352h0M689,374h0M750,377h0M737,352h0M596,315h0M735,358h0M685,291h0M590,241h0M756,382h0M710,368h0M673,242h0M619,219h0M608,236h0M730,352h0M642,403h0M749,405h0M752,407h0M705,388h0M683,375h0M702,398h0M774,387h0M474,733h0M563,702h0M437,726h0M530,656h0M517,761h0M417,672h0M534,597h0M506,765h0M514,718h0M547,569h0M564,662h0M443,726h0M456,629h0M558,662h0M555,638h0M492,770h0M461,615h0M507,712h0M555,596h0M405,686h0M452,701h0M471,751h0M541,714h0M563,670h0M497,693h0M485,703h0M490,763h0M450,687h0M491,742h0M445,760h0M454,733h0M510,638h0M409,716h0M537,749h0M538,582h0M414,689h0M478,673h0M522,779h0M546,615h0M470,668h0M544,599h0M556,631h0M502,787h0M827,371h0M831,401h0M841,455h0M841,378h0M829,430h0M793,403h0M841,408h0M775,384h0M818,463h0M811,416h0M834,413h0M860,411h0M833,376h0M851,396h0M831,456h0M844,438h0M735,499h0M638,513h0M729,507h0M762,498h0M803,520h0M774,518h0M795,527h0M810,520h0M790,533h0M791,510h0M808,531h0M698,661h0M722,669h0M688,597h0M753,653h0M740,632h0M610,642h0M625,529h0" stroke="#fbdac6" stroke-width="10.5" stroke-linecap="round" fill="none"/>
<path d="M545,278h0M449,500h0M464,486h0M412,454h0M520,440h0M516,316h0M259,365h0M367,377h0M527,421h0M274,402h0M329,396h0M381,424h0M494,522h0M449,478h0M506,446h0M384,361h0M426,451h0M396,516h0M549,346h0M341,382h0M416,409h0M438,427h0M497,310h0M450,314h0M499,440h0M460,547h0M415,384h0M479,444h0M520,310h0M407,316h0M495,463h0M525,296h0M274,325h0M419,268h0M505,326h0M269,368h0M408,416h0M439,297h0M516,364h0M402,323h0M349,290h0M341,394h0M491,446h0M333,285h0M538,485h0M433,495h0M448,300h0M553,355h0M329,300h0M375,408h0M465,379h0M485,270h0M351,450h0M366,370h0M451,312h0M453,409h0M370,344h0M357,546h0M506,380h0M314,340h0M507,248h0M350,542h0M499,245h0M342,370h0M378,491h0M516,251h0M417,368h0M445,465h0M343,451h0M380,549h0M521,387h0M537,385h0M385,565h0M390,437h0M504,244h0M457,473h0M409,455h0M326,421h0M510,457h0M396,411h0M391,542h0M361,306h0M455,298h0M347,391h0M330,300h0M547,339h0M312,404h0M445,272h0M405,491h0M403,323h0M513,278h0M349,537h0M292,343h0M495,325h0M493,340h0M301,362h0M378,401h0M327,321h0M534,468h0M410,389h0M424,349h0M425,300h0M313,291h0M465,377h0M392,479h0M513,326h0M312,389h0M501,306h0M510,431h0M356,536h0M410,325h0M455,349h0M340,330h0M376,320h0M269,417h0M476,401h0M461,542h0M318,294h0M471,377h0M452,467h0M389,363h0M454,479h0M352,365h0M374,427h0M510,265h0M344,397h0M385,438h0M379,330h0M333,532h0M519,329h0M335,444h0M526,468h0M461,259h0M417,493h0M447,280h0M496,335h0M495,309h0M543,396h0M389,539h0M453,267h0M325,421h0M484,441h0M481,339h0M482,451h0M362,338h0M395,274h0M441,400h0M353,348h0M416,471h0M314,417h0M391,355h0M500,244h0M549,365h0M478,438h0M440,359h0M517,315h0M523,296h0M463,364h0M387,376h0M330,540h0M356,360h0M396,445h0M563,520h0M426,322h0M485,297h0M339,395h0M528,253h0M426,354h0M364,419h0M441,325h0M488,351h0M368,389h0M368,400h0M286,361h0M357,424h0M557,352h0M510,254h0M388,342h0M552,309h0M543,370h0M534,375h0M452,296h0M485,275h0M460,453h0M369,414h0M319,294h0M536,326h0M495,289h0M356,334h0M544,361h0M267,375h0M417,562h0M403,525h0M433,490h0M377,315h0M504,452h0M466,298h0M396,288h0M416,331h0M480,358h0M448,291h0M365,352h0M430,486h0M428,557h0M503,393h0M325,350h0M487,300h0M527,462h0M400,474h0M433,379h0M362,393h0M373,277h0M468,414h0M440,348h0M516,307h0M353,418h0M523,308h0M505,313h0M315,513h0M303,356h0M548,371h0M357,421h0M469,303h0M366,362h0M281,333h0M500,457h0M494,314h0M417,270h0M391,374h0M521,286h0M438,293h0M331,297h0M287,309h0M488,445h0M353,551h0M473,429h0M465,304h0M445,351h0M489,317h0M312,328h0M470,472h0M433,333h0M426,387h0M339,502h0M419,539h0M428,328h0M494,363h0M366,474h0M448,331h0M362,516h0M454,273h0M502,270h0M317,413h0M422,398h0M452,286h0M461,531h0M542,316h0M415,348h0M529,297h0M435,366h0M546,534h0M365,323h0M445,293h0M467,346h0M455,520h0M344,338h0M378,341h0M514,376h0M311,498h0M381,305h0M310,427h0M534,266h0M529,256h0M509,502h0M426,484h0M506,483h0M536,372h0M349,317h0M490,414h0M466,245h0M439,272h0M512,337h0M370,333h0M373,386h0M386,325h0M346,528h0M429,399h0M527,252h0M500,434h0M535,289h0M388,540h0M411,350h0M482,282h0M363,440h0M532,294h0M445,548h0M379,489h0M529,507h0M346,481h0M452,394h0M372,280h0M284,453h0M494,416h0M500,424h0M372,429h0M517,449h0M297,368h0M551,516h0M453,256h0M559,339h0M515,328h0M289,381h0M381,479h0M387,368h0M503,474h0M314,424h0M549,332h0M405,338h0M489,278h0M510,254h0M496,375h0M376,448h0M496,282h0M369,277h0M696,375h0M821,389h0M639,365h0M683,446h0M720,348h0M712,295h0M698,311h0M584,419h0M682,352h0M778,368h0M632,360h0M593,255h0M677,332h0M663,246h0M564,308h0M776,368h0M740,337h0M640,438h0M760,368h0M707,429h0M732,429h0M631,404h0M577,385h0M791,382h0M706,289h0M613,281h0M599,279h0M631,433h0M658,226h0M692,431h0M634,439h0M608,242h0M684,437h0M647,415h0M622,261h0M623,321h0M614,434h0M646,371h0M702,378h0M759,365h0M581,347h0M727,446h0M691,264h0M668,247h0M600,299h0M674,438h0M612,328h0M799,370h0M738,319h0M686,343h0M664,290h0M744,342h0M595,379h0M579,314h0M639,400h0M575,286h0M595,363h0M778,394h0M710,301h0M622,251h0M642,292h0M631,437h0M585,379h0M793,369h0M637,396h0M588,278h0M601,371h0M578,331h0M595,312h0M615,324h0M686,289h0M665,340h0M618,321h0M646,225h0M705,443h0M624,404h0M662,357h0M600,275h0M634,258h0M607,439h0M672,408h0M743,374h0M596,421h0M733,342h0M780,386h0M668,231h0M564,352h0M719,307h0M664,419h0M607,229h0M764,363h0M703,368h0M676,291h0M625,251h0M617,446h0M671,274h0M629,444h0M615,394h0M668,380h0M677,416h0M615,449h0M674,370h0M711,425h0M653,363h0M605,287h0M660,268h0M582,294h0M777,377h0M588,256h0M664,331h0M747,337h0M683,287h0M807,380h0M618,249h0M756,387h0M603,414h0M711,414h0M569,349h0M582,386h0M736,387h0M637,440h0M707,331h0M579,385h0M572,287h0M608,363h0M612,229h0M730,384h0M627,412h0M609,328h0M564,348h0M762,333h0M641,361h0M695,362h0M652,274h0M582,267h0M636,222h0M645,273h0M586,263h0M803,375h0M590,403h0M689,312h0M590,379h0M594,291h0M608,394h0M568,290h0M720,372h0M645,383h0M657,264h0M723,394h0M633,228h0M605,354h0M630,384h0M791,387h0M664,227h0M661,234h0M747,394h0M725,454h0M791,410h0M665,313h0M629,208h0M718,388h0M683,270h0M598,433h0M785,347h0M599,223h0M739,452h0M752,336h0M666,419h0M707,386h0M760,375h0M748,332h0M726,355h0M599,289h0M634,334h0M757,386h0M683,416h0M627,280h0M679,360h0M671,271h0M735,360h0M746,342h0M684,312h0M744,405h0M629,388h0M690,290h0M592,413h0M742,420h0M592,275h0M573,352h0M713,332h0M569,314h0M604,429h0M654,271h0M620,265h0M611,318h0M607,303h0M568,339h0M679,258h0M572,350h0M711,301h0M632,240h0M600,297h0M794,374h0M588,298h0M766,341h0M630,350h0M690,430h0M726,412h0M593,398h0M795,396h0M684,243h0M652,429h0M622,448h0M639,253h0M699,434h0M600,370h0M567,284h0M787,395h0M692,297h0M630,246h0M616,216h0M558,328h0M748,423h0M555,297h0M648,341h0M640,423h0M709,456h0M654,279h0M670,437h0M623,314h0M675,421h0M600,451h0M573,269h0M614,409h0M785,370h0M650,269h0M652,269h0M684,285h0M702,414h0M622,388h0M571,386h0M690,292h0M596,429h0M589,333h0M692,382h0M687,352h0M676,338h0M634,227h0M727,391h0M698,309h0M666,240h0M567,312h0M593,414h0M699,346h0M561,299h0M617,368h0M615,342h0M694,428h0M589,297h0M723,390h0M597,276h0M633,207h0M645,333h0M745,411h0M653,285h0M772,347h0M767,342h0M750,385h0M712,329h0M611,409h0M593,410h0M636,407h0M792,361h0M677,380h0M491,762h0M504,739h0M443,750h0M481,742h0M499,763h0M517,729h0M472,765h0M501,707h0M519,588h0M454,717h0M546,721h0M452,667h0M446,735h0M436,738h0M542,773h0M559,671h0M427,730h0M544,712h0M516,740h0M538,659h0M444,611h0M414,725h0M452,709h0M492,767h0M477,674h0M458,672h0M531,751h0M477,660h0M536,632h0M561,699h0M472,706h0M526,648h0M552,704h0M540,715h0M468,611h0M553,617h0M488,769h0M522,604h0M544,745h0M418,650h0M468,692h0M491,745h0M565,664h0M480,759h0M448,657h0M456,703h0M450,717h0M541,728h0M438,705h0M477,618h0M528,685h0M561,617h0M446,734h0M505,763h0M435,752h0M523,761h0M482,750h0M467,716h0M536,734h0M519,764h0M417,711h0M446,686h0M542,768h0M537,763h0M495,781h0M438,673h0M483,618h0M533,717h0M482,654h0M794,381h0M770,365h0M852,418h0M820,463h0M855,410h0M827,406h0M841,432h0M820,431h0M791,392h0M805,383h0M800,372h0M816,445h0M825,395h0M829,411h0M787,373h0M836,461h0M853,454h0M859,439h0M863,443h0M849,405h0M798,404h0M830,450h0M828,391h0M837,428h0M860,403h0M805,451h0M714,543h0M636,456h0M661,505h0M686,485h0M696,502h0M628,460h0M626,498h0M697,504h0M636,500h0M742,525h0M652,501h0M687,513h0M714,516h0M656,464h0M756,512h0M710,506h0M622,468h0M816,549h0M803,525h0M820,521h0M783,517h0M787,506h0M782,535h0M812,530h0M815,514h0M795,507h0M776,519h0M759,518h0M814,547h0M765,517h0M805,540h0M813,512h0M802,535h0M784,519h0M780,540h0M760,518h0M801,524h0M823,560h0M829,552h0M777,510h0M813,564h0M789,545h0M739,623h0M733,653h0M657,585h0M711,682h0M751,677h0M729,661h0M753,638h0M720,659h0M648,582h0M729,604h0M725,666h0M755,645h0M669,634h0M761,655h0M670,617h0M666,559h0M753,677h0M759,663h0M699,657h0M695,672h0M761,648h0M687,625h0M623,591h0M594,664h0M611,683h0M593,686h0M629,609h0M632,668h0M580,658h0M613,598h0M603,670h0M588,691h0M643,610h0M641,645h0M624,595h0M638,543h0M633,531h0M615,514h0" stroke="#f7c0a1" stroke-width="10.5" stroke-linecap="round" fill="none"/>
<path d="M387,388h0M407,356h0M528,248h0M546,350h0M485,510h0M438,430h0M428,469h0M326,340h0M326,300h0M470,512h0M502,420h0M528,397h0M437,277h0M542,493h0M539,297h0M425,391h0M481,380h0M494,342h0M374,355h0M470,470h0M399,328h0M364,316h0M524,464h0M532,407h0M447,442h0M274,404h0M484,440h0M555,348h0M441,353h0M346,397h0M380,362h0M355,394h0M536,273h0M375,423h0M478,482h0M534,446h0M394,415h0M428,469h0M491,391h0M523,413h0M435,367h0M423,364h0M528,320h0M378,495h0M524,436h0M414,384h0M372,375h0M329,322h0M484,476h0M445,454h0M382,329h0M366,280h0M498,449h0M451,252h0M376,527h0M316,301h0M516,252h0M457,395h0M435,400h0M523,481h0M375,557h0M522,307h0M488,472h0M468,462h0M425,543h0M415,542h0M526,255h0M438,402h0M462,389h0M470,389h0M426,366h0M533,292h0M417,378h0M353,326h0M373,321h0M349,450h0M416,271h0M376,567h0M414,308h0M463,462h0M493,453h0M395,281h0M490,486h0M375,348h0M464,298h0M500,423h0M306,377h0M510,280h0M361,381h0M506,338h0M424,364h0M306,367h0M431,453h0M519,441h0M397,375h0M356,521h0M527,307h0M503,441h0M424,465h0M282,403h0M340,342h0M525,402h0M422,402h0M366,280h0M421,349h0M327,430h0M399,453h0M343,413h0M343,388h0M494,346h0M397,280h0M546,321h0M448,344h0M388,324h0M464,436h0M405,395h0M344,530h0M519,507h0M431,439h0M412,284h0M396,457h0M457,462h0M352,315h0M400,435h0M478,368h0M457,410h0M753,351h0M640,273h0M616,356h0M682,275h0M590,398h0M722,362h0M610,434h0M614,427h0M644,426h0M716,381h0M590,345h0M578,325h0M745,432h0M744,412h0M737,410h0M579,269h0M664,428h0M724,351h0M583,416h0M585,361h0M694,381h0M687,369h0M612,364h0M718,429h0M715,350h0M719,412h0M677,247h0M671,401h0M610,215h0M583,239h0M665,264h0M671,320h0M645,217h0M594,250h0M723,373h0M782,389h0M679,432h0M684,371h0M592,395h0M798,390h0M695,390h0M785,395h0M787,401h0M692,298h0M564,296h0M738,408h0M613,314h0M660,393h0M720,398h0M684,379h0M815,380h0M626,376h0M594,308h0M716,395h0M659,450h0M642,241h0M618,271h0M586,279h0M607,313h0M621,401h0M689,351h0M602,441h0M736,387h0M774,369h0M585,235h0M676,259h0M642,435h0M566,371h0M698,362h0M741,387h0M657,269h0M562,325h0M696,322h0M608,227h0M664,437h0M752,404h0M673,365h0M734,374h0M770,371h0M662,297h0M598,291h0M752,382h0M654,309h0M639,206h0M630,410h0M784,364h0M703,433h0M624,341h0M623,379h0M736,370h0M564,324h0M612,215h0M730,385h0M667,351h0M602,441h0M663,387h0M787,389h0M636,425h0M652,393h0M743,434h0M636,336h0M675,398h0M684,371h0M681,342h0M612,391h0M748,350h0M739,419h0M679,321h0M641,431h0M689,388h0M572,309h0M774,369h0M674,374h0M720,366h0M678,345h0M623,301h0M733,419h0M734,461h0M740,362h0M630,203h0M588,276h0M560,324h0M657,404h0M592,298h0M668,337h0M709,335h0M669,360h0M756,406h0M586,382h0M578,321h0M789,354h0M702,393h0M614,295h0M667,237h0M747,453h0M734,433h0M673,413h0M752,332h0M757,398h0M732,374h0M609,436h0M589,278h0M621,242h0M679,419h0M567,303h0M706,450h0M614,311h0M661,380h0M748,363h0M573,323h0M786,393h0M630,396h0M586,278h0M630,225h0M651,440h0M741,411h0M634,252h0M624,303h0M682,372h0M647,304h0M638,297h0M660,403h0M657,262h0M747,371h0M806,386h0M804,382h0M679,438h0M694,368h0M626,352h0M620,394h0M746,429h0M635,255h0M607,214h0M632,399h0M670,294h0M710,424h0M699,346h0M574,394h0M604,308h0M655,335h0M736,417h0M684,384h0M647,256h0M626,389h0M642,403h0M736,347h0M668,373h0M748,447h0M648,421h0M628,229h0M696,421h0M681,421h0M621,446h0M765,336h0M759,393h0M621,361h0M707,402h0M668,236h0M658,233h0M585,241h0M593,386h0M575,395h0M558,306h0M633,382h0M644,228h0M601,346h0M639,267h0M702,305h0M684,379h0M636,421h0M601,271h0M648,286h0M641,392h0M647,258h0M775,350h0M632,315h0M585,399h0M814,390h0M783,359h0M633,361h0M726,417h0M762,401h0M666,288h0M581,384h0M731,392h0M704,286h0M694,445h0M694,307h0M411,680h0M531,724h0M520,591h0M446,628h0M515,782h0M498,764h0M444,696h0M547,693h0M417,711h0M477,751h0M542,585h0M439,700h0M465,705h0M531,749h0M509,745h0M444,755h0M533,694h0M516,758h0M557,626h0M554,708h0M550,579h0M483,658h0M534,781h0M520,767h0M542,735h0M458,736h0M520,632h0M473,746h0M418,635h0M535,675h0M540,599h0M425,620h0M422,717h0M560,646h0M544,636h0M546,617h0M518,718h0M482,708h0M545,743h0M518,728h0M467,741h0M559,664h0M460,646h0M543,597h0M562,701h0M543,690h0M416,688h0M516,638h0M467,753h0M424,711h0M558,615h0M531,589h0M544,676h0M460,715h0M505,773h0M478,746h0M560,690h0M437,721h0M550,577h0M452,667h0M456,750h0M493,663h0M434,694h0M552,579h0M545,580h0M537,615h0M556,618h0M463,718h0M538,752h0M534,666h0M557,718h0M438,649h0M425,671h0M496,686h0M521,585h0M434,617h0M557,717h0M564,652h0M461,755h0M547,734h0M441,738h0M527,611h0M438,675h0M422,663h0M451,751h0M497,737h0M402,686h0M534,778h0M468,646h0M543,681h0M536,632h0M542,607h0M546,668h0M504,746h0M446,729h0M476,753h0M491,678h0M490,716h0M538,621h0M854,416h0M819,386h0M835,380h0M825,401h0M835,433h0M820,444h0M814,448h0M836,438h0M820,437h0M774,389h0M824,398h0M802,405h0M789,391h0M848,421h0M827,385h0M826,372h0M846,397h0M804,394h0M826,384h0M809,388h0M798,385h0M797,385h0M823,400h0M820,406h0M800,405h0M804,412h0M806,446h0M801,399h0M824,398h0M847,452h0M841,404h0M773,375h0M830,419h0M773,385h0M625,493h0M635,452h0M695,497h0M699,482h0M642,460h0M689,514h0M684,505h0M676,476h0M691,501h0M633,478h0M721,490h0M640,465h0M716,525h0M698,493h0M714,499h0M709,523h0M662,489h0M648,522h0M726,530h0M730,535h0M698,488h0M692,495h0M704,516h0M639,472h0M655,471h0M764,494h0M686,505h0M645,506h0M778,522h0M811,539h0M792,514h0M775,511h0M825,525h0M800,558h0M795,507h0M784,503h0M806,517h0M791,517h0M811,531h0M838,539h0M830,538h0M787,535h0M813,555h0M791,531h0M784,518h0M798,535h0M773,518h0M801,546h0M671,592h0M696,578h0M664,650h0M764,640h0M689,584h0M695,564h0M711,604h0M677,641h0M737,636h0M728,672h0M689,624h0M659,545h0M723,618h0M738,644h0M749,671h0M653,569h0M732,651h0M667,542h0M719,684h0M660,558h0M677,640h0M723,613h0M679,604h0M687,627h0M677,560h0M681,608h0M696,575h0M755,618h0M717,683h0M727,639h0M752,657h0M662,589h0M742,658h0M740,645h0M703,614h0M662,558h0M680,640h0M763,652h0M659,547h0M687,655h0M670,557h0M694,561h0M733,622h0M768,644h0M661,608h0M701,655h0M715,685h0M646,613h0M693,659h0M643,659h0M635,652h0M611,589h0M612,620h0M631,630h0M618,575h0M591,666h0M600,672h0M592,668h0M635,644h0M639,680h0M636,696h0M592,694h0M588,662h0M638,646h0M642,662h0M592,664h0M624,701h0M602,592h0M600,685h0M647,654h0M647,649h0M615,680h0M598,642h0M636,626h0M585,633h0M620,532h0M628,527h0M615,516h0M625,558h0M632,528h0M634,530h0M640,542h0M624,521h0M624,547h0" stroke="#f2a37b" stroke-width="10.5" stroke-linecap="round" fill="none"/>
<path d="M340,287h0M272,324h0M368,357h0M475,456h0M449,483h0M496,339h0M429,332h0M462,352h0M368,346h0M460,255h0M447,450h0M313,297h0M450,399h0M477,495h0M518,333h0M322,416h0M371,351h0M386,367h0M524,289h0M422,414h0M417,555h0M329,352h0M547,347h0M477,303h0M554,363h0M500,297h0M482,237h0M529,528h0M427,292h0M343,447h0M397,353h0M651,245h0M617,388h0M681,278h0M668,268h0M767,382h0M688,327h0M647,284h0M666,378h0M788,372h0M610,284h0M641,338h0M579,341h0M716,381h0M627,413h0M621,280h0M647,344h0M605,404h0M655,401h0M620,355h0M600,389h0M695,404h0M691,383h0M656,412h0M566,317h0M638,241h0M606,234h0M593,267h0M643,394h0M602,378h0M703,329h0M607,446h0M663,452h0M657,267h0M689,269h0M642,327h0M610,435h0M694,447h0M650,388h0M590,288h0M635,418h0M696,277h0M587,295h0M598,256h0M679,415h0M709,297h0M714,401h0M810,384h0M585,256h0M801,399h0M764,343h0M589,228h0M623,241h0M631,337h0M661,250h0M593,246h0M592,383h0M628,432h0M639,318h0M682,319h0M656,245h0M813,378h0M632,429h0M622,389h0M602,424h0M613,205h0M763,395h0M631,365h0M654,356h0M767,352h0M627,242h0M715,341h0M610,264h0M787,375h0M713,388h0M674,322h0M651,369h0M785,383h0M573,374h0M650,309h0M730,381h0M740,363h0M736,443h0M598,401h0M663,341h0M607,206h0M734,434h0M496,770h0M561,714h0M544,579h0M549,569h0M496,728h0M491,717h0M499,750h0M553,625h0M544,715h0M525,601h0M464,629h0M538,641h0M410,673h0M530,717h0M479,708h0M448,710h0M550,695h0M560,610h0M503,788h0M473,718h0M465,741h0M496,601h0M413,716h0M431,709h0M499,771h0M444,691h0M552,693h0M560,706h0M535,771h0M449,664h0M431,705h0M490,738h0M533,669h0M440,655h0M511,585h0M521,745h0M553,631h0M474,726h0M439,654h0M538,609h0M461,707h0M436,685h0M418,637h0M549,669h0M463,686h0M508,581h0M835,401h0M812,441h0M830,411h0M809,438h0M821,457h0M819,370h0M832,461h0M841,411h0M849,447h0M821,446h0M859,431h0M830,418h0M627,465h0M710,479h0M679,508h0M728,499h0M719,510h0M676,485h0M705,539h0M660,497h0M725,546h0M688,488h0M718,528h0M670,500h0M756,516h0M787,556h0M808,509h0M811,512h0M785,530h0M784,522h0M818,546h0M725,625h0M666,539h0M672,563h0M732,617h0M669,602h0M689,646h0M667,558h0M744,641h0M645,574h0M714,614h0M659,552h0M716,677h0M699,654h0M721,617h0M734,603h0M732,657h0M714,664h0M649,589h0M672,588h0M709,598h0M668,625h0M701,591h0M666,657h0M690,568h0M727,671h0M687,630h0M689,651h0M684,574h0M691,560h0M763,663h0M690,607h0M747,662h0M716,599h0M755,648h0M724,639h0M752,669h0M667,609h0M728,680h0M660,579h0M682,581h0M671,564h0M656,612h0M716,612h0M699,643h0M643,573h0M652,575h0M731,606h0M741,647h0M627,641h0M625,649h0M658,679h0M614,594h0M624,631h0M635,657h0M594,649h0M594,639h0M592,650h0M635,599h0M608,625h0M600,600h0M609,602h0M625,668h0M609,663h0M649,669h0M655,679h0M611,692h0M610,629h0M636,645h0M623,620h0M594,645h0M583,659h0M614,694h0M611,662h0M599,602h0M613,694h0M599,608h0M633,640h0M615,689h0M625,637h0M644,629h0M646,654h0M630,652h0M622,523h0M640,546h0M618,541h0M636,553h0M632,527h0M631,528h0M619,534h0M613,531h0M626,516h0" stroke="#e67a56" stroke-width="10.5" stroke-linecap="round" fill="none"/>
<path d="M556,300h0M509,501h0M371,515h0M680,270h0M712,314h0M829,383h0M624,295h0M685,441h0M653,300h0M637,204h0M764,350h0M709,336h0M580,309h0M632,331h0M530,698h0M469,664h0M451,757h0M496,767h0M443,740h0M545,697h0M491,729h0M488,646h0M484,717h0M559,651h0M547,590h0M805,380h0M829,414h0M623,489h0M698,499h0M629,498h0M653,515h0M629,492h0M799,516h0M692,567h0M710,624h0M653,614h0M706,640h0M673,601h0M753,621h0M665,595h0M674,545h0M700,609h0M693,615h0M711,622h0M679,669h0M694,595h0M688,652h0M690,581h0M707,648h0M707,596h0M645,561h0M758,671h0M712,664h0M661,563h0M695,590h0M675,636h0M683,663h0M675,617h0M675,559h0M688,607h0M649,601h0M662,606h0M677,548h0M717,657h0M741,679h0M702,596h0M690,629h0M648,617h0M642,590h0M702,589h0M715,644h0M717,612h0M701,577h0M623,687h0M603,590h0M636,590h0M633,628h0M597,636h0M624,633h0M635,685h0M652,658h0M587,674h0M604,602h0M590,639h0M602,642h0M652,675h0M579,654h0M595,636h0M606,667h0M583,623h0M655,667h0M626,545h0M622,538h0M619,518h0M618,549h0M616,540h0M637,542h0M639,540h0" stroke="#d1433b" stroke-width="10.5" stroke-linecap="round" fill="none"/>
<path d="M557,618h0M539,762h0M513,598h0M411,702h0M754,502h0M671,613h0M676,593h0M659,562h0M697,610h0M654,559h0M652,614h0M702,578h0M670,659h0M662,652h0M688,622h0M679,644h0M671,573h0M666,585h0M683,582h0M683,607h0M686,624h0M668,624h0M669,609h0M676,566h0M655,550h0M694,622h0M665,586h0M653,582h0M663,557h0M679,553h0M667,554h0M589,659h0M581,629h0M587,663h0M616,611h0M644,675h0M618,691h0M583,650h0M614,624h0M626,560h0" stroke="#b71c2c" stroke-width="10.5" stroke-linecap="round" fill="none"/>
<path d="M532,447h0M528,452h0M510,700h0M640,628h0M670,665h0" stroke="#b71c2c" stroke-width="9.5" stroke-linecap="round" fill="none"/>
<path transform="translate(-18,-2)" d="M625,517 C626,502 628,490 636,481 C644,473 659,467 675,466 C691,464 712,467 733,471 C753,474 777,481 797,488 C817,496 840,506 854,517 C868,528 877,541 883,553 C888,565 890,573 886,588 C883,604 872,629 861,646 C850,662 835,676 818,688 C802,700 777,711 761,717 C746,723 736,725 725,724 C715,723 708,723 697,710 C686,697 672,668 661,646 C650,623 638,596 633,574 C627,553 625,532 625,517Z" fill="none" stroke="#34466b" stroke-width="6"/>
</g>
<rect x="533.5" y="769.1" width="227.0" height="225.3" fill="none" stroke="#8f9bbf" stroke-width="1" />
<rect x="782.7" y="769.1" width="227.1" height="225.3" fill="#fff" stroke="none" stroke-width="0" />
<line x1="813.5" y1="769.1" x2="813.5" y2="994.4" stroke="#e6e6ee" stroke-width="1.2" />
<line x1="977.6" y1="769.1" x2="977.6" y2="994.4" stroke="#e6e6ee" stroke-width="1.2" />
<line x1="782.7" y1="800.0" x2="1009.8" y2="800.0" stroke="#e6e6ee" stroke-width="1.2" />
<line x1="782.7" y1="962.9" x2="1009.8" y2="962.9" stroke="#e6e6ee" stroke-width="1.2" />
<line x1="895.7" y1="769.1" x2="895.7" y2="994.4" stroke="#6e6e6e" stroke-width="1.6" />
<line x1="782.7" y1="881.6" x2="1009.8" y2="881.6" stroke="#6e6e6e" stroke-width="1.6" />
<g transform="translate(745.9,750.5) scale(0.27480)">
<path d="M768,360 C772,357 781,374 790,374 C798,375 809,362 818,363 C828,365 839,374 847,381 C855,389 862,399 865,410 C868,421 868,436 865,446 C862,455 855,463 847,467 C839,471 825,469 818,467 C811,465 805,460 804,453 C803,446 813,432 811,424 C809,416 797,409 790,403 C783,397 772,396 768,388 C765,381 765,362 768,360Z" fill="#d6d6d6"/>
<path d="M798,403h0M855,453h0M854,408h0M850,468h0M799,369h0M862,446h0M801,372h0M791,401h0M825,469h0M774,370h0M806,445h0M862,445h0M776,374h0M827,462h0M782,403h0M811,438h0M773,390h0M813,413h0M804,363h0M809,458h0M864,399h0M823,368h0M838,465h0M859,463h0M867,446h0" stroke="#d6d6d6" stroke-width="9" stroke-linecap="round" fill="none"/>
<path d="M618,467 C621,456 633,446 640,446 C647,446 653,461 661,467 C669,473 680,480 690,481 C699,482 709,474 718,474 C728,474 738,479 747,481 C755,484 767,482 768,488 C769,494 760,507 754,517 C748,527 740,540 733,546 C725,552 717,555 711,553 C705,550 703,537 697,531 C691,525 684,518 675,517 C667,516 655,525 647,524 C638,523 630,519 625,510 C621,500 616,478 618,467Z" fill="#d6d6d6"/>
<path d="M693,477h0M749,497h0M655,460h0M744,537h0M638,515h0M728,548h0M765,483h0M631,451h0M692,534h0M738,549h0M620,489h0M670,472h0M740,485h0M733,541h0M697,526h0M693,529h0M621,454h0M620,510h0M746,478h0M636,515h0M737,480h0M695,542h0M677,473h0M625,471h0M660,459h0" stroke="#d6d6d6" stroke-width="9" stroke-linecap="round" fill="none"/>
<path d="M754,517 C755,512 773,500 783,499 C792,498 802,503 811,510 C821,516 836,530 840,538 C843,547 838,555 833,560 C827,565 812,568 804,567 C796,566 787,562 783,556 C778,550 780,538 775,531 C771,525 753,522 754,517Z" fill="#d6d6d6"/>
<path d="M826,527h0M840,549h0M838,541h0M825,527h0M805,512h0M809,511h0M757,513h0M792,510h0M771,546h0M789,564h0M837,551h0M822,524h0M811,562h0M759,513h0M775,549h0M792,555h0M815,568h0M793,502h0M775,505h0M850,549h0M812,516h0M778,526h0M810,568h0M770,537h0M762,521h0" stroke="#d6d6d6" stroke-width="9" stroke-linecap="round" fill="none"/>
<path d="M647,546 C653,534 666,530 675,535 C685,540 694,563 704,574 C713,585 723,597 733,603 C742,609 755,604 761,610 C768,616 772,628 772,638 C772,649 768,666 761,674 C755,682 742,687 733,688 C723,690 713,687 704,685 C694,682 684,681 675,674 C667,668 660,657 654,646 C648,634 641,619 640,603 C638,586 641,557 647,546Z" fill="#d6d6d6"/>
<path d="M639,576h0M766,612h0M726,591h0M664,656h0M651,617h0M722,595h0M644,567h0M741,684h0M648,557h0M646,599h0M698,669h0M687,676h0M664,537h0M721,587h0M701,583h0M719,580h0M727,593h0M718,579h0M640,557h0M743,598h0M765,668h0M748,611h0M739,697h0M642,551h0M700,585h0" stroke="#d6d6d6" stroke-width="9" stroke-linecap="round" fill="none"/>
<path d="M590,603 C596,593 610,577 618,574 C627,572 635,579 640,588 C644,598 643,617 647,631 C650,646 661,663 661,674 C661,685 654,694 647,699 C640,704 628,703 618,703 C609,702 597,701 590,696 C583,690 577,678 575,667 C574,656 577,642 579,631 C581,621 583,612 590,603Z" fill="#d6d6d6"/>
<path d="M658,642h0M596,697h0M643,608h0M585,623h0M582,628h0M632,640h0M583,653h0M582,657h0M629,591h0M649,645h0M591,682h0M634,696h0M584,623h0M586,694h0M649,637h0M576,659h0M642,593h0M611,571h0M574,620h0M589,697h0M595,696h0M649,644h0M657,675h0M611,583h0M596,593h0" stroke="#d6d6d6" stroke-width="9" stroke-linecap="round" fill="none"/>
<path d="M611,503 C615,498 627,510 633,517 C638,524 644,537 643,546 C643,554 634,567 629,567 C624,567 614,556 611,546 C608,535 608,507 611,503Z" fill="#d6d6d6"/>
<path d="M624,568h0M614,556h0M609,546h0M622,512h0M631,520h0M613,525h0M630,569h0M636,526h0M650,543h0M629,565h0M620,515h0M631,518h0M629,516h0M614,510h0M617,513h0M616,550h0M628,554h0M622,524h0M640,515h0M613,517h0M643,536h0M611,523h0M632,556h0M632,566h0M621,512h0" stroke="#d6d6d6" stroke-width="9" stroke-linecap="round" fill="none"/>
<path d="M554,281 C558,269 571,275 575,267 C580,259 578,241 583,231 C587,221 596,212 604,206 C612,201 623,199 633,199 C642,200 653,203 661,210 C669,216 677,228 683,238 C688,249 691,264 697,274 C703,284 709,292 718,299 C728,306 743,309 754,317 C765,325 773,337 783,346 C792,354 803,361 811,367 C820,373 833,378 834,383 C835,388 822,392 815,397 C807,402 796,411 790,411 C783,411 780,398 775,397 C771,396 765,398 761,404 C758,410 756,422 754,431 C752,441 753,454 747,460 C741,466 728,469 718,467 C709,465 699,448 690,446 C680,443 669,454 661,453 C653,452 647,437 640,438 C633,440 625,457 618,460 C611,462 603,460 597,453 C591,446 587,429 583,417 C578,405 573,394 568,381 C563,368 556,355 554,338 C552,322 550,293 554,281Z" fill="#d6d6d6"/>
<path d="M743,301h0M627,202h0M666,447h0M549,286h0M594,443h0M613,196h0M625,203h0M799,359h0M708,288h0M791,412h0M669,460h0M666,232h0M753,321h0M727,308h0M710,447h0M675,224h0M751,420h0M663,449h0M599,435h0M825,385h0M756,312h0M609,453h0M579,397h0M757,436h0M649,205h0M779,398h0M588,431h0M590,214h0M815,398h0M714,461h0M620,462h0M667,222h0M822,380h0M601,208h0M561,317h0M632,449h0M650,446h0M562,380h0M750,441h0M727,304h0M579,254h0M600,441h0M750,321h0M634,450h0M574,248h0M640,209h0M676,454h0M585,420h0M604,209h0M612,213h0M576,265h0M672,448h0M739,319h0M575,262h0M666,207h0M770,397h0M763,412h0M620,200h0M751,452h0M801,411h0M702,455h0M773,407h0M741,446h0M726,301h0M763,419h0M687,254h0M577,238h0M674,451h0M720,306h0M799,348h0M582,398h0M682,446h0M759,333h0M563,371h0M582,255h0M835,383h0M723,474h0M801,397h0M770,394h0M597,455h0M709,467h0M620,456h0M739,453h0M834,386h0M787,397h0M559,354h0M597,444h0M551,311h0M624,463h0M614,211h0" stroke="#d6d6d6" stroke-width="9" stroke-linecap="round" fill="none"/>
<path d="M268,317 C274,307 279,305 290,299 C300,293 317,285 333,281 C348,277 366,277 383,274 C399,271 419,269 433,263 C446,258 450,247 461,242 C472,237 486,231 497,231 C508,231 518,236 525,242 C533,248 535,259 540,267 C544,275 550,278 554,288 C558,299 561,316 561,331 C561,347 559,365 554,381 C549,398 535,417 533,431 C530,446 535,456 540,467 C544,478 556,487 561,496 C566,504 569,510 568,517 C567,524 560,534 554,538 C548,543 541,547 533,546 C524,544 514,531 504,531 C494,531 487,540 475,546 C464,552 446,562 433,567 C419,572 409,575 397,574 C385,574 373,569 361,563 C349,557 336,549 325,538 C315,528 305,516 297,503 C289,490 281,474 275,460 C269,446 264,434 261,417 C258,400 256,377 258,360 C259,343 263,327 268,317Z" fill="#d6d6d6"/>
<path d="M380,271h0M321,528h0M323,285h0M354,559h0M516,533h0M564,299h0M281,470h0M532,435h0M499,231h0M543,460h0M529,250h0M561,527h0M458,550h0M409,571h0M259,354h0M524,248h0M533,246h0M290,507h0M277,304h0M522,535h0M285,296h0M398,571h0M534,457h0M448,252h0M381,275h0M549,391h0M544,548h0M507,531h0M358,565h0M539,259h0M346,561h0M380,284h0M528,542h0M487,239h0M518,537h0M570,512h0M461,240h0M255,423h0M530,547h0M528,419h0M254,364h0M494,545h0M575,510h0M558,353h0M335,281h0M268,348h0M539,455h0M543,274h0M509,233h0M257,389h0M542,538h0M544,483h0M541,416h0M408,272h0M465,238h0M501,534h0M395,580h0M562,324h0M347,281h0M535,532h0M292,506h0M551,373h0M261,317h0M299,283h0M554,303h0M371,575h0M277,476h0M496,232h0M540,460h0M301,509h0M529,537h0M530,428h0M532,246h0M554,278h0M320,529h0M272,433h0M567,347h0M533,425h0M259,414h0M565,511h0M399,571h0M524,233h0M562,512h0M556,506h0M530,429h0M326,513h0M550,377h0M536,267h0M332,284h0M292,487h0M392,265h0M335,549h0M550,486h0M270,311h0M412,565h0M539,275h0M372,569h0M380,281h0M493,231h0M557,527h0M389,268h0M394,272h0M553,334h0M377,564h0M293,286h0M403,564h0M556,497h0M516,237h0M553,489h0M547,390h0" stroke="#d6d6d6" stroke-width="9" stroke-linecap="round" fill="none"/>
<path d="M397,660 C397,646 402,634 408,624 C414,615 422,608 433,603 C443,597 456,596 468,592 C480,588 493,584 504,581 C515,578 525,577 533,574 C540,572 546,565 550,567 C555,569 559,578 561,588 C563,599 560,617 561,631 C562,646 568,660 568,674 C569,688 567,703 565,717 C562,731 559,747 554,760 C549,772 541,787 533,792 C524,797 516,791 504,788 C492,785 474,781 461,774 C448,767 435,756 425,746 C416,735 409,724 404,710 C399,696 396,674 397,660Z" fill="#d6d6d6"/>
<path d="M486,591h0M457,597h0M514,790h0M560,628h0M490,786h0M565,670h0M474,782h0M568,663h0M406,705h0M435,600h0M571,690h0M395,673h0M444,761h0M508,793h0M546,569h0M437,593h0M408,722h0M565,742h0M524,580h0M559,764h0M542,771h0M560,742h0M555,584h0M468,594h0M525,797h0M447,602h0M570,595h0M519,575h0M501,786h0M413,720h0M525,784h0M449,602h0M493,579h0M476,588h0M520,563h0M398,717h0M519,580h0M482,776h0M534,788h0M553,576h0M491,782h0M401,631h0M531,790h0M477,594h0M472,778h0M460,776h0M496,778h0M567,731h0M459,780h0M414,732h0M410,704h0M556,761h0M563,715h0M567,636h0M553,754h0M444,597h0M566,714h0M557,566h0M415,629h0M559,616h0M554,589h0M426,739h0M465,598h0M539,769h0M476,590h0M556,757h0M558,597h0M455,595h0M403,705h0M516,787h0" stroke="#d6d6d6" stroke-width="9" stroke-linecap="round" fill="none"/>
<path d="M331,341h0M460,343h0M489,493h0M355,491h0M384,377h0M393,566h0M383,374h0M346,452h0M264,347h0M301,298h0M503,518h0M420,526h0M527,419h0M357,494h0M541,519h0M488,278h0M303,476h0M340,497h0M382,527h0M505,368h0M447,253h0M477,393h0M435,388h0M405,371h0M396,409h0M405,336h0M442,548h0M521,379h0M405,465h0M482,366h0M387,541h0M273,324h0M423,308h0M496,365h0M508,523h0M332,468h0M540,275h0M518,463h0M446,334h0M450,347h0M552,529h0M498,469h0M312,507h0M286,435h0M383,533h0M471,525h0M504,372h0M438,291h0M483,272h0M332,371h0M476,385h0M533,266h0M367,396h0M501,485h0M528,310h0M474,254h0M329,360h0M428,505h0M543,333h0M348,345h0M393,467h0M514,299h0M471,456h0M536,269h0M481,320h0M299,364h0M383,456h0M525,409h0M526,248h0M502,318h0M292,322h0M387,400h0M330,467h0M312,290h0M289,328h0M499,450h0M382,295h0M348,431h0M462,261h0M269,345h0M454,343h0M528,382h0M464,404h0M547,362h0M434,508h0M400,515h0M474,319h0M273,415h0M430,380h0M395,534h0M476,477h0M462,360h0M348,381h0M351,508h0M350,502h0M548,320h0M460,415h0M397,549h0M531,324h0M438,400h0M362,543h0M439,544h0M525,336h0M361,362h0M522,376h0M532,404h0M453,292h0M521,386h0M365,293h0M337,463h0M381,478h0M541,276h0M413,528h0M608,452h0M697,398h0M587,310h0M594,434h0M821,382h0M598,261h0M656,329h0M764,356h0M581,369h0M597,432h0M656,299h0M787,382h0M791,409h0M659,280h0M677,422h0M599,353h0M684,440h0M775,378h0M588,270h0M697,279h0M591,276h0M749,388h0M658,418h0M710,328h0M698,328h0M677,262h0M697,411h0M597,321h0M646,238h0M613,399h0M673,378h0M618,409h0M594,352h0M749,325h0M606,439h0M773,376h0M664,398h0M590,422h0M616,389h0M656,408h0M752,401h0M732,366h0M684,316h0M606,410h0M797,371h0M647,385h0M596,336h0M676,302h0M584,354h0M649,331h0M661,383h0M658,279h0M775,354h0M715,372h0M731,344h0M606,306h0M641,302h0M637,250h0M818,378h0M818,381h0M578,318h0M776,351h0M733,420h0M716,308h0M709,336h0M643,432h0M595,371h0M700,412h0M766,394h0M558,337h0M745,333h0M704,392h0M635,331h0M732,382h0M722,391h0M558,316h0M733,425h0M586,406h0M632,309h0M755,339h0M636,361h0M602,441h0M715,335h0M735,316h0M741,391h0M630,446h0M587,242h0M727,334h0M650,438h0M584,328h0M731,416h0M689,389h0M704,419h0M615,401h0M583,233h0M753,341h0M571,292h0M608,341h0M670,321h0M662,396h0M640,367h0M628,230h0M695,332h0M669,408h0M634,301h0M745,439h0M611,357h0M569,313h0M568,380h0M669,343h0M709,408h0M564,301h0M756,329h0M453,612h0M516,735h0M485,704h0M496,678h0M463,677h0M403,681h0M436,687h0M556,727h0M557,744h0M544,664h0M532,655h0M438,614h0M561,644h0M545,697h0M558,712h0M507,773h0M528,712h0M461,714h0M438,711h0M532,748h0M547,605h0M546,613h0M549,613h0M508,779h0M463,741h0M434,726h0M559,694h0M496,736h0M478,729h0M524,596h0M562,719h0M417,675h0M528,634h0M549,649h0M551,709h0M538,619h0M516,682h0M494,703h0M548,760h0M444,752h0M550,669h0M552,729h0M514,668h0M449,622h0M446,733h0M459,735h0M432,614h0M547,584h0M475,717h0M526,699h0M453,632h0M481,625h0M421,701h0M558,675h0M516,682h0M554,673h0M490,693h0M430,644h0M525,654h0M527,679h0M465,733h0M548,764h0M551,706h0M530,581h0M563,719h0M551,576h0M563,652h0M447,673h0M422,674h0M533,630h0M502,741h0M444,653h0M494,682h0M549,613h0M554,619h0M487,725h0M450,723h0M485,702h0M830,449h0M829,450h0M823,425h0M825,428h0M809,451h0M826,368h0M829,456h0M835,417h0M820,407h0M769,361h0M793,379h0M783,376h0M798,401h0M825,385h0M801,395h0M782,381h0M667,503h0M712,479h0M684,486h0M636,467h0M715,484h0M625,491h0M659,671h0M641,646h0M618,611h0M615,583h0M618,691h0M626,667h0M625,591h0M603,669h0M628,540h0M628,548h0M623,530h0M624,549h0M618,539h0M612,528h0M632,545h0M621,547h0" stroke="#fbdac6" stroke-width="10.5" stroke-linecap="round" fill="none"/>
<path d="M489,501h0M510,241h0M442,539h0M512,476h0M322,306h0M505,279h0M531,480h0M545,325h0M445,336h0M486,336h0M394,472h0M447,473h0M436,467h0M328,347h0M522,354h0M423,525h0M410,381h0M524,387h0M387,287h0M329,472h0M384,393h0M455,380h0M455,375h0M494,270h0M476,316h0M319,382h0M500,381h0M262,416h0M506,457h0M413,328h0M424,310h0M473,541h0M291,426h0M533,515h0M352,549h0M487,240h0M439,447h0M527,374h0M446,421h0M376,361h0M534,423h0M286,465h0M495,237h0M313,429h0M451,299h0M524,348h0M335,340h0M476,287h0M353,416h0M354,499h0M367,500h0M324,468h0M266,327h0M425,303h0M463,440h0M375,309h0M327,359h0M546,511h0M539,270h0M345,413h0M372,322h0M346,351h0M484,312h0M430,501h0M365,484h0M353,440h0M535,361h0M277,319h0M449,294h0M549,520h0M343,298h0M346,508h0M416,299h0M355,533h0M483,441h0M410,342h0M380,514h0M349,506h0M351,493h0M480,439h0M448,447h0M471,271h0M505,490h0M482,254h0M355,484h0M409,301h0M489,348h0M683,382h0M575,394h0M699,401h0M665,306h0M564,341h0M579,340h0M678,361h0M773,389h0M628,321h0M569,334h0M707,395h0M666,412h0M702,307h0M730,323h0M673,323h0M604,385h0M654,326h0M659,403h0M677,410h0M676,320h0M793,392h0M673,398h0M632,417h0M588,319h0M733,320h0M663,292h0M716,302h0M574,272h0M617,302h0M627,399h0M661,432h0M591,410h0M667,387h0M675,373h0M784,394h0M624,385h0M591,291h0M681,421h0M618,410h0M636,340h0M652,374h0M577,360h0M731,420h0M679,412h0M663,322h0M655,350h0M687,325h0M675,293h0M624,243h0M691,337h0M717,385h0M719,454h0M744,443h0M720,322h0M617,443h0M680,264h0M645,403h0M655,362h0M710,435h0M632,407h0M778,365h0M727,384h0M679,437h0M681,330h0M564,308h0M604,327h0M714,447h0M616,412h0M629,413h0M598,408h0M747,397h0M658,368h0M724,454h0M806,401h0M728,367h0M606,301h0M782,347h0M668,426h0M754,385h0M710,304h0M727,356h0M719,413h0M782,403h0M746,395h0M665,307h0M715,352h0M748,338h0M711,450h0M732,461h0M628,433h0M594,230h0M569,332h0M663,419h0M667,364h0M692,289h0M805,370h0M654,320h0M664,394h0M737,442h0M628,363h0M592,435h0M691,415h0M623,354h0M707,342h0M723,411h0M656,401h0M627,213h0M586,356h0M680,377h0M708,436h0M586,254h0M576,292h0M633,411h0M673,315h0M667,419h0M552,625h0M481,772h0M529,670h0M526,705h0M529,579h0M526,700h0M543,572h0M412,712h0M486,698h0M453,687h0M549,697h0M527,711h0M462,669h0M539,694h0M466,723h0M529,636h0M525,639h0M421,717h0M552,585h0M453,734h0M549,732h0M485,630h0M404,694h0M471,693h0M446,759h0M491,675h0M458,693h0M490,618h0M447,721h0M491,765h0M551,740h0M420,690h0M503,706h0M487,693h0M403,660h0M486,691h0M494,733h0M531,590h0M553,717h0M451,677h0M550,728h0M501,674h0M508,710h0M550,657h0M532,594h0M560,590h0M541,609h0M510,652h0M482,669h0M476,754h0M494,709h0M527,585h0M557,713h0M443,677h0M455,684h0M457,630h0M507,778h0M519,717h0M494,675h0M552,634h0M476,694h0M546,664h0M551,651h0M468,768h0M549,767h0M515,748h0M490,609h0M441,680h0M526,603h0M489,702h0M533,644h0M565,680h0M493,713h0M565,698h0M429,688h0M545,696h0M525,750h0M480,750h0M458,744h0M540,752h0M493,721h0M462,669h0M411,677h0M503,730h0M496,763h0M545,628h0M545,736h0M540,611h0M510,673h0M528,784h0M526,703h0M505,707h0M473,689h0M561,646h0M561,707h0M533,675h0M507,605h0M540,632h0M501,672h0M540,619h0M457,685h0M549,687h0M407,685h0M538,593h0M541,591h0M516,677h0M461,703h0M501,764h0M532,647h0M549,725h0M480,738h0M434,709h0M531,692h0M399,655h0M524,596h0M507,738h0M420,681h0M432,610h0M523,591h0M500,763h0M409,715h0M520,765h0M535,662h0M552,692h0M548,710h0M543,723h0M471,688h0M522,772h0M551,701h0M494,759h0M519,592h0M445,736h0M525,689h0M478,764h0M507,630h0M439,693h0M547,634h0M541,697h0M550,574h0M552,586h0M480,728h0M438,615h0M442,730h0M528,626h0M477,754h0M426,680h0M547,694h0M503,597h0M464,773h0M819,425h0M837,463h0M833,422h0M800,409h0M832,417h0M831,455h0M853,393h0M822,387h0M813,428h0M829,460h0M792,392h0M823,369h0M856,455h0M836,417h0M842,432h0M844,454h0M822,445h0M769,370h0M815,422h0M822,443h0M827,403h0M802,376h0M782,384h0M812,448h0M792,392h0M779,368h0M829,443h0M810,456h0M634,476h0M705,483h0M700,504h0M721,495h0M697,488h0M731,500h0M637,490h0M700,479h0M739,502h0M700,535h0M727,479h0M712,495h0M692,489h0M643,516h0M755,492h0M757,501h0M629,489h0M688,496h0M642,462h0M629,488h0M700,506h0M745,514h0M774,525h0M719,614h0M730,611h0M687,571h0M689,575h0M663,582h0M677,600h0M668,563h0M685,608h0M589,627h0M587,640h0M625,700h0M620,658h0M642,691h0M614,687h0M603,683h0M606,687h0M618,606h0M626,658h0M612,591h0M614,659h0M608,642h0M650,664h0M623,654h0M612,607h0M614,619h0M602,686h0M616,599h0M587,652h0M641,597h0M621,619h0M606,686h0M585,624h0M611,640h0M639,617h0M608,632h0M649,648h0M653,667h0M638,654h0M636,666h0M636,657h0M606,621h0M595,656h0M637,540h0M638,541h0M635,543h0M623,533h0M621,554h0M636,527h0" stroke="#f7c0a1" stroke-width="10.5" stroke-linecap="round" fill="none"/>
<path d="M355,503h0M430,270h0M481,518h0M541,297h0M333,345h0M455,467h0M429,537h0M437,545h0M321,487h0M549,363h0M338,439h0M261,405h0M491,537h0M452,310h0M341,481h0M419,301h0M448,457h0M469,464h0M293,483h0M542,484h0M339,371h0M466,318h0M488,275h0M763,358h0M810,396h0M733,357h0M744,456h0M666,377h0M607,324h0M698,331h0M646,322h0M732,387h0M766,334h0M604,351h0M750,319h0M676,423h0M643,420h0M680,393h0M738,376h0M597,246h0M566,348h0M596,313h0M638,365h0M744,449h0M630,297h0M614,399h0M619,307h0M644,219h0M640,296h0M692,428h0M635,289h0M731,400h0M542,720h0M558,714h0M530,698h0M542,636h0M530,727h0M509,673h0M508,690h0M547,647h0M492,781h0M551,721h0M421,686h0M492,721h0M523,667h0M547,599h0M536,782h0M459,744h0M474,603h0M522,640h0M451,744h0M530,734h0M418,676h0M449,725h0M519,768h0M487,707h0M540,689h0M500,598h0M513,709h0M540,611h0M537,708h0M549,739h0M535,584h0M550,637h0M509,729h0M449,713h0M483,722h0M480,752h0M500,585h0M565,692h0M408,706h0M534,614h0M544,619h0M431,723h0M499,684h0M516,773h0M530,609h0M527,583h0M444,734h0M481,722h0M555,694h0M431,716h0M535,673h0M489,627h0M491,714h0M457,694h0M490,699h0M558,629h0M455,766h0M503,769h0M413,685h0M427,723h0M563,672h0M502,731h0M501,757h0M411,707h0M558,600h0M532,736h0M490,743h0M420,726h0M530,716h0M531,699h0M459,697h0M450,687h0M509,743h0M433,751h0M433,724h0M427,692h0M478,648h0M555,623h0M562,729h0M533,760h0M434,678h0M425,682h0M456,690h0M568,676h0M435,714h0M528,578h0M513,735h0M481,683h0M398,663h0M526,643h0M512,783h0M483,605h0M409,719h0M553,614h0M511,781h0M430,700h0M546,720h0M552,624h0M558,621h0M500,641h0M549,599h0M528,644h0M503,776h0M529,785h0M492,737h0M824,407h0M824,384h0M843,430h0M846,406h0M795,380h0M832,389h0M850,406h0M817,451h0M840,431h0M846,400h0M816,432h0M847,412h0M808,398h0M833,391h0M829,393h0M849,446h0M833,435h0M787,377h0M826,441h0M848,389h0M708,548h0M656,508h0M732,522h0M627,466h0M631,469h0M735,533h0M645,472h0M627,493h0M678,480h0M726,532h0M665,482h0M665,512h0M631,492h0M742,494h0M628,457h0M717,481h0M693,505h0M750,507h0M708,544h0M811,512h0M798,540h0M801,525h0M791,556h0M788,531h0M787,522h0M807,513h0M766,512h0M824,538h0M781,547h0M832,560h0M785,547h0M694,663h0M708,662h0M735,617h0M725,610h0M751,667h0M718,655h0M736,682h0M695,596h0M645,597h0M750,633h0M694,672h0M717,644h0M731,625h0M697,662h0M764,627h0M721,638h0M646,558h0M710,675h0M765,628h0M720,669h0M676,630h0M743,612h0M655,646h0M743,647h0M736,648h0M707,632h0M738,672h0M762,668h0M647,674h0M616,677h0M619,657h0M624,682h0M624,614h0M632,628h0M638,683h0M607,604h0M611,610h0M580,666h0M619,594h0M614,607h0M591,640h0M595,609h0M610,679h0M645,687h0M618,617h0M605,681h0M581,633h0M611,599h0M612,616h0M620,627h0M600,593h0M647,658h0M611,609h0M602,594h0M634,603h0M636,593h0M632,517h0M629,543h0M626,520h0M623,517h0M638,553h0" stroke="#f2a37b" stroke-width="10.5" stroke-linecap="round" fill="none"/>
<path d="M437,497h0M271,390h0M432,543h0M455,509h0M387,289h0M547,505h0M429,369h0M696,323h0M713,332h0M635,359h0M651,370h0M719,415h0M712,415h0M658,335h0M452,748h0M455,622h0M405,660h0M556,686h0M560,709h0M496,668h0M475,717h0M491,759h0M530,666h0M472,746h0M489,693h0M449,740h0M430,679h0M542,745h0M817,392h0M842,405h0M840,448h0M815,400h0M848,437h0M856,438h0M846,451h0M827,465h0M822,450h0M708,528h0M720,513h0M744,481h0M756,508h0M703,532h0M719,529h0M695,511h0M720,539h0M743,522h0M694,485h0M666,516h0M718,540h0M653,516h0M722,511h0M732,524h0M761,498h0M709,531h0M739,522h0M748,518h0M709,508h0M734,537h0M829,548h0M794,530h0M782,552h0M812,525h0M769,510h0M780,530h0M797,561h0M817,546h0M804,520h0M781,530h0M780,514h0M805,519h0M798,537h0M764,515h0M786,527h0M823,542h0M784,502h0M818,560h0M780,531h0M695,566h0M667,620h0M689,563h0M758,672h0M699,578h0M721,594h0M690,591h0M712,677h0M683,613h0M685,650h0M764,623h0M741,613h0M661,610h0M720,651h0M708,615h0M645,599h0M690,611h0M736,684h0M751,678h0M667,652h0M755,669h0M713,642h0M646,606h0M711,588h0M667,605h0M726,666h0M691,633h0M669,643h0M713,672h0M684,578h0M716,625h0M662,618h0M684,662h0M701,598h0M657,570h0M665,650h0M759,642h0M678,619h0M753,674h0M676,595h0M757,634h0M686,551h0M734,640h0M664,649h0M701,600h0M669,600h0M680,550h0M661,640h0M696,658h0M671,623h0M726,633h0M741,649h0M754,628h0M684,563h0M648,587h0M685,621h0M586,645h0M649,674h0M643,632h0M599,688h0M626,646h0M627,687h0M616,662h0M633,556h0M617,533h0M623,545h0M636,553h0M625,551h0M624,543h0" stroke="#e67a56" stroke-width="10.5" stroke-linecap="round" fill="none"/>
<path d="M842,441h0M829,416h0M831,447h0M824,433h0M807,410h0M843,439h0M843,399h0M653,508h0M735,534h0M652,509h0M673,508h0M699,513h0M688,520h0M709,536h0M647,517h0M721,540h0M745,507h0M663,513h0M719,521h0M738,508h0M708,491h0M711,520h0M715,510h0M662,498h0M743,515h0M712,477h0M705,543h0M725,520h0M724,525h0M711,544h0M817,553h0M799,563h0M789,510h0M824,560h0M838,542h0M820,542h0M822,524h0M801,544h0M790,544h0M775,526h0M801,530h0M794,506h0M831,558h0M831,554h0M790,532h0M807,552h0M779,540h0M746,681h0M687,561h0M691,672h0M677,565h0M667,621h0M734,611h0M736,607h0M716,599h0M748,666h0M715,669h0M698,619h0M658,550h0M671,615h0M677,663h0M690,612h0M676,564h0M678,661h0M658,557h0M710,602h0M743,680h0M704,616h0M718,680h0M698,599h0M733,604h0M755,647h0M726,606h0M681,613h0M743,657h0M665,566h0M691,620h0M661,578h0M651,593h0M690,625h0M737,658h0M720,634h0M724,600h0M733,682h0M734,684h0M743,654h0M734,657h0M750,660h0M704,619h0M662,562h0M673,622h0M664,595h0M683,636h0M707,641h0M673,630h0M762,639h0M719,664h0M669,604h0M706,656h0M697,662h0M712,681h0M702,633h0M717,619h0M728,634h0M675,557h0M671,624h0M753,663h0M710,641h0M752,678h0M692,569h0M731,684h0M705,672h0M670,577h0M758,613h0M677,668h0M699,576h0M737,658h0M696,681h0M629,647h0M609,592h0M595,656h0" stroke="#d1433b" stroke-width="10.5" stroke-linecap="round" fill="none"/>
<path d="M684,515h0M691,516h0M660,514h0M749,521h0M709,525h0M677,509h0M729,530h0M651,520h0M734,539h0M697,521h0M699,527h0M660,518h0M740,507h0M747,508h0M699,530h0M712,547h0M720,532h0M713,515h0M705,538h0M823,525h0M809,561h0M820,537h0M823,526h0M787,557h0M815,547h0M789,513h0M793,541h0M787,526h0M759,519h0M808,531h0M750,616h0M717,589h0M658,629h0M723,631h0M713,584h0M712,649h0M742,664h0M730,655h0M684,581h0M707,627h0M750,632h0M748,634h0M672,554h0M742,660h0M709,592h0M765,660h0M683,548h0M712,637h0M670,658h0M669,602h0M678,673h0M678,649h0M653,617h0M702,591h0M729,654h0M653,622h0M662,552h0M654,603h0M763,658h0M685,563h0M723,664h0M740,653h0M707,621h0M652,578h0M675,546h0M648,553h0M749,639h0" stroke="#b71c2c" stroke-width="10.5" stroke-linecap="round" fill="none"/>
<path transform="translate(-7,7)" d="M625,517 C626,502 628,490 636,481 C644,473 659,467 675,466 C691,464 712,467 733,471 C753,474 777,481 797,488 C817,496 840,506 854,517 C868,528 877,541 883,553 C888,565 890,573 886,588 C883,604 872,629 861,646 C850,662 835,676 818,688 C802,700 777,711 761,717 C746,723 736,725 725,724 C715,723 708,723 697,710 C686,697 672,668 661,646 C650,623 638,596 633,574 C627,553 625,532 625,517Z" fill="none" stroke="#34466b" stroke-width="6"/>
</g>
<rect x="782.7" y="769.1" width="227.1" height="225.3" fill="none" stroke="#8f9bbf" stroke-width="1" />
<text transform="translate(521.3,880.5) rotate(-90)" text-anchor="middle" font-size="12.4" fill="#1d1d1b" stroke="#1d1d1b" stroke-width="0.3" textLength="41.2" lengthAdjust="spacingAndGlyphs"><tspan font-style="italic">t</tspan>-SNE 2</text>
<rect x="683.4" y="1034.4" width="178.3" height="56.3" fill="#fff" stroke="#8a97c0" stroke-width="1" />
<defs><linearGradient id="gEx" x1="0" y1="0" x2="1" y2="0"><stop offset="0" stop-color="#d9d9d9"/><stop offset="0.2" stop-color="#f6c3a4"/><stop offset="0.4" stop-color="#f0a070"/><stop offset="0.62" stop-color="#e0694d"/><stop offset="0.82" stop-color="#c93339"/><stop offset="1" stop-color="#b2182b"/></linearGradient></defs>
<rect x="701.5" y="1058.1" width="141.2" height="11.4" fill="url(#gEx)" stroke="#333" stroke-width="0.8" />
<text x="9.5" y="17.1" font-size="19.2" font-weight="bold" fill="#000" textLength="10.7" lengthAdjust="spacingAndGlyphs" stroke="#000" stroke-width="0.9">a</text>
<text x="12.3" y="761.7" font-size="19.2" font-weight="bold" fill="#000" textLength="11.7" lengthAdjust="spacingAndGlyphs" stroke="#000" stroke-width="0.9">b</text>
<text x="510.6" y="761.9" font-size="19.2" font-weight="bold" fill="#000" textLength="10.7" lengthAdjust="spacingAndGlyphs" stroke="#000" stroke-width="0.9">c</text>
<line x1="210.2" y1="209.9" x2="235.8" y2="209.9" stroke="#777" stroke-width="1" />
<line x1="201.0" y1="243.4" x2="235.8" y2="243.4" stroke="#333" stroke-width="1" />
<text x="240.5" y="214.8" font-size="12.4" textLength="81.2" lengthAdjust="spacingAndGlyphs" stroke="#1d1d1b" stroke-width="0.3">Stromal tissue</text>
<text x="240.5" y="248.4" font-size="12.4" textLength="70.7" lengthAdjust="spacingAndGlyphs" stroke="#1d1d1b" stroke-width="0.3">Gland tissue</text>
<line x1="221.5" y1="295.3" x2="497.0" y2="295.3" stroke="#5a5a5a" stroke-width="1.1" stroke-dasharray="3.95 3.8" />
<line x1="64.0" y1="344.5" x2="64.0" y2="483.0" stroke="#3a3a3a" stroke-width="1.25" stroke-dasharray="3.95 3.8" />
<line x1="527.5" y1="349.1" x2="796.5" y2="349.1" stroke="#5a5a5a" stroke-width="1.1" stroke-dasharray="4.2 3.65" />
<line x1="508.8" y1="101.1" x2="615.0" y2="101.1" stroke="#1a1a1a" stroke-width="1.3" stroke-dasharray="5.3 2.8" />
<line x1="616.0" y1="562.7" x2="857.0" y2="562.7" stroke="#2a2a2a" stroke-width="1.5" stroke-dasharray="3.7 2" />
<line x1="233.9" y1="949.5" x2="233.9" y2="1034.5" stroke="#666" stroke-width="1" stroke-dasharray="3.5 3" />
<text x="683.7" y="57.0" font-size="12.4" textLength="32.7" lengthAdjust="spacingAndGlyphs" stroke="#1d1d1b" stroke-width="0.3">GnRH</text>
<line x1="724.3" y1="65.4" x2="749.3" y2="65.4" stroke="#333" stroke-width="1" />
<text x="753.0" y="70.3" font-size="12.4" textLength="82.9" lengthAdjust="spacingAndGlyphs" stroke="#1d1d1b" stroke-width="0.3">Hypothalamus</text>
<line x1="664.6" y1="147.6" x2="664.6" y2="173.0" stroke="#333" stroke-width="1" />
<text x="660.5" y="186.0" font-size="12.4" textLength="81.6" lengthAdjust="spacingAndGlyphs" stroke="#1d1d1b" stroke-width="0.3">Pituitary gland</text>
<text x="486.2" y="252.7" font-size="12.4" textLength="43.6" lengthAdjust="spacingAndGlyphs" stroke="#1d1d1b" stroke-width="0.3">Bladder</text>
<line x1="518.0" y1="295.5" x2="533.0" y2="295.5" stroke="#333" stroke-width="1" />
<text x="535.7" y="300.4" font-size="12.4" textLength="46.5" lengthAdjust="spacingAndGlyphs" stroke="#1d1d1b" stroke-width="0.3">Prostate</text>
<text x="431.5" y="352.5" font-size="12.4" textLength="30.5" lengthAdjust="spacingAndGlyphs" stroke="#1d1d1b" stroke-width="0.3">Testis</text>
<line x1="464.5" y1="349.3" x2="489.5" y2="349.3" stroke="#333" stroke-width="1" />
<text x="663.8" y="344.1" font-size="12.4" textLength="110.4" lengthAdjust="spacingAndGlyphs" stroke="#1d1d1b" stroke-width="0.3">Leydig cell of testis</text>
<text x="241.4" y="504.1" font-size="12.4" textLength="70.7" lengthAdjust="spacingAndGlyphs" stroke="#1d1d1b" stroke-width="0.3">Basal lamina</text>
<text x="241.4" y="528.6" font-size="12.4" textLength="110.4" lengthAdjust="spacingAndGlyphs" stroke="#1d1d1b" stroke-width="0.3">Basal epithelial cell</text>
<text x="241.4" y="560.1" font-size="12.4" textLength="90.8" lengthAdjust="spacingAndGlyphs" stroke="#1d1d1b" stroke-width="0.3">Stromal smooth</text>
<text x="241.4" y="574.6" font-size="12.4" textLength="65.7" lengthAdjust="spacingAndGlyphs" stroke="#1d1d1b" stroke-width="0.3">muscle cell</text>
<text x="241.4" y="599.8" font-size="12.4" textLength="101.9" lengthAdjust="spacingAndGlyphs" stroke="#1d1d1b" stroke-width="0.3">Luminal secretory</text>
<text x="241.4" y="614.3" font-size="12.4" textLength="76.7" lengthAdjust="spacingAndGlyphs" stroke="#1d1d1b" stroke-width="0.3">epithelial cell</text>
<text x="241.4" y="653.7" font-size="12.4" textLength="116.9" lengthAdjust="spacingAndGlyphs" stroke="#1d1d1b" stroke-width="0.3">Neuroendocrine cell</text>
<polyline points="170.8,515.9 193.1,499.7 238.2,499.7" fill="none" stroke="#333" stroke-width="1"/>
<line x1="185.5" y1="523.0" x2="238.2" y2="523.0" stroke="#333" stroke-width="1" />
<line x1="217.5" y1="554.4" x2="238.2" y2="554.4" stroke="#333" stroke-width="1" />
<line x1="187.0" y1="594.0" x2="238.2" y2="594.0" stroke="#333" stroke-width="1" />
<line x1="137.0" y1="648.0" x2="238.2" y2="648.0" stroke="#333" stroke-width="1" />
<line x1="358.9" y1="523.0" x2="507.4" y2="523.0" stroke="#222" stroke-width="1.1" />
<line x1="329.2" y1="610.4" x2="441.3" y2="610.4" stroke="#222" stroke-width="1.1" />
<text x="902.5" y="477.3" font-size="12" text-anchor="middle" font-weight="bold" textLength="60.1" lengthAdjust="spacingAndGlyphs" stroke="#1d1d1b" stroke-width="0.3">PSMA IHC</text>
<text x="687.9" y="608.0" font-size="12.4" textLength="70.7" lengthAdjust="spacingAndGlyphs" stroke="#1d1d1b" stroke-width="0.3">Gland tissue</text>
<text x="687.9" y="649.4" font-size="12.4" textLength="81.2" lengthAdjust="spacingAndGlyphs" stroke="#1d1d1b" stroke-width="0.3">Stromal tissue</text>
<text x="169.6" y="1013.3" font-size="12.4" textLength="39.5" lengthAdjust="spacingAndGlyphs" stroke="#1d1d1b" stroke-width="0.3"><tspan font-style="italic">t</tspan>-SNE 1</text>
<text x="240.6" y="1013.3" font-size="12.4" textLength="52.6" lengthAdjust="spacingAndGlyphs" stroke="#1d1d1b" stroke-width="0.3">Luminal 1</text>
<text x="240.6" y="1027.8" font-size="12.4" textLength="37.4" lengthAdjust="spacingAndGlyphs" stroke="#1d1d1b" stroke-width="0.3">subset</text>
<text x="55.8" y="1054.3" font-size="12" font-weight="bold" textLength="89.8" lengthAdjust="spacingAndGlyphs" stroke="#1d1d1b" stroke-width="0.3">Malignant cells</text>
<text x="212.3" y="1054.3" font-size="12" font-weight="bold" textLength="119.8" lengthAdjust="spacingAndGlyphs" stroke="#1d1d1b" stroke-width="0.3">Non-malignant cells</text>
<text x="343.0" y="851.3" font-size="12" font-weight="bold" textLength="52.5" lengthAdjust="spacingAndGlyphs" stroke="#1d1d1b" stroke-width="0.3">Cell type</text>
<text x="343.0" y="869.5" font-size="12.4" textLength="66.2" lengthAdjust="spacingAndGlyphs" stroke="#1d1d1b" stroke-width="0.3">Basal type 1</text>
<rect x="323.6" y="858.5" width="13.5" height="13.4" fill="#e31b2d" stroke="none" stroke-width="0" />
<text x="343.0" y="887.8" font-size="12.4" textLength="70.8" lengthAdjust="spacingAndGlyphs" stroke="#1d1d1b" stroke-width="0.3">Basal hillock</text>
<rect x="323.6" y="876.5" width="13.5" height="13.4" fill="#2a7ab9" stroke="none" stroke-width="0" />
<text x="343.0" y="906.1" font-size="12.4" textLength="52.5" lengthAdjust="spacingAndGlyphs" stroke="#1d1d1b" stroke-width="0.3">Luminal 1</text>
<rect x="323.6" y="894.4" width="13.5" height="13.4" fill="#41a65d" stroke="none" stroke-width="0" />
<text x="343.0" y="924.4" font-size="12.4" textLength="54.5" lengthAdjust="spacingAndGlyphs" stroke="#1d1d1b" stroke-width="0.3">Luminal 2</text>
<rect x="323.6" y="912.4" width="13.5" height="13.4" fill="#894f99" stroke="none" stroke-width="0" />
<text x="636.5" y="763.6" font-size="12" font-weight="bold" textLength="16.3" lengthAdjust="spacingAndGlyphs" stroke="#1d1d1b" stroke-width="0.3">AR</text>
<text x="846.8" y="763.8" font-size="12" font-weight="bold" textLength="85.6" lengthAdjust="spacingAndGlyphs" stroke="#1d1d1b" stroke-width="0.3">PSMA (<tspan font-style="italic">FOLH1</tspan>)</text>
<text x="647.0" y="1013.5" font-size="12.4" text-anchor="middle" textLength="39.5" lengthAdjust="spacingAndGlyphs" stroke="#1d1d1b" stroke-width="0.3"><tspan font-style="italic">t</tspan>-SNE 1</text>
<text x="895.7" y="1013.5" font-size="12.4" text-anchor="middle" textLength="39.5" lengthAdjust="spacingAndGlyphs" stroke="#1d1d1b" stroke-width="0.3"><tspan font-style="italic">t</tspan>-SNE 1</text>
<text x="769.5" y="1051.3" font-size="12.4" text-anchor="middle" textLength="91.7" lengthAdjust="spacingAndGlyphs" stroke="#1d1d1b" stroke-width="0.3">Expression level</text>
<text x="697.8" y="1082.4" font-size="12.4" textLength="7.1" lengthAdjust="spacingAndGlyphs" stroke="none">0</text>
<text x="851.4" y="1082.4" font-size="12.4" text-anchor="end" textLength="20.8" lengthAdjust="spacingAndGlyphs" stroke="none">Max</text>
</svg>
</body></html>
